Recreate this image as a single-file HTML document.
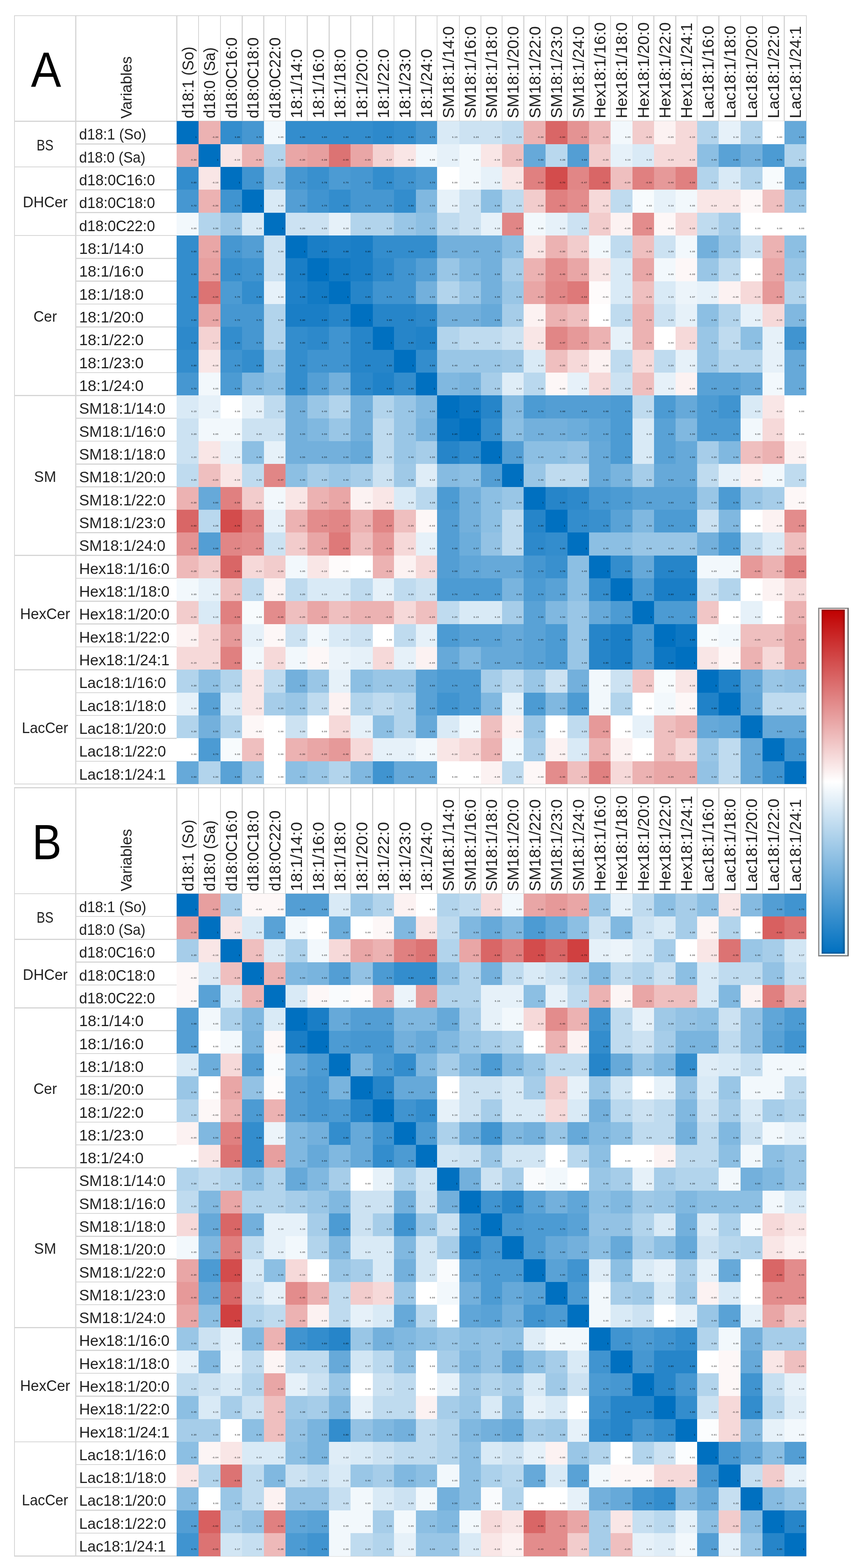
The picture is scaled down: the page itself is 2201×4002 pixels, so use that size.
<!DOCTYPE html>
<html><head><meta charset="utf-8"><title>Heatmap</title><style>
html,body{margin:0;padding:0;background:#fff;}
body{width:2201px;height:4002px;position:relative;overflow:hidden;font-family:"Liberation Sans",Arial,sans-serif;color:#222;}
.l{position:absolute;background:#d5d5d5;}
.c{position:absolute;}
.c i{position:absolute;right:5px;top:38.5px;font-style:normal;font-weight:bold;font-size:5.5px;line-height:5.5px;letter-spacing:.8px;color:rgba(0,0,0,.78);}
.big{position:absolute;font-size:127px;line-height:127px;color:#000;transform-origin:0 0;}
.vh,.ch{position:absolute;white-space:nowrap;transform-origin:0 0;transform:rotate(-90deg) translateY(-50%);line-height:1;}
.vh{font-size:39.3px;}
.ch{font-size:40.2px;}
.rl{position:absolute;white-space:nowrap;font-size:39px;line-height:1;transform-origin:0 0;}
.gl span{display:inline-block;}
.gl{position:absolute;display:flex;align-items:center;justify-content:center;font-size:39px;line-height:1;}
.cb{position:absolute;}
</style></head><body>
<div class="l" style="left:35.7px;top:38.5px;width:2024.4px;height:2.6px"></div>
<div class="l" style="left:35.7px;top:308px;width:2023.1px;height:2.6px"></div>
<div class="l" style="left:35.7px;top:1999.86px;width:2023.1px;height:2.6px"></div>
<div class="l" style="left:35.7px;top:39.8px;width:2.6px;height:1962.66px"></div>
<div class="l" style="left:192.4px;top:39.8px;width:2.6px;height:1961.36px"></div>
<div class="l" style="left:450px;top:39.8px;width:2.6px;height:269.5px"></div>
<div class="l" style="left:505.9px;top:39.8px;width:2.6px;height:269.5px"></div>
<div class="l" style="left:561.5px;top:39.8px;width:2.6px;height:269.5px"></div>
<div class="l" style="left:617.1px;top:39.8px;width:2.6px;height:269.5px"></div>
<div class="l" style="left:672.4px;top:39.8px;width:2.6px;height:269.5px"></div>
<div class="l" style="left:727.8px;top:39.8px;width:2.6px;height:269.5px"></div>
<div class="l" style="left:783.4px;top:39.8px;width:2.6px;height:269.5px"></div>
<div class="l" style="left:839px;top:39.8px;width:2.6px;height:269.5px"></div>
<div class="l" style="left:894.1px;top:39.8px;width:2.6px;height:269.5px"></div>
<div class="l" style="left:950.2px;top:39.8px;width:2.6px;height:269.5px"></div>
<div class="l" style="left:1004.8px;top:39.8px;width:2.6px;height:269.5px"></div>
<div class="l" style="left:1060.3px;top:39.8px;width:2.6px;height:269.5px"></div>
<div class="l" style="left:1114.7px;top:39.8px;width:2.6px;height:269.5px"></div>
<div class="l" style="left:1171.9px;top:39.8px;width:2.6px;height:269.5px"></div>
<div class="l" style="left:1226.5px;top:39.8px;width:2.6px;height:269.5px"></div>
<div class="l" style="left:1280.9px;top:39.8px;width:2.6px;height:269.5px"></div>
<div class="l" style="left:1336px;top:39.8px;width:2.6px;height:269.5px"></div>
<div class="l" style="left:1391.9px;top:39.8px;width:2.6px;height:269.5px"></div>
<div class="l" style="left:1447.3px;top:39.8px;width:2.6px;height:269.5px"></div>
<div class="l" style="left:1502.7px;top:39.8px;width:2.6px;height:269.5px"></div>
<div class="l" style="left:1557.8px;top:39.8px;width:2.6px;height:269.5px"></div>
<div class="l" style="left:1613.7px;top:39.8px;width:2.6px;height:269.5px"></div>
<div class="l" style="left:1668.3px;top:39.8px;width:2.6px;height:269.5px"></div>
<div class="l" style="left:1724px;top:39.8px;width:2.6px;height:269.5px"></div>
<div class="l" style="left:1778.9px;top:39.8px;width:2.6px;height:269.5px"></div>
<div class="l" style="left:1834px;top:39.8px;width:2.6px;height:269.5px"></div>
<div class="l" style="left:1889.8px;top:39.8px;width:2.6px;height:269.5px"></div>
<div class="l" style="left:1945.5px;top:39.8px;width:2.6px;height:269.5px"></div>
<div class="l" style="left:2001.4px;top:39.8px;width:2.6px;height:269.5px"></div>
<div class="l" style="left:2057.5px;top:39.8px;width:2.6px;height:269.5px"></div>
<div class="l" style="left:193.7px;top:366.34px;width:257.6px;height:2.6px"></div>
<div class="l" style="left:193.7px;top:424.68px;width:257.6px;height:2.6px"></div>
<div class="l" style="left:193.7px;top:483.02px;width:257.6px;height:2.6px"></div>
<div class="l" style="left:193.7px;top:541.36px;width:257.6px;height:2.6px"></div>
<div class="l" style="left:193.7px;top:599.7px;width:257.6px;height:2.6px"></div>
<div class="l" style="left:193.7px;top:658.04px;width:257.6px;height:2.6px"></div>
<div class="l" style="left:193.7px;top:716.38px;width:257.6px;height:2.6px"></div>
<div class="l" style="left:193.7px;top:774.72px;width:257.6px;height:2.6px"></div>
<div class="l" style="left:193.7px;top:833.06px;width:257.6px;height:2.6px"></div>
<div class="l" style="left:193.7px;top:891.4px;width:257.6px;height:2.6px"></div>
<div class="l" style="left:193.7px;top:949.74px;width:257.6px;height:2.6px"></div>
<div class="l" style="left:193.7px;top:1008.08px;width:257.6px;height:2.6px"></div>
<div class="l" style="left:193.7px;top:1066.42px;width:257.6px;height:2.6px"></div>
<div class="l" style="left:193.7px;top:1124.76px;width:257.6px;height:2.6px"></div>
<div class="l" style="left:193.7px;top:1183.1px;width:257.6px;height:2.6px"></div>
<div class="l" style="left:193.7px;top:1241.44px;width:257.6px;height:2.6px"></div>
<div class="l" style="left:193.7px;top:1299.78px;width:257.6px;height:2.6px"></div>
<div class="l" style="left:193.7px;top:1358.12px;width:257.6px;height:2.6px"></div>
<div class="l" style="left:193.7px;top:1416.46px;width:257.6px;height:2.6px"></div>
<div class="l" style="left:193.7px;top:1474.8px;width:257.6px;height:2.6px"></div>
<div class="l" style="left:193.7px;top:1533.14px;width:257.6px;height:2.6px"></div>
<div class="l" style="left:193.7px;top:1591.48px;width:257.6px;height:2.6px"></div>
<div class="l" style="left:193.7px;top:1649.82px;width:257.6px;height:2.6px"></div>
<div class="l" style="left:193.7px;top:1708.16px;width:257.6px;height:2.6px"></div>
<div class="l" style="left:193.7px;top:1766.5px;width:257.6px;height:2.6px"></div>
<div class="l" style="left:193.7px;top:1824.84px;width:257.6px;height:2.6px"></div>
<div class="l" style="left:193.7px;top:1883.18px;width:257.6px;height:2.6px"></div>
<div class="l" style="left:193.7px;top:1941.52px;width:257.6px;height:2.6px"></div>
<div class="l" style="left:37px;top:424.68px;width:156.7px;height:2.6px"></div>
<div class="l" style="left:37px;top:599.7px;width:156.7px;height:2.6px"></div>
<div class="l" style="left:37px;top:1008.08px;width:156.7px;height:2.6px"></div>
<div class="l" style="left:37px;top:1416.46px;width:156.7px;height:2.6px"></div>
<div class="l" style="left:37px;top:1708.16px;width:156.7px;height:2.6px"></div>
<div class="c" style="left:451.3px;top:309.3px;width:56.2px;height:58.64px;background:#0070c0"><i>1</i></div>
<div class="c" style="left:507.2px;top:309.3px;width:55.9px;height:58.64px;background:#ecb2b2"><i>-0.30</i></div>
<div class="c" style="left:562.8px;top:309.3px;width:55.9px;height:58.64px;background:#338dcd"><i>0.80</i></div>
<div class="c" style="left:618.4px;top:309.3px;width:55.6px;height:58.64px;background:#4697d1"><i>0.72</i></div>
<div class="c" style="left:673.7px;top:309.3px;width:55.7px;height:58.64px;background:#f2f8fc"><i>0.05</i></div>
<div class="c" style="left:729.1px;top:309.3px;width:55.9px;height:58.64px;background:#338dcd"><i>0.80</i></div>
<div class="c" style="left:784.7px;top:309.3px;width:55.9px;height:58.64px;background:#338dcd"><i>0.80</i></div>
<div class="c" style="left:840.3px;top:309.3px;width:55.4px;height:58.64px;background:#338dcd"><i>0.80</i></div>
<div class="c" style="left:895.4px;top:309.3px;width:56.4px;height:58.64px;background:#338dcd"><i>0.80</i></div>
<div class="c" style="left:951.5px;top:309.3px;width:54.9px;height:58.64px;background:#2d89cb"><i>0.82</i></div>
<div class="c" style="left:1006.1px;top:309.3px;width:55.8px;height:58.64px;background:#338dcd"><i>0.80</i></div>
<div class="c" style="left:1061.6px;top:309.3px;width:54.7px;height:58.64px;background:#4697d1"><i>0.72</i></div>
<div class="c" style="left:1116px;top:309.3px;width:57.5px;height:58.64px;background:#d9eaf6"><i>0.15</i></div>
<div class="c" style="left:1173.2px;top:309.3px;width:54.9px;height:58.64px;background:#cce2f2"><i>0.20</i></div>
<div class="c" style="left:1227.8px;top:309.3px;width:54.7px;height:58.64px;background:#cce2f2"><i>0.20</i></div>
<div class="c" style="left:1282.2px;top:309.3px;width:55.4px;height:58.64px;background:#bfdbef"><i>0.25</i></div>
<div class="c" style="left:1337.3px;top:309.3px;width:56.2px;height:58.64px;background:#ecb2b2"><i>-0.30</i></div>
<div class="c" style="left:1393.2px;top:309.3px;width:55.7px;height:58.64px;background:#d96666"><i>-0.60</i></div>
<div class="c" style="left:1448.6px;top:309.3px;width:55.7px;height:58.64px;background:#e49393"><i>-0.42</i></div>
<div class="c" style="left:1504px;top:309.3px;width:55.4px;height:58.64px;background:#eeb9b9"><i>-0.28</i></div>
<div class="c" style="left:1559.1px;top:309.3px;width:56.2px;height:58.64px;background:#f2f8fc"><i>0.05</i></div>
<div class="c" style="left:1615px;top:309.3px;width:54.9px;height:58.64px;background:#f2cccc"><i>-0.20</i></div>
<div class="c" style="left:1669.6px;top:309.3px;width:56px;height:58.64px;background:#fcf2f2"><i>-0.05</i></div>
<div class="c" style="left:1725.3px;top:309.3px;width:55.2px;height:58.64px;background:#f6d9d9"><i>-0.15</i></div>
<div class="c" style="left:1780.2px;top:309.3px;width:55.4px;height:58.64px;background:#b2d4ec"><i>0.30</i></div>
<div class="c" style="left:1835.3px;top:309.3px;width:56.1px;height:58.64px;background:#e6f1f9"><i>0.10</i></div>
<div class="c" style="left:1891.1px;top:309.3px;width:56px;height:58.64px;background:#b2d4ec"><i>0.30</i></div>
<div class="c" style="left:1946.8px;top:309.3px;width:56.2px;height:58.64px;background:#ffffff"><i>0.00</i></div>
<div class="c" style="left:2002.7px;top:309.3px;width:56.4px;height:58.64px;background:#66a9d9"><i>0.60</i></div>
<div class="c" style="left:451.3px;top:367.64px;width:56.2px;height:58.64px;background:#ecb2b2"><i>-0.30</i></div>
<div class="c" style="left:507.2px;top:367.64px;width:55.9px;height:58.64px;background:#0070c0"><i>1</i></div>
<div class="c" style="left:562.8px;top:367.64px;width:55.9px;height:58.64px;background:#f9e6e6"><i>-0.10</i></div>
<div class="c" style="left:618.4px;top:367.64px;width:55.6px;height:58.64px;background:#ecb2b2"><i>-0.30</i></div>
<div class="c" style="left:673.7px;top:367.64px;width:55.7px;height:58.64px;background:#b2d4ec"><i>0.30</i></div>
<div class="c" style="left:729.1px;top:367.64px;width:55.9px;height:58.64px;background:#e9a6a6"><i>-0.35</i></div>
<div class="c" style="left:784.7px;top:367.64px;width:55.9px;height:58.64px;background:#e79f9f"><i>-0.38</i></div>
<div class="c" style="left:840.3px;top:367.64px;width:55.4px;height:58.64px;background:#dc7373"><i>-0.55</i></div>
<div class="c" style="left:895.4px;top:367.64px;width:56.4px;height:58.64px;background:#e9a6a6"><i>-0.35</i></div>
<div class="c" style="left:951.5px;top:367.64px;width:54.9px;height:58.64px;background:#f4d2d2"><i>-0.17</i></div>
<div class="c" style="left:1006.1px;top:367.64px;width:55.8px;height:58.64px;background:#f9e6e6"><i>-0.10</i></div>
<div class="c" style="left:1061.6px;top:367.64px;width:54.7px;height:58.64px;background:#f2f8fc"><i>0.05</i></div>
<div class="c" style="left:1116px;top:367.64px;width:57.5px;height:58.64px;background:#e6f1f9"><i>0.10</i></div>
<div class="c" style="left:1173.2px;top:367.64px;width:54.9px;height:58.64px;background:#f2f8fc"><i>0.05</i></div>
<div class="c" style="left:1227.8px;top:367.64px;width:54.7px;height:58.64px;background:#f9e6e6"><i>-0.10</i></div>
<div class="c" style="left:1282.2px;top:367.64px;width:55.4px;height:58.64px;background:#efbfbf"><i>-0.25</i></div>
<div class="c" style="left:1337.3px;top:367.64px;width:56.2px;height:58.64px;background:#66a9d9"><i>0.60</i></div>
<div class="c" style="left:1393.2px;top:367.64px;width:55.7px;height:58.64px;background:#b9d8ee"><i>0.28</i></div>
<div class="c" style="left:1448.6px;top:367.64px;width:55.7px;height:58.64px;background:#539ed4"><i>0.68</i></div>
<div class="c" style="left:1504px;top:367.64px;width:55.4px;height:58.64px;background:#f2cccc"><i>-0.20</i></div>
<div class="c" style="left:1559.1px;top:367.64px;width:56.2px;height:58.64px;background:#e6f1f9"><i>0.10</i></div>
<div class="c" style="left:1615px;top:367.64px;width:54.9px;height:58.64px;background:#d9eaf6"><i>0.15</i></div>
<div class="c" style="left:1669.6px;top:367.64px;width:56px;height:58.64px;background:#f6d9d9"><i>-0.15</i></div>
<div class="c" style="left:1725.3px;top:367.64px;width:55.2px;height:58.64px;background:#f6d9d9"><i>-0.15</i></div>
<div class="c" style="left:1780.2px;top:367.64px;width:55.4px;height:58.64px;background:#8cbfe3"><i>0.45</i></div>
<div class="c" style="left:1835.3px;top:367.64px;width:56.1px;height:58.64px;background:#59a2d6"><i>0.65</i></div>
<div class="c" style="left:1891.1px;top:367.64px;width:56px;height:58.64px;background:#73b0dc"><i>0.55</i></div>
<div class="c" style="left:1946.8px;top:367.64px;width:56.2px;height:58.64px;background:#4c9bd3"><i>0.70</i></div>
<div class="c" style="left:2002.7px;top:367.64px;width:56.4px;height:58.64px;background:#b2d4ec"><i>0.30</i></div>
<div class="c" style="left:451.3px;top:425.98px;width:56.2px;height:58.64px;background:#338dcd"><i>0.80</i></div>
<div class="c" style="left:507.2px;top:425.98px;width:55.9px;height:58.64px;background:#f9e6e6"><i>-0.10</i></div>
<div class="c" style="left:562.8px;top:425.98px;width:55.9px;height:58.64px;background:#0070c0"><i>1</i></div>
<div class="c" style="left:618.4px;top:425.98px;width:55.6px;height:58.64px;background:#4094d0"><i>0.75</i></div>
<div class="c" style="left:673.7px;top:425.98px;width:55.7px;height:58.64px;background:#99c6e6"><i>0.40</i></div>
<div class="c" style="left:729.1px;top:425.98px;width:55.9px;height:58.64px;background:#4697d1"><i>0.72</i></div>
<div class="c" style="left:784.7px;top:425.98px;width:55.9px;height:58.64px;background:#3990ce"><i>0.78</i></div>
<div class="c" style="left:840.3px;top:425.98px;width:55.4px;height:58.64px;background:#4c9bd3"><i>0.70</i></div>
<div class="c" style="left:895.4px;top:425.98px;width:56.4px;height:58.64px;background:#4697d1"><i>0.72</i></div>
<div class="c" style="left:951.5px;top:425.98px;width:54.9px;height:58.64px;background:#338dcd"><i>0.80</i></div>
<div class="c" style="left:1006.1px;top:425.98px;width:55.8px;height:58.64px;background:#4094d0"><i>0.75</i></div>
<div class="c" style="left:1061.6px;top:425.98px;width:54.7px;height:58.64px;background:#4c9bd3"><i>0.70</i></div>
<div class="c" style="left:1116px;top:425.98px;width:57.5px;height:58.64px;background:#ffffff"><i>0.00</i></div>
<div class="c" style="left:1173.2px;top:425.98px;width:54.9px;height:58.64px;background:#f2f8fc"><i>0.05</i></div>
<div class="c" style="left:1227.8px;top:425.98px;width:54.7px;height:58.64px;background:#e6f1f9"><i>0.10</i></div>
<div class="c" style="left:1282.2px;top:425.98px;width:55.4px;height:58.64px;background:#f9e6e6"><i>-0.10</i></div>
<div class="c" style="left:1337.3px;top:425.98px;width:56.2px;height:58.64px;background:#e08080"><i>-0.50</i></div>
<div class="c" style="left:1393.2px;top:425.98px;width:55.7px;height:58.64px;background:#d34c4c"><i>-0.70</i></div>
<div class="c" style="left:1448.6px;top:425.98px;width:55.7px;height:58.64px;background:#e18686"><i>-0.47</i></div>
<div class="c" style="left:1504px;top:425.98px;width:55.4px;height:58.64px;background:#d96666"><i>-0.60</i></div>
<div class="c" style="left:1559.1px;top:425.98px;width:56.2px;height:58.64px;background:#efbfbf"><i>-0.25</i></div>
<div class="c" style="left:1615px;top:425.98px;width:54.9px;height:58.64px;background:#e08080"><i>-0.50</i></div>
<div class="c" style="left:1669.6px;top:425.98px;width:56px;height:58.64px;background:#e69999"><i>-0.40</i></div>
<div class="c" style="left:1725.3px;top:425.98px;width:55.2px;height:58.64px;background:#e08080"><i>-0.50</i></div>
<div class="c" style="left:1780.2px;top:425.98px;width:55.4px;height:58.64px;background:#b2d4ec"><i>0.30</i></div>
<div class="c" style="left:1835.3px;top:425.98px;width:56.1px;height:58.64px;background:#d9eaf6"><i>0.15</i></div>
<div class="c" style="left:1891.1px;top:425.98px;width:56px;height:58.64px;background:#b2d4ec"><i>0.30</i></div>
<div class="c" style="left:1946.8px;top:425.98px;width:56.2px;height:58.64px;background:#f7fbfd"><i>0.03</i></div>
<div class="c" style="left:2002.7px;top:425.98px;width:56.4px;height:58.64px;background:#59a2d6"><i>0.65</i></div>
<div class="c" style="left:451.3px;top:484.32px;width:56.2px;height:58.64px;background:#4697d1"><i>0.72</i></div>
<div class="c" style="left:507.2px;top:484.32px;width:55.9px;height:58.64px;background:#ecb2b2"><i>-0.30</i></div>
<div class="c" style="left:562.8px;top:484.32px;width:55.9px;height:58.64px;background:#4094d0"><i>0.75</i></div>
<div class="c" style="left:618.4px;top:484.32px;width:55.6px;height:58.64px;background:#0070c0"><i>1</i></div>
<div class="c" style="left:673.7px;top:484.32px;width:55.7px;height:58.64px;background:#d9eaf6"><i>0.15</i></div>
<div class="c" style="left:729.1px;top:484.32px;width:55.9px;height:58.64px;background:#539ed4"><i>0.68</i></div>
<div class="c" style="left:784.7px;top:484.32px;width:55.9px;height:58.64px;background:#4094d0"><i>0.75</i></div>
<div class="c" style="left:840.3px;top:484.32px;width:55.4px;height:58.64px;background:#338dcd"><i>0.80</i></div>
<div class="c" style="left:895.4px;top:484.32px;width:56.4px;height:58.64px;background:#4697d1"><i>0.72</i></div>
<div class="c" style="left:951.5px;top:484.32px;width:54.9px;height:58.64px;background:#4697d1"><i>0.72</i></div>
<div class="c" style="left:1006.1px;top:484.32px;width:55.8px;height:58.64px;background:#338dcd"><i>0.80</i></div>
<div class="c" style="left:1061.6px;top:484.32px;width:54.7px;height:58.64px;background:#80b8e0"><i>0.50</i></div>
<div class="c" style="left:1116px;top:484.32px;width:57.5px;height:58.64px;background:#e6f1f9"><i>0.10</i></div>
<div class="c" style="left:1173.2px;top:484.32px;width:54.9px;height:58.64px;background:#cce2f2"><i>0.20</i></div>
<div class="c" style="left:1227.8px;top:484.32px;width:54.7px;height:58.64px;background:#8cbfe3"><i>0.45</i></div>
<div class="c" style="left:1282.2px;top:484.32px;width:55.4px;height:58.64px;background:#bfdbef"><i>0.25</i></div>
<div class="c" style="left:1337.3px;top:484.32px;width:56.2px;height:58.64px;background:#f2cccc"><i>-0.20</i></div>
<div class="c" style="left:1393.2px;top:484.32px;width:55.7px;height:58.64px;background:#e08080"><i>-0.50</i></div>
<div class="c" style="left:1448.6px;top:484.32px;width:55.7px;height:58.64px;background:#e38c8c"><i>-0.45</i></div>
<div class="c" style="left:1504px;top:484.32px;width:55.4px;height:58.64px;background:#f6d9d9"><i>-0.15</i></div>
<div class="c" style="left:1559.1px;top:484.32px;width:56.2px;height:58.64px;background:#bfdbef"><i>0.25</i></div>
<div class="c" style="left:1615px;top:484.32px;width:54.9px;height:58.64px;background:#f7fbfd"><i>0.03</i></div>
<div class="c" style="left:1669.6px;top:484.32px;width:56px;height:58.64px;background:#e6f1f9"><i>0.10</i></div>
<div class="c" style="left:1725.3px;top:484.32px;width:55.2px;height:58.64px;background:#f2f8fc"><i>0.05</i></div>
<div class="c" style="left:1780.2px;top:484.32px;width:55.4px;height:58.64px;background:#f9e6e6"><i>-0.10</i></div>
<div class="c" style="left:1835.3px;top:484.32px;width:56.1px;height:58.64px;background:#f9e6e6"><i>-0.10</i></div>
<div class="c" style="left:1891.1px;top:484.32px;width:56px;height:58.64px;background:#fdf7f7"><i>-0.03</i></div>
<div class="c" style="left:1946.8px;top:484.32px;width:56.2px;height:58.64px;background:#efbfbf"><i>-0.25</i></div>
<div class="c" style="left:2002.7px;top:484.32px;width:56.4px;height:58.64px;background:#99c6e6"><i>0.40</i></div>
<div class="c" style="left:451.3px;top:542.66px;width:56.2px;height:58.64px;background:#f2f8fc"><i>0.05</i></div>
<div class="c" style="left:507.2px;top:542.66px;width:55.9px;height:58.64px;background:#b2d4ec"><i>0.30</i></div>
<div class="c" style="left:562.8px;top:542.66px;width:55.9px;height:58.64px;background:#99c6e6"><i>0.40</i></div>
<div class="c" style="left:618.4px;top:542.66px;width:55.6px;height:58.64px;background:#d9eaf6"><i>0.15</i></div>
<div class="c" style="left:673.7px;top:542.66px;width:55.7px;height:58.64px;background:#0070c0"><i>1</i></div>
<div class="c" style="left:729.1px;top:542.66px;width:55.9px;height:58.64px;background:#cce2f2"><i>0.20</i></div>
<div class="c" style="left:784.7px;top:542.66px;width:55.9px;height:58.64px;background:#cce2f2"><i>0.20</i></div>
<div class="c" style="left:840.3px;top:542.66px;width:55.4px;height:58.64px;background:#e6f1f9"><i>0.10</i></div>
<div class="c" style="left:895.4px;top:542.66px;width:56.4px;height:58.64px;background:#b2d4ec"><i>0.30</i></div>
<div class="c" style="left:951.5px;top:542.66px;width:54.9px;height:58.64px;background:#b2d4ec"><i>0.30</i></div>
<div class="c" style="left:1006.1px;top:542.66px;width:55.8px;height:58.64px;background:#99c6e6"><i>0.40</i></div>
<div class="c" style="left:1061.6px;top:542.66px;width:54.7px;height:58.64px;background:#8cbfe3"><i>0.45</i></div>
<div class="c" style="left:1116px;top:542.66px;width:57.5px;height:58.64px;background:#bfdbef"><i>0.25</i></div>
<div class="c" style="left:1173.2px;top:542.66px;width:54.9px;height:58.64px;background:#cce2f2"><i>0.20</i></div>
<div class="c" style="left:1227.8px;top:542.66px;width:54.7px;height:58.64px;background:#e6f1f9"><i>0.10</i></div>
<div class="c" style="left:1282.2px;top:542.66px;width:55.4px;height:58.64px;background:#e18686"><i>-0.47</i></div>
<div class="c" style="left:1337.3px;top:542.66px;width:56.2px;height:58.64px;background:#f2f8fc"><i>0.05</i></div>
<div class="c" style="left:1393.2px;top:542.66px;width:55.7px;height:58.64px;background:#e6f1f9"><i>0.10</i></div>
<div class="c" style="left:1448.6px;top:542.66px;width:55.7px;height:58.64px;background:#cce2f2"><i>0.20</i></div>
<div class="c" style="left:1504px;top:542.66px;width:55.4px;height:58.64px;background:#f2cccc"><i>-0.20</i></div>
<div class="c" style="left:1559.1px;top:542.66px;width:56.2px;height:58.64px;background:#fcf2f2"><i>-0.05</i></div>
<div class="c" style="left:1615px;top:542.66px;width:54.9px;height:58.64px;background:#e38c8c"><i>-0.45</i></div>
<div class="c" style="left:1669.6px;top:542.66px;width:56px;height:58.64px;background:#fdf7f7"><i>-0.03</i></div>
<div class="c" style="left:1725.3px;top:542.66px;width:55.2px;height:58.64px;background:#f6d9d9"><i>-0.15</i></div>
<div class="c" style="left:1780.2px;top:542.66px;width:55.4px;height:58.64px;background:#bfdbef"><i>0.25</i></div>
<div class="c" style="left:1835.3px;top:542.66px;width:56.1px;height:58.64px;background:#a6cde9"><i>0.35</i></div>
<div class="c" style="left:1891.1px;top:542.66px;width:56px;height:58.64px;background:#ffffff"><i>0.00</i></div>
<div class="c" style="left:1946.8px;top:542.66px;width:56.2px;height:58.64px;background:#ffffff"><i>0.00</i></div>
<div class="c" style="left:2002.7px;top:542.66px;width:56.4px;height:58.64px;background:#ffffff"><i>0.00</i></div>
<div class="c" style="left:451.3px;top:601px;width:56.2px;height:58.64px;background:#338dcd"><i>0.80</i></div>
<div class="c" style="left:507.2px;top:601px;width:55.9px;height:58.64px;background:#e9a6a6"><i>-0.35</i></div>
<div class="c" style="left:562.8px;top:601px;width:55.9px;height:58.64px;background:#4697d1"><i>0.72</i></div>
<div class="c" style="left:618.4px;top:601px;width:55.6px;height:58.64px;background:#539ed4"><i>0.68</i></div>
<div class="c" style="left:673.7px;top:601px;width:55.7px;height:58.64px;background:#cce2f2"><i>0.20</i></div>
<div class="c" style="left:729.1px;top:601px;width:55.9px;height:58.64px;background:#0070c0"><i>1</i></div>
<div class="c" style="left:784.7px;top:601px;width:55.9px;height:58.64px;background:#1a7ec6"><i>0.90</i></div>
<div class="c" style="left:840.3px;top:601px;width:55.4px;height:58.64px;background:#1f81c8"><i>0.88</i></div>
<div class="c" style="left:895.4px;top:601px;width:56.4px;height:58.64px;background:#1a7ec6"><i>0.90</i></div>
<div class="c" style="left:951.5px;top:601px;width:54.9px;height:58.64px;background:#338dcd"><i>0.80</i></div>
<div class="c" style="left:1006.1px;top:601px;width:55.8px;height:58.64px;background:#338dcd"><i>0.80</i></div>
<div class="c" style="left:1061.6px;top:601px;width:54.7px;height:58.64px;background:#338dcd"><i>0.80</i></div>
<div class="c" style="left:1116px;top:601px;width:57.5px;height:58.64px;background:#73b0dc"><i>0.55</i></div>
<div class="c" style="left:1173.2px;top:601px;width:54.9px;height:58.64px;background:#73b0dc"><i>0.55</i></div>
<div class="c" style="left:1227.8px;top:601px;width:54.7px;height:58.64px;background:#73b0dc"><i>0.55</i></div>
<div class="c" style="left:1282.2px;top:601px;width:55.4px;height:58.64px;background:#8cbfe3"><i>0.45</i></div>
<div class="c" style="left:1337.3px;top:601px;width:56.2px;height:58.64px;background:#f9e6e6"><i>-0.10</i></div>
<div class="c" style="left:1393.2px;top:601px;width:55.7px;height:58.64px;background:#ecb2b2"><i>-0.30</i></div>
<div class="c" style="left:1448.6px;top:601px;width:55.7px;height:58.64px;background:#f2cccc"><i>-0.20</i></div>
<div class="c" style="left:1504px;top:601px;width:55.4px;height:58.64px;background:#f2f8fc"><i>0.05</i></div>
<div class="c" style="left:1559.1px;top:601px;width:56.2px;height:58.64px;background:#bfdbef"><i>0.25</i></div>
<div class="c" style="left:1615px;top:601px;width:54.9px;height:58.64px;background:#efbfbf"><i>-0.25</i></div>
<div class="c" style="left:1669.6px;top:601px;width:56px;height:58.64px;background:#cce2f2"><i>0.20</i></div>
<div class="c" style="left:1725.3px;top:601px;width:55.2px;height:58.64px;background:#f2f8fc"><i>0.05</i></div>
<div class="c" style="left:1780.2px;top:601px;width:55.4px;height:58.64px;background:#73b0dc"><i>0.55</i></div>
<div class="c" style="left:1835.3px;top:601px;width:56.1px;height:58.64px;background:#99c6e6"><i>0.40</i></div>
<div class="c" style="left:1891.1px;top:601px;width:56px;height:58.64px;background:#cce2f2"><i>0.20</i></div>
<div class="c" style="left:1946.8px;top:601px;width:56.2px;height:58.64px;background:#ecb2b2"><i>-0.30</i></div>
<div class="c" style="left:2002.7px;top:601px;width:56.4px;height:58.64px;background:#8cbfe3"><i>0.45</i></div>
<div class="c" style="left:451.3px;top:659.34px;width:56.2px;height:58.64px;background:#338dcd"><i>0.80</i></div>
<div class="c" style="left:507.2px;top:659.34px;width:55.9px;height:58.64px;background:#e79f9f"><i>-0.38</i></div>
<div class="c" style="left:562.8px;top:659.34px;width:55.9px;height:58.64px;background:#3990ce"><i>0.78</i></div>
<div class="c" style="left:618.4px;top:659.34px;width:55.6px;height:58.64px;background:#4094d0"><i>0.75</i></div>
<div class="c" style="left:673.7px;top:659.34px;width:55.7px;height:58.64px;background:#cce2f2"><i>0.20</i></div>
<div class="c" style="left:729.1px;top:659.34px;width:55.9px;height:58.64px;background:#1a7ec6"><i>0.90</i></div>
<div class="c" style="left:784.7px;top:659.34px;width:55.9px;height:58.64px;background:#0070c0"><i>1</i></div>
<div class="c" style="left:840.3px;top:659.34px;width:55.4px;height:58.64px;background:#127ac4"><i>0.93</i></div>
<div class="c" style="left:895.4px;top:659.34px;width:56.4px;height:58.64px;background:#1a7ec6"><i>0.90</i></div>
<div class="c" style="left:951.5px;top:659.34px;width:54.9px;height:58.64px;background:#2d89cb"><i>0.82</i></div>
<div class="c" style="left:1006.1px;top:659.34px;width:55.8px;height:58.64px;background:#4094d0"><i>0.75</i></div>
<div class="c" style="left:1061.6px;top:659.34px;width:54.7px;height:58.64px;background:#549fd5"><i>0.67</i></div>
<div class="c" style="left:1116px;top:659.34px;width:57.5px;height:58.64px;background:#99c6e6"><i>0.40</i></div>
<div class="c" style="left:1173.2px;top:659.34px;width:54.9px;height:58.64px;background:#80b8e0"><i>0.50</i></div>
<div class="c" style="left:1227.8px;top:659.34px;width:54.7px;height:58.64px;background:#73b0dc"><i>0.55</i></div>
<div class="c" style="left:1282.2px;top:659.34px;width:55.4px;height:58.64px;background:#a6cde9"><i>0.35</i></div>
<div class="c" style="left:1337.3px;top:659.34px;width:56.2px;height:58.64px;background:#ecb2b2"><i>-0.30</i></div>
<div class="c" style="left:1393.2px;top:659.34px;width:55.7px;height:58.64px;background:#e38c8c"><i>-0.45</i></div>
<div class="c" style="left:1448.6px;top:659.34px;width:55.7px;height:58.64px;background:#e9a6a6"><i>-0.35</i></div>
<div class="c" style="left:1504px;top:659.34px;width:55.4px;height:58.64px;background:#f9e6e6"><i>-0.10</i></div>
<div class="c" style="left:1559.1px;top:659.34px;width:56.2px;height:58.64px;background:#d9eaf6"><i>0.15</i></div>
<div class="c" style="left:1615px;top:659.34px;width:54.9px;height:58.64px;background:#e9a6a6"><i>-0.35</i></div>
<div class="c" style="left:1669.6px;top:659.34px;width:56px;height:58.64px;background:#f2f8fc"><i>0.05</i></div>
<div class="c" style="left:1725.3px;top:659.34px;width:55.2px;height:58.64px;background:#fdf7f7"><i>-0.03</i></div>
<div class="c" style="left:1780.2px;top:659.34px;width:55.4px;height:58.64px;background:#99c6e6"><i>0.40</i></div>
<div class="c" style="left:1835.3px;top:659.34px;width:56.1px;height:58.64px;background:#bfdbef"><i>0.25</i></div>
<div class="c" style="left:1891.1px;top:659.34px;width:56px;height:58.64px;background:#ffffff"><i>0.00</i></div>
<div class="c" style="left:1946.8px;top:659.34px;width:56.2px;height:58.64px;background:#e9a6a6"><i>-0.35</i></div>
<div class="c" style="left:2002.7px;top:659.34px;width:56.4px;height:58.64px;background:#99c6e6"><i>0.40</i></div>
<div class="c" style="left:451.3px;top:717.68px;width:56.2px;height:58.64px;background:#338dcd"><i>0.80</i></div>
<div class="c" style="left:507.2px;top:717.68px;width:55.9px;height:58.64px;background:#dc7373"><i>-0.55</i></div>
<div class="c" style="left:562.8px;top:717.68px;width:55.9px;height:58.64px;background:#4c9bd3"><i>0.70</i></div>
<div class="c" style="left:618.4px;top:717.68px;width:55.6px;height:58.64px;background:#338dcd"><i>0.80</i></div>
<div class="c" style="left:673.7px;top:717.68px;width:55.7px;height:58.64px;background:#e6f1f9"><i>0.10</i></div>
<div class="c" style="left:729.1px;top:717.68px;width:55.9px;height:58.64px;background:#1f81c8"><i>0.88</i></div>
<div class="c" style="left:784.7px;top:717.68px;width:55.9px;height:58.64px;background:#127ac4"><i>0.93</i></div>
<div class="c" style="left:840.3px;top:717.68px;width:55.4px;height:58.64px;background:#0070c0"><i>1</i></div>
<div class="c" style="left:895.4px;top:717.68px;width:56.4px;height:58.64px;background:#2685c9"><i>0.85</i></div>
<div class="c" style="left:951.5px;top:717.68px;width:54.9px;height:58.64px;background:#4094d0"><i>0.75</i></div>
<div class="c" style="left:1006.1px;top:717.68px;width:55.8px;height:58.64px;background:#4094d0"><i>0.75</i></div>
<div class="c" style="left:1061.6px;top:717.68px;width:54.7px;height:58.64px;background:#73b0dc"><i>0.55</i></div>
<div class="c" style="left:1116px;top:717.68px;width:57.5px;height:58.64px;background:#b2d4ec"><i>0.30</i></div>
<div class="c" style="left:1173.2px;top:717.68px;width:54.9px;height:58.64px;background:#99c6e6"><i>0.40</i></div>
<div class="c" style="left:1227.8px;top:717.68px;width:54.7px;height:58.64px;background:#73b0dc"><i>0.55</i></div>
<div class="c" style="left:1282.2px;top:717.68px;width:55.4px;height:58.64px;background:#99c6e6"><i>0.40</i></div>
<div class="c" style="left:1337.3px;top:717.68px;width:56.2px;height:58.64px;background:#e9a6a6"><i>-0.35</i></div>
<div class="c" style="left:1393.2px;top:717.68px;width:55.7px;height:58.64px;background:#e18686"><i>-0.47</i></div>
<div class="c" style="left:1448.6px;top:717.68px;width:55.7px;height:58.64px;background:#de7979"><i>-0.53</i></div>
<div class="c" style="left:1504px;top:717.68px;width:55.4px;height:58.64px;background:#fefbfb"><i>-0.01</i></div>
<div class="c" style="left:1559.1px;top:717.68px;width:56.2px;height:58.64px;background:#d9eaf6"><i>0.15</i></div>
<div class="c" style="left:1615px;top:717.68px;width:54.9px;height:58.64px;background:#efbfbf"><i>-0.25</i></div>
<div class="c" style="left:1669.6px;top:717.68px;width:56px;height:58.64px;background:#d9eaf6"><i>0.15</i></div>
<div class="c" style="left:1725.3px;top:717.68px;width:55.2px;height:58.64px;background:#ecf4fa"><i>0.07</i></div>
<div class="c" style="left:1780.2px;top:717.68px;width:55.4px;height:58.64px;background:#e6f1f9"><i>0.10</i></div>
<div class="c" style="left:1835.3px;top:717.68px;width:56.1px;height:58.64px;background:#fcf2f2"><i>-0.05</i></div>
<div class="c" style="left:1891.1px;top:717.68px;width:56px;height:58.64px;background:#f6d9d9"><i>-0.15</i></div>
<div class="c" style="left:1946.8px;top:717.68px;width:56.2px;height:58.64px;background:#e69999"><i>-0.40</i></div>
<div class="c" style="left:2002.7px;top:717.68px;width:56.4px;height:58.64px;background:#b2d4ec"><i>0.30</i></div>
<div class="c" style="left:451.3px;top:776.02px;width:56.2px;height:58.64px;background:#338dcd"><i>0.80</i></div>
<div class="c" style="left:507.2px;top:776.02px;width:55.9px;height:58.64px;background:#e9a6a6"><i>-0.35</i></div>
<div class="c" style="left:562.8px;top:776.02px;width:55.9px;height:58.64px;background:#4697d1"><i>0.72</i></div>
<div class="c" style="left:618.4px;top:776.02px;width:55.6px;height:58.64px;background:#4697d1"><i>0.72</i></div>
<div class="c" style="left:673.7px;top:776.02px;width:55.7px;height:58.64px;background:#b2d4ec"><i>0.30</i></div>
<div class="c" style="left:729.1px;top:776.02px;width:55.9px;height:58.64px;background:#1a7ec6"><i>0.90</i></div>
<div class="c" style="left:784.7px;top:776.02px;width:55.9px;height:58.64px;background:#1a7ec6"><i>0.90</i></div>
<div class="c" style="left:840.3px;top:776.02px;width:55.4px;height:58.64px;background:#2685c9"><i>0.85</i></div>
<div class="c" style="left:895.4px;top:776.02px;width:56.4px;height:58.64px;background:#0070c0"><i>1</i></div>
<div class="c" style="left:951.5px;top:776.02px;width:54.9px;height:58.64px;background:#2685c9"><i>0.85</i></div>
<div class="c" style="left:1006.1px;top:776.02px;width:55.8px;height:58.64px;background:#2685c9"><i>0.85</i></div>
<div class="c" style="left:1061.6px;top:776.02px;width:54.7px;height:58.64px;background:#2d89cb"><i>0.82</i></div>
<div class="c" style="left:1116px;top:776.02px;width:57.5px;height:58.64px;background:#73b0dc"><i>0.55</i></div>
<div class="c" style="left:1173.2px;top:776.02px;width:54.9px;height:58.64px;background:#73b0dc"><i>0.55</i></div>
<div class="c" style="left:1227.8px;top:776.02px;width:54.7px;height:58.64px;background:#66a9d9"><i>0.60</i></div>
<div class="c" style="left:1282.2px;top:776.02px;width:55.4px;height:58.64px;background:#a6cde9"><i>0.35</i></div>
<div class="c" style="left:1337.3px;top:776.02px;width:56.2px;height:58.64px;background:#fcf2f2"><i>-0.05</i></div>
<div class="c" style="left:1393.2px;top:776.02px;width:55.7px;height:58.64px;background:#ecb2b2"><i>-0.30</i></div>
<div class="c" style="left:1448.6px;top:776.02px;width:55.7px;height:58.64px;background:#efbfbf"><i>-0.25</i></div>
<div class="c" style="left:1504px;top:776.02px;width:55.4px;height:58.64px;background:#ffffff"><i>0.00</i></div>
<div class="c" style="left:1559.1px;top:776.02px;width:56.2px;height:58.64px;background:#bfdbef"><i>0.25</i></div>
<div class="c" style="left:1615px;top:776.02px;width:54.9px;height:58.64px;background:#ecb2b2"><i>-0.30</i></div>
<div class="c" style="left:1669.6px;top:776.02px;width:56px;height:58.64px;background:#cce2f2"><i>0.20</i></div>
<div class="c" style="left:1725.3px;top:776.02px;width:55.2px;height:58.64px;background:#e6f1f9"><i>0.10</i></div>
<div class="c" style="left:1780.2px;top:776.02px;width:55.4px;height:58.64px;background:#8cbfe3"><i>0.45</i></div>
<div class="c" style="left:1835.3px;top:776.02px;width:56.1px;height:58.64px;background:#b2d4ec"><i>0.30</i></div>
<div class="c" style="left:1891.1px;top:776.02px;width:56px;height:58.64px;background:#e6f1f9"><i>0.10</i></div>
<div class="c" style="left:1946.8px;top:776.02px;width:56.2px;height:58.64px;background:#f6d9d9"><i>-0.15</i></div>
<div class="c" style="left:2002.7px;top:776.02px;width:56.4px;height:58.64px;background:#80b8e0"><i>0.50</i></div>
<div class="c" style="left:451.3px;top:834.36px;width:56.2px;height:58.64px;background:#2d89cb"><i>0.82</i></div>
<div class="c" style="left:507.2px;top:834.36px;width:55.9px;height:58.64px;background:#f4d2d2"><i>-0.17</i></div>
<div class="c" style="left:562.8px;top:834.36px;width:55.9px;height:58.64px;background:#338dcd"><i>0.80</i></div>
<div class="c" style="left:618.4px;top:834.36px;width:55.6px;height:58.64px;background:#4697d1"><i>0.72</i></div>
<div class="c" style="left:673.7px;top:834.36px;width:55.7px;height:58.64px;background:#b2d4ec"><i>0.30</i></div>
<div class="c" style="left:729.1px;top:834.36px;width:55.9px;height:58.64px;background:#338dcd"><i>0.80</i></div>
<div class="c" style="left:784.7px;top:834.36px;width:55.9px;height:58.64px;background:#2d89cb"><i>0.82</i></div>
<div class="c" style="left:840.3px;top:834.36px;width:55.4px;height:58.64px;background:#4094d0"><i>0.75</i></div>
<div class="c" style="left:895.4px;top:834.36px;width:56.4px;height:58.64px;background:#2685c9"><i>0.85</i></div>
<div class="c" style="left:951.5px;top:834.36px;width:54.9px;height:58.64px;background:#0070c0"><i>1</i></div>
<div class="c" style="left:1006.1px;top:834.36px;width:55.8px;height:58.64px;background:#2685c9"><i>0.85</i></div>
<div class="c" style="left:1061.6px;top:834.36px;width:54.7px;height:58.64px;background:#2082c8"><i>0.88</i></div>
<div class="c" style="left:1116px;top:834.36px;width:57.5px;height:58.64px;background:#b2d4ec"><i>0.30</i></div>
<div class="c" style="left:1173.2px;top:834.36px;width:54.9px;height:58.64px;background:#bfdbef"><i>0.25</i></div>
<div class="c" style="left:1227.8px;top:834.36px;width:54.7px;height:58.64px;background:#bfdbef"><i>0.25</i></div>
<div class="c" style="left:1282.2px;top:834.36px;width:55.4px;height:58.64px;background:#cce2f2"><i>0.20</i></div>
<div class="c" style="left:1337.3px;top:834.36px;width:56.2px;height:58.64px;background:#f9e6e6"><i>-0.10</i></div>
<div class="c" style="left:1393.2px;top:834.36px;width:55.7px;height:58.64px;background:#e18686"><i>-0.47</i></div>
<div class="c" style="left:1448.6px;top:834.36px;width:55.7px;height:58.64px;background:#e69999"><i>-0.40</i></div>
<div class="c" style="left:1504px;top:834.36px;width:55.4px;height:58.64px;background:#ecb2b2"><i>-0.30</i></div>
<div class="c" style="left:1559.1px;top:834.36px;width:56.2px;height:58.64px;background:#e6f1f9"><i>0.10</i></div>
<div class="c" style="left:1615px;top:834.36px;width:54.9px;height:58.64px;background:#ecb2b2"><i>-0.30</i></div>
<div class="c" style="left:1669.6px;top:834.36px;width:56px;height:58.64px;background:#ffffff"><i>0.00</i></div>
<div class="c" style="left:1725.3px;top:834.36px;width:55.2px;height:58.64px;background:#f6d9d9"><i>-0.15</i></div>
<div class="c" style="left:1780.2px;top:834.36px;width:55.4px;height:58.64px;background:#99c6e6"><i>0.40</i></div>
<div class="c" style="left:1835.3px;top:834.36px;width:56.1px;height:58.64px;background:#bfdbef"><i>0.25</i></div>
<div class="c" style="left:1891.1px;top:834.36px;width:56px;height:58.64px;background:#8cbfe3"><i>0.45</i></div>
<div class="c" style="left:1946.8px;top:834.36px;width:56.2px;height:58.64px;background:#e6f1f9"><i>0.10</i></div>
<div class="c" style="left:2002.7px;top:834.36px;width:56.4px;height:58.64px;background:#4094d0"><i>0.75</i></div>
<div class="c" style="left:451.3px;top:892.7px;width:56.2px;height:58.64px;background:#338dcd"><i>0.80</i></div>
<div class="c" style="left:507.2px;top:892.7px;width:55.9px;height:58.64px;background:#f9e6e6"><i>-0.10</i></div>
<div class="c" style="left:562.8px;top:892.7px;width:55.9px;height:58.64px;background:#4094d0"><i>0.75</i></div>
<div class="c" style="left:618.4px;top:892.7px;width:55.6px;height:58.64px;background:#338dcd"><i>0.80</i></div>
<div class="c" style="left:673.7px;top:892.7px;width:55.7px;height:58.64px;background:#99c6e6"><i>0.40</i></div>
<div class="c" style="left:729.1px;top:892.7px;width:55.9px;height:58.64px;background:#338dcd"><i>0.80</i></div>
<div class="c" style="left:784.7px;top:892.7px;width:55.9px;height:58.64px;background:#4094d0"><i>0.75</i></div>
<div class="c" style="left:840.3px;top:892.7px;width:55.4px;height:58.64px;background:#4094d0"><i>0.75</i></div>
<div class="c" style="left:895.4px;top:892.7px;width:56.4px;height:58.64px;background:#2685c9"><i>0.85</i></div>
<div class="c" style="left:951.5px;top:892.7px;width:54.9px;height:58.64px;background:#2685c9"><i>0.85</i></div>
<div class="c" style="left:1006.1px;top:892.7px;width:55.8px;height:58.64px;background:#0070c0"><i>1</i></div>
<div class="c" style="left:1061.6px;top:892.7px;width:54.7px;height:58.64px;background:#338dcd"><i>0.80</i></div>
<div class="c" style="left:1116px;top:892.7px;width:57.5px;height:58.64px;background:#99c6e6"><i>0.40</i></div>
<div class="c" style="left:1173.2px;top:892.7px;width:54.9px;height:58.64px;background:#99c6e6"><i>0.40</i></div>
<div class="c" style="left:1227.8px;top:892.7px;width:54.7px;height:58.64px;background:#99c6e6"><i>0.40</i></div>
<div class="c" style="left:1282.2px;top:892.7px;width:55.4px;height:58.64px;background:#9fc9e7"><i>0.38</i></div>
<div class="c" style="left:1337.3px;top:892.7px;width:56.2px;height:58.64px;background:#d9eaf6"><i>0.15</i></div>
<div class="c" style="left:1393.2px;top:892.7px;width:55.7px;height:58.64px;background:#efbfbf"><i>-0.25</i></div>
<div class="c" style="left:1448.6px;top:892.7px;width:55.7px;height:58.64px;background:#f6d9d9"><i>-0.15</i></div>
<div class="c" style="left:1504px;top:892.7px;width:55.4px;height:58.64px;background:#fcf2f2"><i>-0.05</i></div>
<div class="c" style="left:1559.1px;top:892.7px;width:56.2px;height:58.64px;background:#bfdbef"><i>0.25</i></div>
<div class="c" style="left:1615px;top:892.7px;width:54.9px;height:58.64px;background:#f6d9d9"><i>-0.15</i></div>
<div class="c" style="left:1669.6px;top:892.7px;width:56px;height:58.64px;background:#bfdbef"><i>0.25</i></div>
<div class="c" style="left:1725.3px;top:892.7px;width:55.2px;height:58.64px;background:#e6f1f9"><i>0.10</i></div>
<div class="c" style="left:1780.2px;top:892.7px;width:55.4px;height:58.64px;background:#99c6e6"><i>0.40</i></div>
<div class="c" style="left:1835.3px;top:892.7px;width:56.1px;height:58.64px;background:#b2d4ec"><i>0.30</i></div>
<div class="c" style="left:1891.1px;top:892.7px;width:56px;height:58.64px;background:#b2d4ec"><i>0.30</i></div>
<div class="c" style="left:1946.8px;top:892.7px;width:56.2px;height:58.64px;background:#e6f1f9"><i>0.10</i></div>
<div class="c" style="left:2002.7px;top:892.7px;width:56.4px;height:58.64px;background:#66a9d9"><i>0.60</i></div>
<div class="c" style="left:451.3px;top:951.04px;width:56.2px;height:58.64px;background:#4697d1"><i>0.72</i></div>
<div class="c" style="left:507.2px;top:951.04px;width:55.9px;height:58.64px;background:#f2f8fc"><i>0.05</i></div>
<div class="c" style="left:562.8px;top:951.04px;width:55.9px;height:58.64px;background:#4c9bd3"><i>0.70</i></div>
<div class="c" style="left:618.4px;top:951.04px;width:55.6px;height:58.64px;background:#80b8e0"><i>0.50</i></div>
<div class="c" style="left:673.7px;top:951.04px;width:55.7px;height:58.64px;background:#8cbfe3"><i>0.45</i></div>
<div class="c" style="left:729.1px;top:951.04px;width:55.9px;height:58.64px;background:#338dcd"><i>0.80</i></div>
<div class="c" style="left:784.7px;top:951.04px;width:55.9px;height:58.64px;background:#549fd5"><i>0.67</i></div>
<div class="c" style="left:840.3px;top:951.04px;width:55.4px;height:58.64px;background:#73b0dc"><i>0.55</i></div>
<div class="c" style="left:895.4px;top:951.04px;width:56.4px;height:58.64px;background:#2d89cb"><i>0.82</i></div>
<div class="c" style="left:951.5px;top:951.04px;width:54.9px;height:58.64px;background:#2082c8"><i>0.88</i></div>
<div class="c" style="left:1006.1px;top:951.04px;width:55.8px;height:58.64px;background:#338dcd"><i>0.80</i></div>
<div class="c" style="left:1061.6px;top:951.04px;width:54.7px;height:58.64px;background:#0070c0"><i>1</i></div>
<div class="c" style="left:1116px;top:951.04px;width:57.5px;height:58.64px;background:#80b8e0"><i>0.50</i></div>
<div class="c" style="left:1173.2px;top:951.04px;width:54.9px;height:58.64px;background:#79b4de"><i>0.53</i></div>
<div class="c" style="left:1227.8px;top:951.04px;width:54.7px;height:58.64px;background:#a6cde9"><i>0.35</i></div>
<div class="c" style="left:1282.2px;top:951.04px;width:55.4px;height:58.64px;background:#dfedf7"><i>0.12</i></div>
<div class="c" style="left:1337.3px;top:951.04px;width:56.2px;height:58.64px;background:#b9d8ee"><i>0.28</i></div>
<div class="c" style="left:1393.2px;top:951.04px;width:55.7px;height:58.64px;background:#fdf7f7"><i>-0.03</i></div>
<div class="c" style="left:1448.6px;top:951.04px;width:55.7px;height:58.64px;background:#e6f1f9"><i>0.10</i></div>
<div class="c" style="left:1504px;top:951.04px;width:55.4px;height:58.64px;background:#f6d9d9"><i>-0.15</i></div>
<div class="c" style="left:1559.1px;top:951.04px;width:56.2px;height:58.64px;background:#cce2f2"><i>0.20</i></div>
<div class="c" style="left:1615px;top:951.04px;width:54.9px;height:58.64px;background:#efbfbf"><i>-0.25</i></div>
<div class="c" style="left:1669.6px;top:951.04px;width:56px;height:58.64px;background:#e6f1f9"><i>0.10</i></div>
<div class="c" style="left:1725.3px;top:951.04px;width:55.2px;height:58.64px;background:#fcf2f2"><i>-0.05</i></div>
<div class="c" style="left:1780.2px;top:951.04px;width:55.4px;height:58.64px;background:#59a2d6"><i>0.65</i></div>
<div class="c" style="left:1835.3px;top:951.04px;width:56.1px;height:58.64px;background:#59a2d6"><i>0.65</i></div>
<div class="c" style="left:1891.1px;top:951.04px;width:56px;height:58.64px;background:#66a9d9"><i>0.60</i></div>
<div class="c" style="left:1946.8px;top:951.04px;width:56.2px;height:58.64px;background:#f2f8fc"><i>0.05</i></div>
<div class="c" style="left:2002.7px;top:951.04px;width:56.4px;height:58.64px;background:#66a9d9"><i>0.60</i></div>
<div class="c" style="left:451.3px;top:1009.38px;width:56.2px;height:58.64px;background:#d9eaf6"><i>0.15</i></div>
<div class="c" style="left:507.2px;top:1009.38px;width:55.9px;height:58.64px;background:#e6f1f9"><i>0.10</i></div>
<div class="c" style="left:562.8px;top:1009.38px;width:55.9px;height:58.64px;background:#ffffff"><i>0.00</i></div>
<div class="c" style="left:618.4px;top:1009.38px;width:55.6px;height:58.64px;background:#e6f1f9"><i>0.10</i></div>
<div class="c" style="left:673.7px;top:1009.38px;width:55.7px;height:58.64px;background:#bfdbef"><i>0.25</i></div>
<div class="c" style="left:729.1px;top:1009.38px;width:55.9px;height:58.64px;background:#73b0dc"><i>0.55</i></div>
<div class="c" style="left:784.7px;top:1009.38px;width:55.9px;height:58.64px;background:#99c6e6"><i>0.40</i></div>
<div class="c" style="left:840.3px;top:1009.38px;width:55.4px;height:58.64px;background:#b2d4ec"><i>0.30</i></div>
<div class="c" style="left:895.4px;top:1009.38px;width:56.4px;height:58.64px;background:#73b0dc"><i>0.55</i></div>
<div class="c" style="left:951.5px;top:1009.38px;width:54.9px;height:58.64px;background:#b2d4ec"><i>0.30</i></div>
<div class="c" style="left:1006.1px;top:1009.38px;width:55.8px;height:58.64px;background:#99c6e6"><i>0.40</i></div>
<div class="c" style="left:1061.6px;top:1009.38px;width:54.7px;height:58.64px;background:#80b8e0"><i>0.50</i></div>
<div class="c" style="left:1116px;top:1009.38px;width:57.5px;height:58.64px;background:#0070c0"><i>1</i></div>
<div class="c" style="left:1173.2px;top:1009.38px;width:54.9px;height:58.64px;background:#0d77c3"><i>0.95</i></div>
<div class="c" style="left:1227.8px;top:1009.38px;width:54.7px;height:58.64px;background:#2685c9"><i>0.85</i></div>
<div class="c" style="left:1282.2px;top:1009.38px;width:55.4px;height:58.64px;background:#86bbe1"><i>0.47</i></div>
<div class="c" style="left:1337.3px;top:1009.38px;width:56.2px;height:58.64px;background:#4c9bd3"><i>0.70</i></div>
<div class="c" style="left:1393.2px;top:1009.38px;width:55.7px;height:58.64px;background:#539ed4"><i>0.68</i></div>
<div class="c" style="left:1448.6px;top:1009.38px;width:55.7px;height:58.64px;background:#539ed4"><i>0.68</i></div>
<div class="c" style="left:1504px;top:1009.38px;width:55.4px;height:58.64px;background:#539ed4"><i>0.68</i></div>
<div class="c" style="left:1559.1px;top:1009.38px;width:56.2px;height:58.64px;background:#4c9bd3"><i>0.70</i></div>
<div class="c" style="left:1615px;top:1009.38px;width:54.9px;height:58.64px;background:#bfdbef"><i>0.25</i></div>
<div class="c" style="left:1669.6px;top:1009.38px;width:56px;height:58.64px;background:#4c9bd3"><i>0.70</i></div>
<div class="c" style="left:1725.3px;top:1009.38px;width:55.2px;height:58.64px;background:#66a9d9"><i>0.60</i></div>
<div class="c" style="left:1780.2px;top:1009.38px;width:55.4px;height:58.64px;background:#4c9bd3"><i>0.70</i></div>
<div class="c" style="left:1835.3px;top:1009.38px;width:56.1px;height:58.64px;background:#4094d0"><i>0.75</i></div>
<div class="c" style="left:1891.1px;top:1009.38px;width:56px;height:58.64px;background:#d9eaf6"><i>0.15</i></div>
<div class="c" style="left:1946.8px;top:1009.38px;width:56.2px;height:58.64px;background:#f9e6e6"><i>-0.10</i></div>
<div class="c" style="left:2002.7px;top:1009.38px;width:56.4px;height:58.64px;background:#ffffff"><i>0.00</i></div>
<div class="c" style="left:451.3px;top:1067.72px;width:56.2px;height:58.64px;background:#cce2f2"><i>0.20</i></div>
<div class="c" style="left:507.2px;top:1067.72px;width:55.9px;height:58.64px;background:#f2f8fc"><i>0.05</i></div>
<div class="c" style="left:562.8px;top:1067.72px;width:55.9px;height:58.64px;background:#f2f8fc"><i>0.05</i></div>
<div class="c" style="left:618.4px;top:1067.72px;width:55.6px;height:58.64px;background:#cce2f2"><i>0.20</i></div>
<div class="c" style="left:673.7px;top:1067.72px;width:55.7px;height:58.64px;background:#cce2f2"><i>0.20</i></div>
<div class="c" style="left:729.1px;top:1067.72px;width:55.9px;height:58.64px;background:#73b0dc"><i>0.55</i></div>
<div class="c" style="left:784.7px;top:1067.72px;width:55.9px;height:58.64px;background:#80b8e0"><i>0.50</i></div>
<div class="c" style="left:840.3px;top:1067.72px;width:55.4px;height:58.64px;background:#99c6e6"><i>0.40</i></div>
<div class="c" style="left:895.4px;top:1067.72px;width:56.4px;height:58.64px;background:#73b0dc"><i>0.55</i></div>
<div class="c" style="left:951.5px;top:1067.72px;width:54.9px;height:58.64px;background:#bfdbef"><i>0.25</i></div>
<div class="c" style="left:1006.1px;top:1067.72px;width:55.8px;height:58.64px;background:#99c6e6"><i>0.40</i></div>
<div class="c" style="left:1061.6px;top:1067.72px;width:54.7px;height:58.64px;background:#79b4de"><i>0.53</i></div>
<div class="c" style="left:1116px;top:1067.72px;width:57.5px;height:58.64px;background:#0d77c3"><i>0.95</i></div>
<div class="c" style="left:1173.2px;top:1067.72px;width:54.9px;height:58.64px;background:#0070c0"><i>1</i></div>
<div class="c" style="left:1227.8px;top:1067.72px;width:54.7px;height:58.64px;background:#338dcd"><i>0.80</i></div>
<div class="c" style="left:1282.2px;top:1067.72px;width:55.4px;height:58.64px;background:#8cbfe3"><i>0.45</i></div>
<div class="c" style="left:1337.3px;top:1067.72px;width:56.2px;height:58.64px;background:#73b0dc"><i>0.55</i></div>
<div class="c" style="left:1393.2px;top:1067.72px;width:55.7px;height:58.64px;background:#73b0dc"><i>0.55</i></div>
<div class="c" style="left:1448.6px;top:1067.72px;width:55.7px;height:58.64px;background:#6caddb"><i>0.57</i></div>
<div class="c" style="left:1504px;top:1067.72px;width:55.4px;height:58.64px;background:#60a6d8"><i>0.62</i></div>
<div class="c" style="left:1559.1px;top:1067.72px;width:56.2px;height:58.64px;background:#4c9bd3"><i>0.70</i></div>
<div class="c" style="left:1615px;top:1067.72px;width:54.9px;height:58.64px;background:#d9eaf6"><i>0.15</i></div>
<div class="c" style="left:1669.6px;top:1067.72px;width:56px;height:58.64px;background:#59a2d6"><i>0.65</i></div>
<div class="c" style="left:1725.3px;top:1067.72px;width:55.2px;height:58.64px;background:#80b8e0"><i>0.50</i></div>
<div class="c" style="left:1780.2px;top:1067.72px;width:55.4px;height:58.64px;background:#4c9bd3"><i>0.70</i></div>
<div class="c" style="left:1835.3px;top:1067.72px;width:56.1px;height:58.64px;background:#4c9bd3"><i>0.70</i></div>
<div class="c" style="left:1891.1px;top:1067.72px;width:56px;height:58.64px;background:#f2f8fc"><i>0.05</i></div>
<div class="c" style="left:1946.8px;top:1067.72px;width:56.2px;height:58.64px;background:#f6d9d9"><i>-0.15</i></div>
<div class="c" style="left:2002.7px;top:1067.72px;width:56.4px;height:58.64px;background:#ffffff"><i>0.00</i></div>
<div class="c" style="left:451.3px;top:1126.06px;width:56.2px;height:58.64px;background:#cce2f2"><i>0.20</i></div>
<div class="c" style="left:507.2px;top:1126.06px;width:55.9px;height:58.64px;background:#f9e6e6"><i>-0.10</i></div>
<div class="c" style="left:562.8px;top:1126.06px;width:55.9px;height:58.64px;background:#e6f1f9"><i>0.10</i></div>
<div class="c" style="left:618.4px;top:1126.06px;width:55.6px;height:58.64px;background:#8cbfe3"><i>0.45</i></div>
<div class="c" style="left:673.7px;top:1126.06px;width:55.7px;height:58.64px;background:#e6f1f9"><i>0.10</i></div>
<div class="c" style="left:729.1px;top:1126.06px;width:55.9px;height:58.64px;background:#73b0dc"><i>0.55</i></div>
<div class="c" style="left:784.7px;top:1126.06px;width:55.9px;height:58.64px;background:#73b0dc"><i>0.55</i></div>
<div class="c" style="left:840.3px;top:1126.06px;width:55.4px;height:58.64px;background:#73b0dc"><i>0.55</i></div>
<div class="c" style="left:895.4px;top:1126.06px;width:56.4px;height:58.64px;background:#66a9d9"><i>0.60</i></div>
<div class="c" style="left:951.5px;top:1126.06px;width:54.9px;height:58.64px;background:#bfdbef"><i>0.25</i></div>
<div class="c" style="left:1006.1px;top:1126.06px;width:55.8px;height:58.64px;background:#99c6e6"><i>0.40</i></div>
<div class="c" style="left:1061.6px;top:1126.06px;width:54.7px;height:58.64px;background:#a6cde9"><i>0.35</i></div>
<div class="c" style="left:1116px;top:1126.06px;width:57.5px;height:58.64px;background:#2685c9"><i>0.85</i></div>
<div class="c" style="left:1173.2px;top:1126.06px;width:54.9px;height:58.64px;background:#338dcd"><i>0.80</i></div>
<div class="c" style="left:1227.8px;top:1126.06px;width:54.7px;height:58.64px;background:#0070c0"><i>1</i></div>
<div class="c" style="left:1282.2px;top:1126.06px;width:55.4px;height:58.64px;background:#539ed4"><i>0.68</i></div>
<div class="c" style="left:1337.3px;top:1126.06px;width:56.2px;height:58.64px;background:#8cbfe3"><i>0.45</i></div>
<div class="c" style="left:1393.2px;top:1126.06px;width:55.7px;height:58.64px;background:#8cbfe3"><i>0.45</i></div>
<div class="c" style="left:1448.6px;top:1126.06px;width:55.7px;height:58.64px;background:#93c2e4"><i>0.42</i></div>
<div class="c" style="left:1504px;top:1126.06px;width:55.4px;height:58.64px;background:#66a9d9"><i>0.60</i></div>
<div class="c" style="left:1559.1px;top:1126.06px;width:56.2px;height:58.64px;background:#4c9bd3"><i>0.70</i></div>
<div class="c" style="left:1615px;top:1126.06px;width:54.9px;height:58.64px;background:#d9eaf6"><i>0.15</i></div>
<div class="c" style="left:1669.6px;top:1126.06px;width:56px;height:58.64px;background:#59a2d6"><i>0.65</i></div>
<div class="c" style="left:1725.3px;top:1126.06px;width:55.2px;height:58.64px;background:#66a9d9"><i>0.60</i></div>
<div class="c" style="left:1780.2px;top:1126.06px;width:55.4px;height:58.64px;background:#a6cde9"><i>0.35</i></div>
<div class="c" style="left:1835.3px;top:1126.06px;width:56.1px;height:58.64px;background:#80b8e0"><i>0.50</i></div>
<div class="c" style="left:1891.1px;top:1126.06px;width:56px;height:58.64px;background:#efbfbf"><i>-0.25</i></div>
<div class="c" style="left:1946.8px;top:1126.06px;width:56.2px;height:58.64px;background:#ecb2b2"><i>-0.30</i></div>
<div class="c" style="left:2002.7px;top:1126.06px;width:56.4px;height:58.64px;background:#fcf2f2"><i>-0.05</i></div>
<div class="c" style="left:451.3px;top:1184.4px;width:56.2px;height:58.64px;background:#bfdbef"><i>0.25</i></div>
<div class="c" style="left:507.2px;top:1184.4px;width:55.9px;height:58.64px;background:#efbfbf"><i>-0.25</i></div>
<div class="c" style="left:562.8px;top:1184.4px;width:55.9px;height:58.64px;background:#f9e6e6"><i>-0.10</i></div>
<div class="c" style="left:618.4px;top:1184.4px;width:55.6px;height:58.64px;background:#bfdbef"><i>0.25</i></div>
<div class="c" style="left:673.7px;top:1184.4px;width:55.7px;height:58.64px;background:#e18686"><i>-0.47</i></div>
<div class="c" style="left:729.1px;top:1184.4px;width:55.9px;height:58.64px;background:#8cbfe3"><i>0.45</i></div>
<div class="c" style="left:784.7px;top:1184.4px;width:55.9px;height:58.64px;background:#a6cde9"><i>0.35</i></div>
<div class="c" style="left:840.3px;top:1184.4px;width:55.4px;height:58.64px;background:#99c6e6"><i>0.40</i></div>
<div class="c" style="left:895.4px;top:1184.4px;width:56.4px;height:58.64px;background:#a6cde9"><i>0.35</i></div>
<div class="c" style="left:951.5px;top:1184.4px;width:54.9px;height:58.64px;background:#cce2f2"><i>0.20</i></div>
<div class="c" style="left:1006.1px;top:1184.4px;width:55.8px;height:58.64px;background:#9fc9e7"><i>0.38</i></div>
<div class="c" style="left:1061.6px;top:1184.4px;width:54.7px;height:58.64px;background:#dfedf7"><i>0.12</i></div>
<div class="c" style="left:1116px;top:1184.4px;width:57.5px;height:58.64px;background:#86bbe1"><i>0.47</i></div>
<div class="c" style="left:1173.2px;top:1184.4px;width:54.9px;height:58.64px;background:#8cbfe3"><i>0.45</i></div>
<div class="c" style="left:1227.8px;top:1184.4px;width:54.7px;height:58.64px;background:#539ed4"><i>0.68</i></div>
<div class="c" style="left:1282.2px;top:1184.4px;width:55.4px;height:58.64px;background:#0070c0"><i>1</i></div>
<div class="c" style="left:1337.3px;top:1184.4px;width:56.2px;height:58.64px;background:#99c6e6"><i>0.40</i></div>
<div class="c" style="left:1393.2px;top:1184.4px;width:55.7px;height:58.64px;background:#bfdbef"><i>0.25</i></div>
<div class="c" style="left:1448.6px;top:1184.4px;width:55.7px;height:58.64px;background:#bfdbef"><i>0.25</i></div>
<div class="c" style="left:1504px;top:1184.4px;width:55.4px;height:58.64px;background:#66a9d9"><i>0.60</i></div>
<div class="c" style="left:1559.1px;top:1184.4px;width:56.2px;height:58.64px;background:#79b4de"><i>0.53</i></div>
<div class="c" style="left:1615px;top:1184.4px;width:54.9px;height:58.64px;background:#a6cde9"><i>0.35</i></div>
<div class="c" style="left:1669.6px;top:1184.4px;width:56px;height:58.64px;background:#66a9d9"><i>0.60</i></div>
<div class="c" style="left:1725.3px;top:1184.4px;width:55.2px;height:58.64px;background:#66a9d9"><i>0.60</i></div>
<div class="c" style="left:1780.2px;top:1184.4px;width:55.4px;height:58.64px;background:#bfdbef"><i>0.25</i></div>
<div class="c" style="left:1835.3px;top:1184.4px;width:56.1px;height:58.64px;background:#e6f1f9"><i>0.10</i></div>
<div class="c" style="left:1891.1px;top:1184.4px;width:56px;height:58.64px;background:#fcf2f2"><i>-0.05</i></div>
<div class="c" style="left:1946.8px;top:1184.4px;width:56.2px;height:58.64px;background:#f2f8fc"><i>0.05</i></div>
<div class="c" style="left:2002.7px;top:1184.4px;width:56.4px;height:58.64px;background:#bfdbef"><i>0.25</i></div>
<div class="c" style="left:451.3px;top:1242.74px;width:56.2px;height:58.64px;background:#ecb2b2"><i>-0.30</i></div>
<div class="c" style="left:507.2px;top:1242.74px;width:55.9px;height:58.64px;background:#66a9d9"><i>0.60</i></div>
<div class="c" style="left:562.8px;top:1242.74px;width:55.9px;height:58.64px;background:#e08080"><i>-0.50</i></div>
<div class="c" style="left:618.4px;top:1242.74px;width:55.6px;height:58.64px;background:#f2cccc"><i>-0.20</i></div>
<div class="c" style="left:673.7px;top:1242.74px;width:55.7px;height:58.64px;background:#f2f8fc"><i>0.05</i></div>
<div class="c" style="left:729.1px;top:1242.74px;width:55.9px;height:58.64px;background:#f9e6e6"><i>-0.10</i></div>
<div class="c" style="left:784.7px;top:1242.74px;width:55.9px;height:58.64px;background:#ecb2b2"><i>-0.30</i></div>
<div class="c" style="left:840.3px;top:1242.74px;width:55.4px;height:58.64px;background:#e9a6a6"><i>-0.35</i></div>
<div class="c" style="left:895.4px;top:1242.74px;width:56.4px;height:58.64px;background:#fcf2f2"><i>-0.05</i></div>
<div class="c" style="left:951.5px;top:1242.74px;width:54.9px;height:58.64px;background:#f9e6e6"><i>-0.10</i></div>
<div class="c" style="left:1006.1px;top:1242.74px;width:55.8px;height:58.64px;background:#d9eaf6"><i>0.15</i></div>
<div class="c" style="left:1061.6px;top:1242.74px;width:54.7px;height:58.64px;background:#b9d8ee"><i>0.28</i></div>
<div class="c" style="left:1116px;top:1242.74px;width:57.5px;height:58.64px;background:#4c9bd3"><i>0.70</i></div>
<div class="c" style="left:1173.2px;top:1242.74px;width:54.9px;height:58.64px;background:#73b0dc"><i>0.55</i></div>
<div class="c" style="left:1227.8px;top:1242.74px;width:54.7px;height:58.64px;background:#8cbfe3"><i>0.45</i></div>
<div class="c" style="left:1282.2px;top:1242.74px;width:55.4px;height:58.64px;background:#99c6e6"><i>0.40</i></div>
<div class="c" style="left:1337.3px;top:1242.74px;width:56.2px;height:58.64px;background:#0070c0"><i>1</i></div>
<div class="c" style="left:1393.2px;top:1242.74px;width:55.7px;height:58.64px;background:#2685c9"><i>0.85</i></div>
<div class="c" style="left:1448.6px;top:1242.74px;width:55.7px;height:58.64px;background:#2d89cb"><i>0.82</i></div>
<div class="c" style="left:1504px;top:1242.74px;width:55.4px;height:58.64px;background:#4697d1"><i>0.72</i></div>
<div class="c" style="left:1559.1px;top:1242.74px;width:56.2px;height:58.64px;background:#4c9bd3"><i>0.70</i></div>
<div class="c" style="left:1615px;top:1242.74px;width:54.9px;height:58.64px;background:#59a2d6"><i>0.65</i></div>
<div class="c" style="left:1669.6px;top:1242.74px;width:56px;height:58.64px;background:#59a2d6"><i>0.65</i></div>
<div class="c" style="left:1725.3px;top:1242.74px;width:55.2px;height:58.64px;background:#59a2d6"><i>0.65</i></div>
<div class="c" style="left:1780.2px;top:1242.74px;width:55.4px;height:58.64px;background:#99c6e6"><i>0.40</i></div>
<div class="c" style="left:1835.3px;top:1242.74px;width:56.1px;height:58.64px;background:#4c9bd3"><i>0.70</i></div>
<div class="c" style="left:1891.1px;top:1242.74px;width:56px;height:58.64px;background:#99c6e6"><i>0.40</i></div>
<div class="c" style="left:1946.8px;top:1242.74px;width:56.2px;height:58.64px;background:#a6cde9"><i>0.35</i></div>
<div class="c" style="left:2002.7px;top:1242.74px;width:56.4px;height:58.64px;background:#fdf7f7"><i>-0.03</i></div>
<div class="c" style="left:451.3px;top:1301.08px;width:56.2px;height:58.64px;background:#d96666"><i>-0.60</i></div>
<div class="c" style="left:507.2px;top:1301.08px;width:55.9px;height:58.64px;background:#b9d8ee"><i>0.28</i></div>
<div class="c" style="left:562.8px;top:1301.08px;width:55.9px;height:58.64px;background:#d34c4c"><i>-0.70</i></div>
<div class="c" style="left:618.4px;top:1301.08px;width:55.6px;height:58.64px;background:#e08080"><i>-0.50</i></div>
<div class="c" style="left:673.7px;top:1301.08px;width:55.7px;height:58.64px;background:#e6f1f9"><i>0.10</i></div>
<div class="c" style="left:729.1px;top:1301.08px;width:55.9px;height:58.64px;background:#ecb2b2"><i>-0.30</i></div>
<div class="c" style="left:784.7px;top:1301.08px;width:55.9px;height:58.64px;background:#e38c8c"><i>-0.45</i></div>
<div class="c" style="left:840.3px;top:1301.08px;width:55.4px;height:58.64px;background:#e18686"><i>-0.47</i></div>
<div class="c" style="left:895.4px;top:1301.08px;width:56.4px;height:58.64px;background:#ecb2b2"><i>-0.30</i></div>
<div class="c" style="left:951.5px;top:1301.08px;width:54.9px;height:58.64px;background:#e18686"><i>-0.47</i></div>
<div class="c" style="left:1006.1px;top:1301.08px;width:55.8px;height:58.64px;background:#efbfbf"><i>-0.25</i></div>
<div class="c" style="left:1061.6px;top:1301.08px;width:54.7px;height:58.64px;background:#fdf7f7"><i>-0.03</i></div>
<div class="c" style="left:1116px;top:1301.08px;width:57.5px;height:58.64px;background:#539ed4"><i>0.68</i></div>
<div class="c" style="left:1173.2px;top:1301.08px;width:54.9px;height:58.64px;background:#73b0dc"><i>0.55</i></div>
<div class="c" style="left:1227.8px;top:1301.08px;width:54.7px;height:58.64px;background:#8cbfe3"><i>0.45</i></div>
<div class="c" style="left:1282.2px;top:1301.08px;width:55.4px;height:58.64px;background:#bfdbef"><i>0.25</i></div>
<div class="c" style="left:1337.3px;top:1301.08px;width:56.2px;height:58.64px;background:#2685c9"><i>0.85</i></div>
<div class="c" style="left:1393.2px;top:1301.08px;width:55.7px;height:58.64px;background:#0070c0"><i>1</i></div>
<div class="c" style="left:1448.6px;top:1301.08px;width:55.7px;height:58.64px;background:#338dcd"><i>0.80</i></div>
<div class="c" style="left:1504px;top:1301.08px;width:55.4px;height:58.64px;background:#3990ce"><i>0.78</i></div>
<div class="c" style="left:1559.1px;top:1301.08px;width:56.2px;height:58.64px;background:#59a2d6"><i>0.65</i></div>
<div class="c" style="left:1615px;top:1301.08px;width:54.9px;height:58.64px;background:#80b8e0"><i>0.50</i></div>
<div class="c" style="left:1669.6px;top:1301.08px;width:56px;height:58.64px;background:#4c9bd3"><i>0.70</i></div>
<div class="c" style="left:1725.3px;top:1301.08px;width:55.2px;height:58.64px;background:#4c9bd3"><i>0.70</i></div>
<div class="c" style="left:1780.2px;top:1301.08px;width:55.4px;height:58.64px;background:#cce2f2"><i>0.20</i></div>
<div class="c" style="left:1835.3px;top:1301.08px;width:56.1px;height:58.64px;background:#80b8e0"><i>0.50</i></div>
<div class="c" style="left:1891.1px;top:1301.08px;width:56px;height:58.64px;background:#ffffff"><i>0.00</i></div>
<div class="c" style="left:1946.8px;top:1301.08px;width:56.2px;height:58.64px;background:#fcf2f2"><i>-0.05</i></div>
<div class="c" style="left:2002.7px;top:1301.08px;width:56.4px;height:58.64px;background:#e38c8c"><i>-0.45</i></div>
<div class="c" style="left:451.3px;top:1359.42px;width:56.2px;height:58.64px;background:#e49393"><i>-0.42</i></div>
<div class="c" style="left:507.2px;top:1359.42px;width:55.9px;height:58.64px;background:#539ed4"><i>0.68</i></div>
<div class="c" style="left:562.8px;top:1359.42px;width:55.9px;height:58.64px;background:#e18686"><i>-0.47</i></div>
<div class="c" style="left:618.4px;top:1359.42px;width:55.6px;height:58.64px;background:#e38c8c"><i>-0.45</i></div>
<div class="c" style="left:673.7px;top:1359.42px;width:55.7px;height:58.64px;background:#cce2f2"><i>0.20</i></div>
<div class="c" style="left:729.1px;top:1359.42px;width:55.9px;height:58.64px;background:#f2cccc"><i>-0.20</i></div>
<div class="c" style="left:784.7px;top:1359.42px;width:55.9px;height:58.64px;background:#e9a6a6"><i>-0.35</i></div>
<div class="c" style="left:840.3px;top:1359.42px;width:55.4px;height:58.64px;background:#de7979"><i>-0.53</i></div>
<div class="c" style="left:895.4px;top:1359.42px;width:56.4px;height:58.64px;background:#efbfbf"><i>-0.25</i></div>
<div class="c" style="left:951.5px;top:1359.42px;width:54.9px;height:58.64px;background:#e69999"><i>-0.40</i></div>
<div class="c" style="left:1006.1px;top:1359.42px;width:55.8px;height:58.64px;background:#f6d9d9"><i>-0.15</i></div>
<div class="c" style="left:1061.6px;top:1359.42px;width:54.7px;height:58.64px;background:#e6f1f9"><i>0.10</i></div>
<div class="c" style="left:1116px;top:1359.42px;width:57.5px;height:58.64px;background:#539ed4"><i>0.68</i></div>
<div class="c" style="left:1173.2px;top:1359.42px;width:54.9px;height:58.64px;background:#6caddb"><i>0.57</i></div>
<div class="c" style="left:1227.8px;top:1359.42px;width:54.7px;height:58.64px;background:#93c2e4"><i>0.42</i></div>
<div class="c" style="left:1282.2px;top:1359.42px;width:55.4px;height:58.64px;background:#bfdbef"><i>0.25</i></div>
<div class="c" style="left:1337.3px;top:1359.42px;width:56.2px;height:58.64px;background:#2d89cb"><i>0.82</i></div>
<div class="c" style="left:1393.2px;top:1359.42px;width:55.7px;height:58.64px;background:#338dcd"><i>0.80</i></div>
<div class="c" style="left:1448.6px;top:1359.42px;width:55.7px;height:58.64px;background:#0070c0"><i>1</i></div>
<div class="c" style="left:1504px;top:1359.42px;width:55.4px;height:58.64px;background:#8cbfe3"><i>0.45</i></div>
<div class="c" style="left:1559.1px;top:1359.42px;width:56.2px;height:58.64px;background:#8cbfe3"><i>0.45</i></div>
<div class="c" style="left:1615px;top:1359.42px;width:54.9px;height:58.64px;background:#99c6e6"><i>0.40</i></div>
<div class="c" style="left:1669.6px;top:1359.42px;width:56px;height:58.64px;background:#99c6e6"><i>0.40</i></div>
<div class="c" style="left:1725.3px;top:1359.42px;width:55.2px;height:58.64px;background:#99c6e6"><i>0.40</i></div>
<div class="c" style="left:1780.2px;top:1359.42px;width:55.4px;height:58.64px;background:#73b0dc"><i>0.55</i></div>
<div class="c" style="left:1835.3px;top:1359.42px;width:56.1px;height:58.64px;background:#4c9bd3"><i>0.70</i></div>
<div class="c" style="left:1891.1px;top:1359.42px;width:56px;height:58.64px;background:#bfdbef"><i>0.25</i></div>
<div class="c" style="left:1946.8px;top:1359.42px;width:56.2px;height:58.64px;background:#d9eaf6"><i>0.15</i></div>
<div class="c" style="left:2002.7px;top:1359.42px;width:56.4px;height:58.64px;background:#efbfbf"><i>-0.25</i></div>
<div class="c" style="left:451.3px;top:1417.76px;width:56.2px;height:58.64px;background:#eeb9b9"><i>-0.28</i></div>
<div class="c" style="left:507.2px;top:1417.76px;width:55.9px;height:58.64px;background:#f2cccc"><i>-0.20</i></div>
<div class="c" style="left:562.8px;top:1417.76px;width:55.9px;height:58.64px;background:#d96666"><i>-0.60</i></div>
<div class="c" style="left:618.4px;top:1417.76px;width:55.6px;height:58.64px;background:#f6d9d9"><i>-0.15</i></div>
<div class="c" style="left:673.7px;top:1417.76px;width:55.7px;height:58.64px;background:#f2cccc"><i>-0.20</i></div>
<div class="c" style="left:729.1px;top:1417.76px;width:55.9px;height:58.64px;background:#f2f8fc"><i>0.05</i></div>
<div class="c" style="left:784.7px;top:1417.76px;width:55.9px;height:58.64px;background:#f9e6e6"><i>-0.10</i></div>
<div class="c" style="left:840.3px;top:1417.76px;width:55.4px;height:58.64px;background:#fefbfb"><i>-0.01</i></div>
<div class="c" style="left:895.4px;top:1417.76px;width:56.4px;height:58.64px;background:#ffffff"><i>0.00</i></div>
<div class="c" style="left:951.5px;top:1417.76px;width:54.9px;height:58.64px;background:#ecb2b2"><i>-0.30</i></div>
<div class="c" style="left:1006.1px;top:1417.76px;width:55.8px;height:58.64px;background:#fcf2f2"><i>-0.05</i></div>
<div class="c" style="left:1061.6px;top:1417.76px;width:54.7px;height:58.64px;background:#f6d9d9"><i>-0.15</i></div>
<div class="c" style="left:1116px;top:1417.76px;width:57.5px;height:58.64px;background:#539ed4"><i>0.68</i></div>
<div class="c" style="left:1173.2px;top:1417.76px;width:54.9px;height:58.64px;background:#60a6d8"><i>0.62</i></div>
<div class="c" style="left:1227.8px;top:1417.76px;width:54.7px;height:58.64px;background:#66a9d9"><i>0.60</i></div>
<div class="c" style="left:1282.2px;top:1417.76px;width:55.4px;height:58.64px;background:#66a9d9"><i>0.60</i></div>
<div class="c" style="left:1337.3px;top:1417.76px;width:56.2px;height:58.64px;background:#4697d1"><i>0.72</i></div>
<div class="c" style="left:1393.2px;top:1417.76px;width:55.7px;height:58.64px;background:#3990ce"><i>0.78</i></div>
<div class="c" style="left:1448.6px;top:1417.76px;width:55.7px;height:58.64px;background:#8cbfe3"><i>0.45</i></div>
<div class="c" style="left:1504px;top:1417.76px;width:55.4px;height:58.64px;background:#0070c0"><i>1</i></div>
<div class="c" style="left:1559.1px;top:1417.76px;width:56.2px;height:58.64px;background:#338dcd"><i>0.80</i></div>
<div class="c" style="left:1615px;top:1417.76px;width:54.9px;height:58.64px;background:#66a9d9"><i>0.60</i></div>
<div class="c" style="left:1669.6px;top:1417.76px;width:56px;height:58.64px;background:#2685c9"><i>0.85</i></div>
<div class="c" style="left:1725.3px;top:1417.76px;width:55.2px;height:58.64px;background:#2685c9"><i>0.85</i></div>
<div class="c" style="left:1780.2px;top:1417.76px;width:55.4px;height:58.64px;background:#f2f8fc"><i>0.05</i></div>
<div class="c" style="left:1835.3px;top:1417.76px;width:56.1px;height:58.64px;background:#f2f8fc"><i>0.05</i></div>
<div class="c" style="left:1891.1px;top:1417.76px;width:56px;height:58.64px;background:#e69999"><i>-0.40</i></div>
<div class="c" style="left:1946.8px;top:1417.76px;width:56.2px;height:58.64px;background:#ecb2b2"><i>-0.30</i></div>
<div class="c" style="left:2002.7px;top:1417.76px;width:56.4px;height:58.64px;background:#e08080"><i>-0.50</i></div>
<div class="c" style="left:451.3px;top:1476.1px;width:56.2px;height:58.64px;background:#f2f8fc"><i>0.05</i></div>
<div class="c" style="left:507.2px;top:1476.1px;width:55.9px;height:58.64px;background:#e6f1f9"><i>0.10</i></div>
<div class="c" style="left:562.8px;top:1476.1px;width:55.9px;height:58.64px;background:#efbfbf"><i>-0.25</i></div>
<div class="c" style="left:618.4px;top:1476.1px;width:55.6px;height:58.64px;background:#bfdbef"><i>0.25</i></div>
<div class="c" style="left:673.7px;top:1476.1px;width:55.7px;height:58.64px;background:#fcf2f2"><i>-0.05</i></div>
<div class="c" style="left:729.1px;top:1476.1px;width:55.9px;height:58.64px;background:#bfdbef"><i>0.25</i></div>
<div class="c" style="left:784.7px;top:1476.1px;width:55.9px;height:58.64px;background:#d9eaf6"><i>0.15</i></div>
<div class="c" style="left:840.3px;top:1476.1px;width:55.4px;height:58.64px;background:#d9eaf6"><i>0.15</i></div>
<div class="c" style="left:895.4px;top:1476.1px;width:56.4px;height:58.64px;background:#bfdbef"><i>0.25</i></div>
<div class="c" style="left:951.5px;top:1476.1px;width:54.9px;height:58.64px;background:#e6f1f9"><i>0.10</i></div>
<div class="c" style="left:1006.1px;top:1476.1px;width:55.8px;height:58.64px;background:#bfdbef"><i>0.25</i></div>
<div class="c" style="left:1061.6px;top:1476.1px;width:54.7px;height:58.64px;background:#cce2f2"><i>0.20</i></div>
<div class="c" style="left:1116px;top:1476.1px;width:57.5px;height:58.64px;background:#4c9bd3"><i>0.70</i></div>
<div class="c" style="left:1173.2px;top:1476.1px;width:54.9px;height:58.64px;background:#4c9bd3"><i>0.70</i></div>
<div class="c" style="left:1227.8px;top:1476.1px;width:54.7px;height:58.64px;background:#4c9bd3"><i>0.70</i></div>
<div class="c" style="left:1282.2px;top:1476.1px;width:55.4px;height:58.64px;background:#79b4de"><i>0.53</i></div>
<div class="c" style="left:1337.3px;top:1476.1px;width:56.2px;height:58.64px;background:#4c9bd3"><i>0.70</i></div>
<div class="c" style="left:1393.2px;top:1476.1px;width:55.7px;height:58.64px;background:#59a2d6"><i>0.65</i></div>
<div class="c" style="left:1448.6px;top:1476.1px;width:55.7px;height:58.64px;background:#8cbfe3"><i>0.45</i></div>
<div class="c" style="left:1504px;top:1476.1px;width:55.4px;height:58.64px;background:#338dcd"><i>0.80</i></div>
<div class="c" style="left:1559.1px;top:1476.1px;width:56.2px;height:58.64px;background:#0070c0"><i>1</i></div>
<div class="c" style="left:1615px;top:1476.1px;width:54.9px;height:58.64px;background:#4c9bd3"><i>0.70</i></div>
<div class="c" style="left:1669.6px;top:1476.1px;width:56px;height:58.64px;background:#1a7ec6"><i>0.90</i></div>
<div class="c" style="left:1725.3px;top:1476.1px;width:55.2px;height:58.64px;background:#1a7ec6"><i>0.90</i></div>
<div class="c" style="left:1780.2px;top:1476.1px;width:55.4px;height:58.64px;background:#cce2f2"><i>0.20</i></div>
<div class="c" style="left:1835.3px;top:1476.1px;width:56.1px;height:58.64px;background:#b2d4ec"><i>0.30</i></div>
<div class="c" style="left:1891.1px;top:1476.1px;width:56px;height:58.64px;background:#ffffff"><i>0.00</i></div>
<div class="c" style="left:1946.8px;top:1476.1px;width:56.2px;height:58.64px;background:#fcf2f2"><i>-0.05</i></div>
<div class="c" style="left:2002.7px;top:1476.1px;width:56.4px;height:58.64px;background:#f6d9d9"><i>-0.15</i></div>
<div class="c" style="left:451.3px;top:1534.44px;width:56.2px;height:58.64px;background:#f2cccc"><i>-0.20</i></div>
<div class="c" style="left:507.2px;top:1534.44px;width:55.9px;height:58.64px;background:#d9eaf6"><i>0.15</i></div>
<div class="c" style="left:562.8px;top:1534.44px;width:55.9px;height:58.64px;background:#e08080"><i>-0.50</i></div>
<div class="c" style="left:618.4px;top:1534.44px;width:55.6px;height:58.64px;background:#f7fbfd"><i>0.03</i></div>
<div class="c" style="left:673.7px;top:1534.44px;width:55.7px;height:58.64px;background:#e38c8c"><i>-0.45</i></div>
<div class="c" style="left:729.1px;top:1534.44px;width:55.9px;height:58.64px;background:#efbfbf"><i>-0.25</i></div>
<div class="c" style="left:784.7px;top:1534.44px;width:55.9px;height:58.64px;background:#e9a6a6"><i>-0.35</i></div>
<div class="c" style="left:840.3px;top:1534.44px;width:55.4px;height:58.64px;background:#efbfbf"><i>-0.25</i></div>
<div class="c" style="left:895.4px;top:1534.44px;width:56.4px;height:58.64px;background:#ecb2b2"><i>-0.30</i></div>
<div class="c" style="left:951.5px;top:1534.44px;width:54.9px;height:58.64px;background:#ecb2b2"><i>-0.30</i></div>
<div class="c" style="left:1006.1px;top:1534.44px;width:55.8px;height:58.64px;background:#f6d9d9"><i>-0.15</i></div>
<div class="c" style="left:1061.6px;top:1534.44px;width:54.7px;height:58.64px;background:#efbfbf"><i>-0.25</i></div>
<div class="c" style="left:1116px;top:1534.44px;width:57.5px;height:58.64px;background:#bfdbef"><i>0.25</i></div>
<div class="c" style="left:1173.2px;top:1534.44px;width:54.9px;height:58.64px;background:#d9eaf6"><i>0.15</i></div>
<div class="c" style="left:1227.8px;top:1534.44px;width:54.7px;height:58.64px;background:#d9eaf6"><i>0.15</i></div>
<div class="c" style="left:1282.2px;top:1534.44px;width:55.4px;height:58.64px;background:#a6cde9"><i>0.35</i></div>
<div class="c" style="left:1337.3px;top:1534.44px;width:56.2px;height:58.64px;background:#59a2d6"><i>0.65</i></div>
<div class="c" style="left:1393.2px;top:1534.44px;width:55.7px;height:58.64px;background:#80b8e0"><i>0.50</i></div>
<div class="c" style="left:1448.6px;top:1534.44px;width:55.7px;height:58.64px;background:#99c6e6"><i>0.40</i></div>
<div class="c" style="left:1504px;top:1534.44px;width:55.4px;height:58.64px;background:#66a9d9"><i>0.60</i></div>
<div class="c" style="left:1559.1px;top:1534.44px;width:56.2px;height:58.64px;background:#4c9bd3"><i>0.70</i></div>
<div class="c" style="left:1615px;top:1534.44px;width:54.9px;height:58.64px;background:#0070c0"><i>1</i></div>
<div class="c" style="left:1669.6px;top:1534.44px;width:56px;height:58.64px;background:#4c9bd3"><i>0.70</i></div>
<div class="c" style="left:1725.3px;top:1534.44px;width:55.2px;height:58.64px;background:#4c9bd3"><i>0.70</i></div>
<div class="c" style="left:1780.2px;top:1534.44px;width:55.4px;height:58.64px;background:#f1c6c6"><i>-0.23</i></div>
<div class="c" style="left:1835.3px;top:1534.44px;width:56.1px;height:58.64px;background:#ffffff"><i>0.00</i></div>
<div class="c" style="left:1891.1px;top:1534.44px;width:56px;height:58.64px;background:#e6f1f9"><i>0.10</i></div>
<div class="c" style="left:1946.8px;top:1534.44px;width:56.2px;height:58.64px;background:#ffffff"><i>0.00</i></div>
<div class="c" style="left:2002.7px;top:1534.44px;width:56.4px;height:58.64px;background:#ecb2b2"><i>-0.30</i></div>
<div class="c" style="left:451.3px;top:1592.78px;width:56.2px;height:58.64px;background:#fcf2f2"><i>-0.05</i></div>
<div class="c" style="left:507.2px;top:1592.78px;width:55.9px;height:58.64px;background:#f6d9d9"><i>-0.15</i></div>
<div class="c" style="left:562.8px;top:1592.78px;width:55.9px;height:58.64px;background:#e69999"><i>-0.40</i></div>
<div class="c" style="left:618.4px;top:1592.78px;width:55.6px;height:58.64px;background:#e6f1f9"><i>0.10</i></div>
<div class="c" style="left:673.7px;top:1592.78px;width:55.7px;height:58.64px;background:#fdf7f7"><i>-0.03</i></div>
<div class="c" style="left:729.1px;top:1592.78px;width:55.9px;height:58.64px;background:#cce2f2"><i>0.20</i></div>
<div class="c" style="left:784.7px;top:1592.78px;width:55.9px;height:58.64px;background:#f2f8fc"><i>0.05</i></div>
<div class="c" style="left:840.3px;top:1592.78px;width:55.4px;height:58.64px;background:#d9eaf6"><i>0.15</i></div>
<div class="c" style="left:895.4px;top:1592.78px;width:56.4px;height:58.64px;background:#cce2f2"><i>0.20</i></div>
<div class="c" style="left:951.5px;top:1592.78px;width:54.9px;height:58.64px;background:#ffffff"><i>0.00</i></div>
<div class="c" style="left:1006.1px;top:1592.78px;width:55.8px;height:58.64px;background:#bfdbef"><i>0.25</i></div>
<div class="c" style="left:1061.6px;top:1592.78px;width:54.7px;height:58.64px;background:#e6f1f9"><i>0.10</i></div>
<div class="c" style="left:1116px;top:1592.78px;width:57.5px;height:58.64px;background:#4c9bd3"><i>0.70</i></div>
<div class="c" style="left:1173.2px;top:1592.78px;width:54.9px;height:58.64px;background:#59a2d6"><i>0.65</i></div>
<div class="c" style="left:1227.8px;top:1592.78px;width:54.7px;height:58.64px;background:#59a2d6"><i>0.65</i></div>
<div class="c" style="left:1282.2px;top:1592.78px;width:55.4px;height:58.64px;background:#66a9d9"><i>0.60</i></div>
<div class="c" style="left:1337.3px;top:1592.78px;width:56.2px;height:58.64px;background:#59a2d6"><i>0.65</i></div>
<div class="c" style="left:1393.2px;top:1592.78px;width:55.7px;height:58.64px;background:#4c9bd3"><i>0.70</i></div>
<div class="c" style="left:1448.6px;top:1592.78px;width:55.7px;height:58.64px;background:#99c6e6"><i>0.40</i></div>
<div class="c" style="left:1504px;top:1592.78px;width:55.4px;height:58.64px;background:#2685c9"><i>0.85</i></div>
<div class="c" style="left:1559.1px;top:1592.78px;width:56.2px;height:58.64px;background:#1a7ec6"><i>0.90</i></div>
<div class="c" style="left:1615px;top:1592.78px;width:54.9px;height:58.64px;background:#4c9bd3"><i>0.70</i></div>
<div class="c" style="left:1669.6px;top:1592.78px;width:56px;height:58.64px;background:#0070c0"><i>1</i></div>
<div class="c" style="left:1725.3px;top:1592.78px;width:55.2px;height:58.64px;background:#0d77c3"><i>0.95</i></div>
<div class="c" style="left:1780.2px;top:1592.78px;width:55.4px;height:58.64px;background:#f7fbfd"><i>0.03</i></div>
<div class="c" style="left:1835.3px;top:1592.78px;width:56.1px;height:58.64px;background:#f2f8fc"><i>0.05</i></div>
<div class="c" style="left:1891.1px;top:1592.78px;width:56px;height:58.64px;background:#efbfbf"><i>-0.25</i></div>
<div class="c" style="left:1946.8px;top:1592.78px;width:56.2px;height:58.64px;background:#efbfbf"><i>-0.25</i></div>
<div class="c" style="left:2002.7px;top:1592.78px;width:56.4px;height:58.64px;background:#e9a6a6"><i>-0.35</i></div>
<div class="c" style="left:451.3px;top:1651.12px;width:56.2px;height:58.64px;background:#f6d9d9"><i>-0.15</i></div>
<div class="c" style="left:507.2px;top:1651.12px;width:55.9px;height:58.64px;background:#f6d9d9"><i>-0.15</i></div>
<div class="c" style="left:562.8px;top:1651.12px;width:55.9px;height:58.64px;background:#e08080"><i>-0.50</i></div>
<div class="c" style="left:618.4px;top:1651.12px;width:55.6px;height:58.64px;background:#f2f8fc"><i>0.05</i></div>
<div class="c" style="left:673.7px;top:1651.12px;width:55.7px;height:58.64px;background:#f6d9d9"><i>-0.15</i></div>
<div class="c" style="left:729.1px;top:1651.12px;width:55.9px;height:58.64px;background:#f2f8fc"><i>0.05</i></div>
<div class="c" style="left:784.7px;top:1651.12px;width:55.9px;height:58.64px;background:#fdf7f7"><i>-0.03</i></div>
<div class="c" style="left:840.3px;top:1651.12px;width:55.4px;height:58.64px;background:#ecf4fa"><i>0.07</i></div>
<div class="c" style="left:895.4px;top:1651.12px;width:56.4px;height:58.64px;background:#e6f1f9"><i>0.10</i></div>
<div class="c" style="left:951.5px;top:1651.12px;width:54.9px;height:58.64px;background:#f6d9d9"><i>-0.15</i></div>
<div class="c" style="left:1006.1px;top:1651.12px;width:55.8px;height:58.64px;background:#e6f1f9"><i>0.10</i></div>
<div class="c" style="left:1061.6px;top:1651.12px;width:54.7px;height:58.64px;background:#fcf2f2"><i>-0.05</i></div>
<div class="c" style="left:1116px;top:1651.12px;width:57.5px;height:58.64px;background:#66a9d9"><i>0.60</i></div>
<div class="c" style="left:1173.2px;top:1651.12px;width:54.9px;height:58.64px;background:#80b8e0"><i>0.50</i></div>
<div class="c" style="left:1227.8px;top:1651.12px;width:54.7px;height:58.64px;background:#66a9d9"><i>0.60</i></div>
<div class="c" style="left:1282.2px;top:1651.12px;width:55.4px;height:58.64px;background:#66a9d9"><i>0.60</i></div>
<div class="c" style="left:1337.3px;top:1651.12px;width:56.2px;height:58.64px;background:#59a2d6"><i>0.65</i></div>
<div class="c" style="left:1393.2px;top:1651.12px;width:55.7px;height:58.64px;background:#4c9bd3"><i>0.70</i></div>
<div class="c" style="left:1448.6px;top:1651.12px;width:55.7px;height:58.64px;background:#99c6e6"><i>0.40</i></div>
<div class="c" style="left:1504px;top:1651.12px;width:55.4px;height:58.64px;background:#2685c9"><i>0.85</i></div>
<div class="c" style="left:1559.1px;top:1651.12px;width:56.2px;height:58.64px;background:#1a7ec6"><i>0.90</i></div>
<div class="c" style="left:1615px;top:1651.12px;width:54.9px;height:58.64px;background:#4c9bd3"><i>0.70</i></div>
<div class="c" style="left:1669.6px;top:1651.12px;width:56px;height:58.64px;background:#0d77c3"><i>0.95</i></div>
<div class="c" style="left:1725.3px;top:1651.12px;width:55.2px;height:58.64px;background:#0070c0"><i>1</i></div>
<div class="c" style="left:1780.2px;top:1651.12px;width:55.4px;height:58.64px;background:#f9e6e6"><i>-0.10</i></div>
<div class="c" style="left:1835.3px;top:1651.12px;width:56.1px;height:58.64px;background:#fdf7f7"><i>-0.03</i></div>
<div class="c" style="left:1891.1px;top:1651.12px;width:56px;height:58.64px;background:#ecb2b2"><i>-0.30</i></div>
<div class="c" style="left:1946.8px;top:1651.12px;width:56.2px;height:58.64px;background:#f6d9d9"><i>-0.15</i></div>
<div class="c" style="left:2002.7px;top:1651.12px;width:56.4px;height:58.64px;background:#e9a6a6"><i>-0.35</i></div>
<div class="c" style="left:451.3px;top:1709.46px;width:56.2px;height:58.64px;background:#b2d4ec"><i>0.30</i></div>
<div class="c" style="left:507.2px;top:1709.46px;width:55.9px;height:58.64px;background:#8cbfe3"><i>0.45</i></div>
<div class="c" style="left:562.8px;top:1709.46px;width:55.9px;height:58.64px;background:#b2d4ec"><i>0.30</i></div>
<div class="c" style="left:618.4px;top:1709.46px;width:55.6px;height:58.64px;background:#f9e6e6"><i>-0.10</i></div>
<div class="c" style="left:673.7px;top:1709.46px;width:55.7px;height:58.64px;background:#bfdbef"><i>0.25</i></div>
<div class="c" style="left:729.1px;top:1709.46px;width:55.9px;height:58.64px;background:#73b0dc"><i>0.55</i></div>
<div class="c" style="left:784.7px;top:1709.46px;width:55.9px;height:58.64px;background:#99c6e6"><i>0.40</i></div>
<div class="c" style="left:840.3px;top:1709.46px;width:55.4px;height:58.64px;background:#e6f1f9"><i>0.10</i></div>
<div class="c" style="left:895.4px;top:1709.46px;width:56.4px;height:58.64px;background:#8cbfe3"><i>0.45</i></div>
<div class="c" style="left:951.5px;top:1709.46px;width:54.9px;height:58.64px;background:#99c6e6"><i>0.40</i></div>
<div class="c" style="left:1006.1px;top:1709.46px;width:55.8px;height:58.64px;background:#99c6e6"><i>0.40</i></div>
<div class="c" style="left:1061.6px;top:1709.46px;width:54.7px;height:58.64px;background:#59a2d6"><i>0.65</i></div>
<div class="c" style="left:1116px;top:1709.46px;width:57.5px;height:58.64px;background:#4c9bd3"><i>0.70</i></div>
<div class="c" style="left:1173.2px;top:1709.46px;width:54.9px;height:58.64px;background:#4c9bd3"><i>0.70</i></div>
<div class="c" style="left:1227.8px;top:1709.46px;width:54.7px;height:58.64px;background:#a6cde9"><i>0.35</i></div>
<div class="c" style="left:1282.2px;top:1709.46px;width:55.4px;height:58.64px;background:#bfdbef"><i>0.25</i></div>
<div class="c" style="left:1337.3px;top:1709.46px;width:56.2px;height:58.64px;background:#99c6e6"><i>0.40</i></div>
<div class="c" style="left:1393.2px;top:1709.46px;width:55.7px;height:58.64px;background:#cce2f2"><i>0.20</i></div>
<div class="c" style="left:1448.6px;top:1709.46px;width:55.7px;height:58.64px;background:#73b0dc"><i>0.55</i></div>
<div class="c" style="left:1504px;top:1709.46px;width:55.4px;height:58.64px;background:#f2f8fc"><i>0.05</i></div>
<div class="c" style="left:1559.1px;top:1709.46px;width:56.2px;height:58.64px;background:#cce2f2"><i>0.20</i></div>
<div class="c" style="left:1615px;top:1709.46px;width:54.9px;height:58.64px;background:#f1c6c6"><i>-0.23</i></div>
<div class="c" style="left:1669.6px;top:1709.46px;width:56px;height:58.64px;background:#f7fbfd"><i>0.03</i></div>
<div class="c" style="left:1725.3px;top:1709.46px;width:55.2px;height:58.64px;background:#f9e6e6"><i>-0.10</i></div>
<div class="c" style="left:1780.2px;top:1709.46px;width:55.4px;height:58.64px;background:#0070c0"><i>1</i></div>
<div class="c" style="left:1835.3px;top:1709.46px;width:56.1px;height:58.64px;background:#2082c8"><i>0.88</i></div>
<div class="c" style="left:1891.1px;top:1709.46px;width:56px;height:58.64px;background:#66a9d9"><i>0.60</i></div>
<div class="c" style="left:1946.8px;top:1709.46px;width:56.2px;height:58.64px;background:#99c6e6"><i>0.40</i></div>
<div class="c" style="left:2002.7px;top:1709.46px;width:56.4px;height:58.64px;background:#93c2e4"><i>0.42</i></div>
<div class="c" style="left:451.3px;top:1767.8px;width:56.2px;height:58.64px;background:#e6f1f9"><i>0.10</i></div>
<div class="c" style="left:507.2px;top:1767.8px;width:55.9px;height:58.64px;background:#59a2d6"><i>0.65</i></div>
<div class="c" style="left:562.8px;top:1767.8px;width:55.9px;height:58.64px;background:#d9eaf6"><i>0.15</i></div>
<div class="c" style="left:618.4px;top:1767.8px;width:55.6px;height:58.64px;background:#f9e6e6"><i>-0.10</i></div>
<div class="c" style="left:673.7px;top:1767.8px;width:55.7px;height:58.64px;background:#a6cde9"><i>0.35</i></div>
<div class="c" style="left:729.1px;top:1767.8px;width:55.9px;height:58.64px;background:#99c6e6"><i>0.40</i></div>
<div class="c" style="left:784.7px;top:1767.8px;width:55.9px;height:58.64px;background:#bfdbef"><i>0.25</i></div>
<div class="c" style="left:840.3px;top:1767.8px;width:55.4px;height:58.64px;background:#fcf2f2"><i>-0.05</i></div>
<div class="c" style="left:895.4px;top:1767.8px;width:56.4px;height:58.64px;background:#b2d4ec"><i>0.30</i></div>
<div class="c" style="left:951.5px;top:1767.8px;width:54.9px;height:58.64px;background:#bfdbef"><i>0.25</i></div>
<div class="c" style="left:1006.1px;top:1767.8px;width:55.8px;height:58.64px;background:#b2d4ec"><i>0.30</i></div>
<div class="c" style="left:1061.6px;top:1767.8px;width:54.7px;height:58.64px;background:#59a2d6"><i>0.65</i></div>
<div class="c" style="left:1116px;top:1767.8px;width:57.5px;height:58.64px;background:#4094d0"><i>0.75</i></div>
<div class="c" style="left:1173.2px;top:1767.8px;width:54.9px;height:58.64px;background:#4c9bd3"><i>0.70</i></div>
<div class="c" style="left:1227.8px;top:1767.8px;width:54.7px;height:58.64px;background:#80b8e0"><i>0.50</i></div>
<div class="c" style="left:1282.2px;top:1767.8px;width:55.4px;height:58.64px;background:#e6f1f9"><i>0.10</i></div>
<div class="c" style="left:1337.3px;top:1767.8px;width:56.2px;height:58.64px;background:#4c9bd3"><i>0.70</i></div>
<div class="c" style="left:1393.2px;top:1767.8px;width:55.7px;height:58.64px;background:#80b8e0"><i>0.50</i></div>
<div class="c" style="left:1448.6px;top:1767.8px;width:55.7px;height:58.64px;background:#4c9bd3"><i>0.70</i></div>
<div class="c" style="left:1504px;top:1767.8px;width:55.4px;height:58.64px;background:#f2f8fc"><i>0.05</i></div>
<div class="c" style="left:1559.1px;top:1767.8px;width:56.2px;height:58.64px;background:#b2d4ec"><i>0.30</i></div>
<div class="c" style="left:1615px;top:1767.8px;width:54.9px;height:58.64px;background:#ffffff"><i>0.00</i></div>
<div class="c" style="left:1669.6px;top:1767.8px;width:56px;height:58.64px;background:#f2f8fc"><i>0.05</i></div>
<div class="c" style="left:1725.3px;top:1767.8px;width:55.2px;height:58.64px;background:#fdf7f7"><i>-0.03</i></div>
<div class="c" style="left:1780.2px;top:1767.8px;width:55.4px;height:58.64px;background:#2082c8"><i>0.88</i></div>
<div class="c" style="left:1835.3px;top:1767.8px;width:56.1px;height:58.64px;background:#0070c0"><i>1</i></div>
<div class="c" style="left:1891.1px;top:1767.8px;width:56px;height:58.64px;background:#60a6d8"><i>0.62</i></div>
<div class="c" style="left:1946.8px;top:1767.8px;width:56.2px;height:58.64px;background:#bfdbef"><i>0.25</i></div>
<div class="c" style="left:2002.7px;top:1767.8px;width:56.4px;height:58.64px;background:#bfdbef"><i>0.25</i></div>
<div class="c" style="left:451.3px;top:1826.14px;width:56.2px;height:58.64px;background:#b2d4ec"><i>0.30</i></div>
<div class="c" style="left:507.2px;top:1826.14px;width:55.9px;height:58.64px;background:#73b0dc"><i>0.55</i></div>
<div class="c" style="left:562.8px;top:1826.14px;width:55.9px;height:58.64px;background:#b2d4ec"><i>0.30</i></div>
<div class="c" style="left:618.4px;top:1826.14px;width:55.6px;height:58.64px;background:#fdf7f7"><i>-0.03</i></div>
<div class="c" style="left:673.7px;top:1826.14px;width:55.7px;height:58.64px;background:#ffffff"><i>0.00</i></div>
<div class="c" style="left:729.1px;top:1826.14px;width:55.9px;height:58.64px;background:#cce2f2"><i>0.20</i></div>
<div class="c" style="left:784.7px;top:1826.14px;width:55.9px;height:58.64px;background:#ffffff"><i>0.00</i></div>
<div class="c" style="left:840.3px;top:1826.14px;width:55.4px;height:58.64px;background:#f6d9d9"><i>-0.15</i></div>
<div class="c" style="left:895.4px;top:1826.14px;width:56.4px;height:58.64px;background:#e6f1f9"><i>0.10</i></div>
<div class="c" style="left:951.5px;top:1826.14px;width:54.9px;height:58.64px;background:#8cbfe3"><i>0.45</i></div>
<div class="c" style="left:1006.1px;top:1826.14px;width:55.8px;height:58.64px;background:#b2d4ec"><i>0.30</i></div>
<div class="c" style="left:1061.6px;top:1826.14px;width:54.7px;height:58.64px;background:#66a9d9"><i>0.60</i></div>
<div class="c" style="left:1116px;top:1826.14px;width:57.5px;height:58.64px;background:#d9eaf6"><i>0.15</i></div>
<div class="c" style="left:1173.2px;top:1826.14px;width:54.9px;height:58.64px;background:#f2f8fc"><i>0.05</i></div>
<div class="c" style="left:1227.8px;top:1826.14px;width:54.7px;height:58.64px;background:#efbfbf"><i>-0.25</i></div>
<div class="c" style="left:1282.2px;top:1826.14px;width:55.4px;height:58.64px;background:#fcf2f2"><i>-0.05</i></div>
<div class="c" style="left:1337.3px;top:1826.14px;width:56.2px;height:58.64px;background:#99c6e6"><i>0.40</i></div>
<div class="c" style="left:1393.2px;top:1826.14px;width:55.7px;height:58.64px;background:#ffffff"><i>0.00</i></div>
<div class="c" style="left:1448.6px;top:1826.14px;width:55.7px;height:58.64px;background:#bfdbef"><i>0.25</i></div>
<div class="c" style="left:1504px;top:1826.14px;width:55.4px;height:58.64px;background:#e69999"><i>-0.40</i></div>
<div class="c" style="left:1559.1px;top:1826.14px;width:56.2px;height:58.64px;background:#ffffff"><i>0.00</i></div>
<div class="c" style="left:1615px;top:1826.14px;width:54.9px;height:58.64px;background:#e6f1f9"><i>0.10</i></div>
<div class="c" style="left:1669.6px;top:1826.14px;width:56px;height:58.64px;background:#efbfbf"><i>-0.25</i></div>
<div class="c" style="left:1725.3px;top:1826.14px;width:55.2px;height:58.64px;background:#ecb2b2"><i>-0.30</i></div>
<div class="c" style="left:1780.2px;top:1826.14px;width:55.4px;height:58.64px;background:#66a9d9"><i>0.60</i></div>
<div class="c" style="left:1835.3px;top:1826.14px;width:56.1px;height:58.64px;background:#60a6d8"><i>0.62</i></div>
<div class="c" style="left:1891.1px;top:1826.14px;width:56px;height:58.64px;background:#0070c0"><i>1</i></div>
<div class="c" style="left:1946.8px;top:1826.14px;width:56.2px;height:58.64px;background:#66a9d9"><i>0.60</i></div>
<div class="c" style="left:2002.7px;top:1826.14px;width:56.4px;height:58.64px;background:#66a9d9"><i>0.60</i></div>
<div class="c" style="left:451.3px;top:1884.48px;width:56.2px;height:58.64px;background:#ffffff"><i>0.00</i></div>
<div class="c" style="left:507.2px;top:1884.48px;width:55.9px;height:58.64px;background:#4c9bd3"><i>0.70</i></div>
<div class="c" style="left:562.8px;top:1884.48px;width:55.9px;height:58.64px;background:#f7fbfd"><i>0.03</i></div>
<div class="c" style="left:618.4px;top:1884.48px;width:55.6px;height:58.64px;background:#efbfbf"><i>-0.25</i></div>
<div class="c" style="left:673.7px;top:1884.48px;width:55.7px;height:58.64px;background:#ffffff"><i>0.00</i></div>
<div class="c" style="left:729.1px;top:1884.48px;width:55.9px;height:58.64px;background:#ecb2b2"><i>-0.30</i></div>
<div class="c" style="left:784.7px;top:1884.48px;width:55.9px;height:58.64px;background:#e9a6a6"><i>-0.35</i></div>
<div class="c" style="left:840.3px;top:1884.48px;width:55.4px;height:58.64px;background:#e69999"><i>-0.40</i></div>
<div class="c" style="left:895.4px;top:1884.48px;width:56.4px;height:58.64px;background:#f6d9d9"><i>-0.15</i></div>
<div class="c" style="left:951.5px;top:1884.48px;width:54.9px;height:58.64px;background:#e6f1f9"><i>0.10</i></div>
<div class="c" style="left:1006.1px;top:1884.48px;width:55.8px;height:58.64px;background:#e6f1f9"><i>0.10</i></div>
<div class="c" style="left:1061.6px;top:1884.48px;width:54.7px;height:58.64px;background:#f2f8fc"><i>0.05</i></div>
<div class="c" style="left:1116px;top:1884.48px;width:57.5px;height:58.64px;background:#f9e6e6"><i>-0.10</i></div>
<div class="c" style="left:1173.2px;top:1884.48px;width:54.9px;height:58.64px;background:#f6d9d9"><i>-0.15</i></div>
<div class="c" style="left:1227.8px;top:1884.48px;width:54.7px;height:58.64px;background:#ecb2b2"><i>-0.30</i></div>
<div class="c" style="left:1282.2px;top:1884.48px;width:55.4px;height:58.64px;background:#f2f8fc"><i>0.05</i></div>
<div class="c" style="left:1337.3px;top:1884.48px;width:56.2px;height:58.64px;background:#a6cde9"><i>0.35</i></div>
<div class="c" style="left:1393.2px;top:1884.48px;width:55.7px;height:58.64px;background:#fcf2f2"><i>-0.05</i></div>
<div class="c" style="left:1448.6px;top:1884.48px;width:55.7px;height:58.64px;background:#d9eaf6"><i>0.15</i></div>
<div class="c" style="left:1504px;top:1884.48px;width:55.4px;height:58.64px;background:#ecb2b2"><i>-0.30</i></div>
<div class="c" style="left:1559.1px;top:1884.48px;width:56.2px;height:58.64px;background:#fcf2f2"><i>-0.05</i></div>
<div class="c" style="left:1615px;top:1884.48px;width:54.9px;height:58.64px;background:#ffffff"><i>0.00</i></div>
<div class="c" style="left:1669.6px;top:1884.48px;width:56px;height:58.64px;background:#efbfbf"><i>-0.25</i></div>
<div class="c" style="left:1725.3px;top:1884.48px;width:55.2px;height:58.64px;background:#f6d9d9"><i>-0.15</i></div>
<div class="c" style="left:1780.2px;top:1884.48px;width:55.4px;height:58.64px;background:#99c6e6"><i>0.40</i></div>
<div class="c" style="left:1835.3px;top:1884.48px;width:56.1px;height:58.64px;background:#bfdbef"><i>0.25</i></div>
<div class="c" style="left:1891.1px;top:1884.48px;width:56px;height:58.64px;background:#66a9d9"><i>0.60</i></div>
<div class="c" style="left:1946.8px;top:1884.48px;width:56.2px;height:58.64px;background:#0070c0"><i>1</i></div>
<div class="c" style="left:2002.7px;top:1884.48px;width:56.4px;height:58.64px;background:#4094d0"><i>0.75</i></div>
<div class="c" style="left:451.3px;top:1942.82px;width:56.2px;height:58.64px;background:#66a9d9"><i>0.60</i></div>
<div class="c" style="left:507.2px;top:1942.82px;width:55.9px;height:58.64px;background:#b2d4ec"><i>0.30</i></div>
<div class="c" style="left:562.8px;top:1942.82px;width:55.9px;height:58.64px;background:#59a2d6"><i>0.65</i></div>
<div class="c" style="left:618.4px;top:1942.82px;width:55.6px;height:58.64px;background:#99c6e6"><i>0.40</i></div>
<div class="c" style="left:673.7px;top:1942.82px;width:55.7px;height:58.64px;background:#ffffff"><i>0.00</i></div>
<div class="c" style="left:729.1px;top:1942.82px;width:55.9px;height:58.64px;background:#8cbfe3"><i>0.45</i></div>
<div class="c" style="left:784.7px;top:1942.82px;width:55.9px;height:58.64px;background:#99c6e6"><i>0.40</i></div>
<div class="c" style="left:840.3px;top:1942.82px;width:55.4px;height:58.64px;background:#b2d4ec"><i>0.30</i></div>
<div class="c" style="left:895.4px;top:1942.82px;width:56.4px;height:58.64px;background:#80b8e0"><i>0.50</i></div>
<div class="c" style="left:951.5px;top:1942.82px;width:54.9px;height:58.64px;background:#4094d0"><i>0.75</i></div>
<div class="c" style="left:1006.1px;top:1942.82px;width:55.8px;height:58.64px;background:#66a9d9"><i>0.60</i></div>
<div class="c" style="left:1061.6px;top:1942.82px;width:54.7px;height:58.64px;background:#66a9d9"><i>0.60</i></div>
<div class="c" style="left:1116px;top:1942.82px;width:57.5px;height:58.64px;background:#ffffff"><i>0.00</i></div>
<div class="c" style="left:1173.2px;top:1942.82px;width:54.9px;height:58.64px;background:#ffffff"><i>0.00</i></div>
<div class="c" style="left:1227.8px;top:1942.82px;width:54.7px;height:58.64px;background:#fcf2f2"><i>-0.05</i></div>
<div class="c" style="left:1282.2px;top:1942.82px;width:55.4px;height:58.64px;background:#bfdbef"><i>0.25</i></div>
<div class="c" style="left:1337.3px;top:1942.82px;width:56.2px;height:58.64px;background:#fdf7f7"><i>-0.03</i></div>
<div class="c" style="left:1393.2px;top:1942.82px;width:55.7px;height:58.64px;background:#e38c8c"><i>-0.45</i></div>
<div class="c" style="left:1448.6px;top:1942.82px;width:55.7px;height:58.64px;background:#efbfbf"><i>-0.25</i></div>
<div class="c" style="left:1504px;top:1942.82px;width:55.4px;height:58.64px;background:#e08080"><i>-0.50</i></div>
<div class="c" style="left:1559.1px;top:1942.82px;width:56.2px;height:58.64px;background:#f6d9d9"><i>-0.15</i></div>
<div class="c" style="left:1615px;top:1942.82px;width:54.9px;height:58.64px;background:#ecb2b2"><i>-0.30</i></div>
<div class="c" style="left:1669.6px;top:1942.82px;width:56px;height:58.64px;background:#e9a6a6"><i>-0.35</i></div>
<div class="c" style="left:1725.3px;top:1942.82px;width:55.2px;height:58.64px;background:#e9a6a6"><i>-0.35</i></div>
<div class="c" style="left:1780.2px;top:1942.82px;width:55.4px;height:58.64px;background:#93c2e4"><i>0.42</i></div>
<div class="c" style="left:1835.3px;top:1942.82px;width:56.1px;height:58.64px;background:#bfdbef"><i>0.25</i></div>
<div class="c" style="left:1891.1px;top:1942.82px;width:56px;height:58.64px;background:#66a9d9"><i>0.60</i></div>
<div class="c" style="left:1946.8px;top:1942.82px;width:56.2px;height:58.64px;background:#4094d0"><i>0.75</i></div>
<div class="c" style="left:2002.7px;top:1942.82px;width:56.4px;height:58.64px;background:#0070c0"><i>1</i></div>
<div class="big" style="left:78.5px;top:113.8px;transform:scaleX(0.91)">A</div>
<div class="vh" style="left:322.5px;top:303.3px;transform:rotate(-90deg) translateY(-50%) scaleX(0.990)">Variables</div>
<div class="ch" style="left:480.65px;top:301.8px;transform:rotate(-90deg) translateY(-50%) scaleX(0.976)">d18:1 (So)</div>
<div class="ch" style="left:536.4px;top:301.8px;transform:rotate(-90deg) translateY(-50%) scaleX(0.965)">d18:0 (Sa)</div>
<div class="ch" style="left:592px;top:301.8px;transform:rotate(-90deg) translateY(-50%) scaleX(0.994)">d18:0C16:0</div>
<div class="ch" style="left:647.45px;top:301.8px;transform:rotate(-90deg) translateY(-50%) scaleX(0.994)">d18:0C18:0</div>
<div class="ch" style="left:702.8px;top:301.8px;transform:rotate(-90deg) translateY(-50%) scaleX(0.994)">d18:0C22:0</div>
<div class="ch" style="left:758.3px;top:301.8px;transform:rotate(-90deg) translateY(-50%) scaleX(1.056)">18:1/14:0</div>
<div class="ch" style="left:813.9px;top:301.8px;transform:rotate(-90deg) translateY(-50%) scaleX(1.056)">18:1/16:0</div>
<div class="ch" style="left:869.25px;top:301.8px;transform:rotate(-90deg) translateY(-50%) scaleX(1.056)">18:1/18:0</div>
<div class="ch" style="left:924.85px;top:301.8px;transform:rotate(-90deg) translateY(-50%) scaleX(1.056)">18:1/20:0</div>
<div class="ch" style="left:980.2px;top:301.8px;transform:rotate(-90deg) translateY(-50%) scaleX(1.056)">18:1/22:0</div>
<div class="ch" style="left:1035.25px;top:301.8px;transform:rotate(-90deg) translateY(-50%) scaleX(1.056)">18:1/23:0</div>
<div class="ch" style="left:1090.2px;top:301.8px;transform:rotate(-90deg) translateY(-50%) scaleX(1.056)">18:1/24:0</div>
<div class="ch" style="left:1146px;top:301.8px;transform:rotate(-90deg) translateY(-50%) scaleX(1.032)">SM18:1/14:0</div>
<div class="ch" style="left:1201.9px;top:301.8px;transform:rotate(-90deg) translateY(-50%) scaleX(1.032)">SM18:1/16:0</div>
<div class="ch" style="left:1256.4px;top:301.8px;transform:rotate(-90deg) translateY(-50%) scaleX(1.032)">SM18:1/18:0</div>
<div class="ch" style="left:1311.15px;top:301.8px;transform:rotate(-90deg) translateY(-50%) scaleX(1.032)">SM18:1/20:0</div>
<div class="ch" style="left:1366.65px;top:301.8px;transform:rotate(-90deg) translateY(-50%) scaleX(1.032)">SM18:1/22:0</div>
<div class="ch" style="left:1422.3px;top:301.8px;transform:rotate(-90deg) translateY(-50%) scaleX(1.032)">SM18:1/23:0</div>
<div class="ch" style="left:1477.7px;top:301.8px;transform:rotate(-90deg) translateY(-50%) scaleX(1.032)">SM18:1/24:0</div>
<div class="ch" style="left:1532.95px;top:301.8px;transform:rotate(-90deg) translateY(-50%) scaleX(1.025)">Hex18:1/16:0</div>
<div class="ch" style="left:1588.45px;top:301.8px;transform:rotate(-90deg) translateY(-50%) scaleX(1.025)">Hex18:1/18:0</div>
<div class="ch" style="left:1643.7px;top:301.8px;transform:rotate(-90deg) translateY(-50%) scaleX(1.025)">Hex18:1/20:0</div>
<div class="ch" style="left:1698.85px;top:301.8px;transform:rotate(-90deg) translateY(-50%) scaleX(1.025)">Hex18:1/22:0</div>
<div class="ch" style="left:1754.15px;top:301.8px;transform:rotate(-90deg) translateY(-50%) scaleX(1.021)">Hex18:1/24:1</div>
<div class="ch" style="left:1809.15px;top:301.8px;transform:rotate(-90deg) translateY(-50%) scaleX(1.018)">Lac18:1/16:0</div>
<div class="ch" style="left:1864.6px;top:301.8px;transform:rotate(-90deg) translateY(-50%) scaleX(1.018)">Lac18:1/18:0</div>
<div class="ch" style="left:1920.35px;top:301.8px;transform:rotate(-90deg) translateY(-50%) scaleX(1.018)">Lac18:1/20:0</div>
<div class="ch" style="left:1976.15px;top:301.8px;transform:rotate(-90deg) translateY(-50%) scaleX(1.018)">Lac18:1/22:0</div>
<div class="ch" style="left:2032.15px;top:301.8px;transform:rotate(-90deg) translateY(-50%) scaleX(1.013)">Lac18:1/24:1</div>
<div class="rl" style="left:201.5px;top:323.3px;transform:scaleX(0.942)">d18:1 (So)</div>
<div class="rl" style="left:201.5px;top:381.64px;transform:scaleX(0.930)">d18:0 (Sa)</div>
<div class="rl" style="left:201.5px;top:439.98px;transform:scaleX(0.961)">d18:0C16:0</div>
<div class="rl" style="left:201.5px;top:498.32px;transform:scaleX(0.961)">d18:0C18:0</div>
<div class="rl" style="left:201.5px;top:556.66px;transform:scaleX(0.961)">d18:0C22:0</div>
<div class="rl" style="left:201.5px;top:615px;transform:scaleX(1.013)">18:1/14:0</div>
<div class="rl" style="left:201.5px;top:673.34px;transform:scaleX(1.013)">18:1/16:0</div>
<div class="rl" style="left:201.5px;top:731.68px;transform:scaleX(1.013)">18:1/18:0</div>
<div class="rl" style="left:201.5px;top:790.02px;transform:scaleX(1.013)">18:1/20:0</div>
<div class="rl" style="left:201.5px;top:848.36px;transform:scaleX(1.013)">18:1/22:0</div>
<div class="rl" style="left:201.5px;top:906.7px;transform:scaleX(1.013)">18:1/23:0</div>
<div class="rl" style="left:201.5px;top:965.04px;transform:scaleX(1.013)">18:1/24:0</div>
<div class="rl" style="left:201.5px;top:1023.38px;transform:scaleX(0.997)">SM18:1/14:0</div>
<div class="rl" style="left:201.5px;top:1081.72px;transform:scaleX(0.997)">SM18:1/16:0</div>
<div class="rl" style="left:201.5px;top:1140.06px;transform:scaleX(0.997)">SM18:1/18:0</div>
<div class="rl" style="left:201.5px;top:1198.4px;transform:scaleX(0.997)">SM18:1/20:0</div>
<div class="rl" style="left:201.5px;top:1256.74px;transform:scaleX(0.997)">SM18:1/22:0</div>
<div class="rl" style="left:201.5px;top:1315.08px;transform:scaleX(0.997)">SM18:1/23:0</div>
<div class="rl" style="left:201.5px;top:1373.42px;transform:scaleX(0.997)">SM18:1/24:0</div>
<div class="rl" style="left:201.5px;top:1431.76px;transform:scaleX(0.995)">Hex18:1/16:0</div>
<div class="rl" style="left:201.5px;top:1490.1px;transform:scaleX(0.995)">Hex18:1/18:0</div>
<div class="rl" style="left:201.5px;top:1548.44px;transform:scaleX(0.995)">Hex18:1/20:0</div>
<div class="rl" style="left:201.5px;top:1606.78px;transform:scaleX(0.995)">Hex18:1/22:0</div>
<div class="rl" style="left:201.5px;top:1665.12px;transform:scaleX(0.995)">Hex18:1/24:1</div>
<div class="rl" style="left:201.5px;top:1723.46px;transform:scaleX(0.984)">Lac18:1/16:0</div>
<div class="rl" style="left:201.5px;top:1781.8px;transform:scaleX(0.984)">Lac18:1/18:0</div>
<div class="rl" style="left:201.5px;top:1840.14px;transform:scaleX(0.984)">Lac18:1/20:0</div>
<div class="rl" style="left:201.5px;top:1898.48px;transform:scaleX(0.984)">Lac18:1/22:0</div>
<div class="rl" style="left:201.5px;top:1956.82px;transform:scaleX(0.983)">Lac18:1/24:1</div>
<div class="gl" style="left:37px;top:311.8px;width:156.7px;height:116.68px"><span style="transform:scaleX(0.826)">BS</span></div>
<div class="gl" style="left:37px;top:428.48px;width:156.7px;height:175.02px"><span style="transform:scaleX(0.961)">DHCer</span></div>
<div class="gl" style="left:37px;top:603.5px;width:156.7px;height:408.38px"><span style="transform:scaleX(0.951)">Cer</span></div>
<div class="gl" style="left:37px;top:1011.88px;width:156.7px;height:408.38px"><span style="transform:scaleX(0.963)">SM</span></div>
<div class="gl" style="left:37px;top:1420.26px;width:156.7px;height:291.7px"><span style="transform:scaleX(0.966)">HexCer</span></div>
<div class="gl" style="left:37px;top:1711.96px;width:156.7px;height:291.7px"><span style="transform:scaleX(0.940)">LacCer</span></div>
<div class="l" style="left:35.7px;top:2009.2px;width:2024.4px;height:2.6px"></div>
<div class="l" style="left:35.7px;top:2279.6px;width:2023.1px;height:2.6px"></div>
<div class="l" style="left:35.7px;top:3970.01px;width:2023.1px;height:2.6px"></div>
<div class="l" style="left:35.7px;top:2010.5px;width:2.6px;height:1962.11px"></div>
<div class="l" style="left:192.4px;top:2010.5px;width:2.6px;height:1960.81px"></div>
<div class="l" style="left:450px;top:2010.5px;width:2.6px;height:270.4px"></div>
<div class="l" style="left:505.9px;top:2010.5px;width:2.6px;height:270.4px"></div>
<div class="l" style="left:561.5px;top:2010.5px;width:2.6px;height:270.4px"></div>
<div class="l" style="left:617.1px;top:2010.5px;width:2.6px;height:270.4px"></div>
<div class="l" style="left:672.4px;top:2010.5px;width:2.6px;height:270.4px"></div>
<div class="l" style="left:727.8px;top:2010.5px;width:2.6px;height:270.4px"></div>
<div class="l" style="left:783.4px;top:2010.5px;width:2.6px;height:270.4px"></div>
<div class="l" style="left:839px;top:2010.5px;width:2.6px;height:270.4px"></div>
<div class="l" style="left:894.1px;top:2010.5px;width:2.6px;height:270.4px"></div>
<div class="l" style="left:950.2px;top:2010.5px;width:2.6px;height:270.4px"></div>
<div class="l" style="left:1004.8px;top:2010.5px;width:2.6px;height:270.4px"></div>
<div class="l" style="left:1060.3px;top:2010.5px;width:2.6px;height:270.4px"></div>
<div class="l" style="left:1114.7px;top:2010.5px;width:2.6px;height:270.4px"></div>
<div class="l" style="left:1171.9px;top:2010.5px;width:2.6px;height:270.4px"></div>
<div class="l" style="left:1226.5px;top:2010.5px;width:2.6px;height:270.4px"></div>
<div class="l" style="left:1280.9px;top:2010.5px;width:2.6px;height:270.4px"></div>
<div class="l" style="left:1336px;top:2010.5px;width:2.6px;height:270.4px"></div>
<div class="l" style="left:1391.9px;top:2010.5px;width:2.6px;height:270.4px"></div>
<div class="l" style="left:1447.3px;top:2010.5px;width:2.6px;height:270.4px"></div>
<div class="l" style="left:1502.7px;top:2010.5px;width:2.6px;height:270.4px"></div>
<div class="l" style="left:1557.8px;top:2010.5px;width:2.6px;height:270.4px"></div>
<div class="l" style="left:1613.7px;top:2010.5px;width:2.6px;height:270.4px"></div>
<div class="l" style="left:1668.3px;top:2010.5px;width:2.6px;height:270.4px"></div>
<div class="l" style="left:1724px;top:2010.5px;width:2.6px;height:270.4px"></div>
<div class="l" style="left:1778.9px;top:2010.5px;width:2.6px;height:270.4px"></div>
<div class="l" style="left:1834px;top:2010.5px;width:2.6px;height:270.4px"></div>
<div class="l" style="left:1889.8px;top:2010.5px;width:2.6px;height:270.4px"></div>
<div class="l" style="left:1945.5px;top:2010.5px;width:2.6px;height:270.4px"></div>
<div class="l" style="left:2001.4px;top:2010.5px;width:2.6px;height:270.4px"></div>
<div class="l" style="left:2057.5px;top:2010.5px;width:2.6px;height:270.4px"></div>
<div class="l" style="left:193.7px;top:2337.89px;width:257.6px;height:2.6px"></div>
<div class="l" style="left:193.7px;top:2396.18px;width:257.6px;height:2.6px"></div>
<div class="l" style="left:193.7px;top:2454.47px;width:257.6px;height:2.6px"></div>
<div class="l" style="left:193.7px;top:2512.76px;width:257.6px;height:2.6px"></div>
<div class="l" style="left:193.7px;top:2571.05px;width:257.6px;height:2.6px"></div>
<div class="l" style="left:193.7px;top:2629.34px;width:257.6px;height:2.6px"></div>
<div class="l" style="left:193.7px;top:2687.63px;width:257.6px;height:2.6px"></div>
<div class="l" style="left:193.7px;top:2745.92px;width:257.6px;height:2.6px"></div>
<div class="l" style="left:193.7px;top:2804.21px;width:257.6px;height:2.6px"></div>
<div class="l" style="left:193.7px;top:2862.5px;width:257.6px;height:2.6px"></div>
<div class="l" style="left:193.7px;top:2920.79px;width:257.6px;height:2.6px"></div>
<div class="l" style="left:193.7px;top:2979.08px;width:257.6px;height:2.6px"></div>
<div class="l" style="left:193.7px;top:3037.37px;width:257.6px;height:2.6px"></div>
<div class="l" style="left:193.7px;top:3095.66px;width:257.6px;height:2.6px"></div>
<div class="l" style="left:193.7px;top:3153.95px;width:257.6px;height:2.6px"></div>
<div class="l" style="left:193.7px;top:3212.24px;width:257.6px;height:2.6px"></div>
<div class="l" style="left:193.7px;top:3270.53px;width:257.6px;height:2.6px"></div>
<div class="l" style="left:193.7px;top:3328.82px;width:257.6px;height:2.6px"></div>
<div class="l" style="left:193.7px;top:3387.11px;width:257.6px;height:2.6px"></div>
<div class="l" style="left:193.7px;top:3445.4px;width:257.6px;height:2.6px"></div>
<div class="l" style="left:193.7px;top:3503.69px;width:257.6px;height:2.6px"></div>
<div class="l" style="left:193.7px;top:3561.98px;width:257.6px;height:2.6px"></div>
<div class="l" style="left:193.7px;top:3620.27px;width:257.6px;height:2.6px"></div>
<div class="l" style="left:193.7px;top:3678.56px;width:257.6px;height:2.6px"></div>
<div class="l" style="left:193.7px;top:3736.85px;width:257.6px;height:2.6px"></div>
<div class="l" style="left:193.7px;top:3795.14px;width:257.6px;height:2.6px"></div>
<div class="l" style="left:193.7px;top:3853.43px;width:257.6px;height:2.6px"></div>
<div class="l" style="left:193.7px;top:3911.72px;width:257.6px;height:2.6px"></div>
<div class="l" style="left:37px;top:2396.18px;width:156.7px;height:2.6px"></div>
<div class="l" style="left:37px;top:2571.05px;width:156.7px;height:2.6px"></div>
<div class="l" style="left:37px;top:2979.08px;width:156.7px;height:2.6px"></div>
<div class="l" style="left:37px;top:3387.11px;width:156.7px;height:2.6px"></div>
<div class="l" style="left:37px;top:3678.56px;width:156.7px;height:2.6px"></div>
<div class="c" style="left:451.3px;top:2280.9px;width:56.2px;height:58.59px;background:#0070c0"><i>1</i></div>
<div class="c" style="left:507.2px;top:2280.9px;width:55.9px;height:58.59px;background:#e79f9f"><i>-0.38</i></div>
<div class="c" style="left:562.8px;top:2280.9px;width:55.9px;height:58.59px;background:#a6cde9"><i>0.35</i></div>
<div class="c" style="left:618.4px;top:2280.9px;width:55.6px;height:58.59px;background:#fdf7f7"><i>-0.03</i></div>
<div class="c" style="left:673.7px;top:2280.9px;width:55.7px;height:58.59px;background:#fdf7f7"><i>-0.03</i></div>
<div class="c" style="left:729.1px;top:2280.9px;width:55.9px;height:58.59px;background:#539ed4"><i>0.68</i></div>
<div class="c" style="left:784.7px;top:2280.9px;width:55.9px;height:58.59px;background:#539ed4"><i>0.68</i></div>
<div class="c" style="left:840.3px;top:2280.9px;width:55.4px;height:58.59px;background:#d9eaf6"><i>0.15</i></div>
<div class="c" style="left:895.4px;top:2280.9px;width:56.4px;height:58.59px;background:#99c6e6"><i>0.40</i></div>
<div class="c" style="left:951.5px;top:2280.9px;width:54.9px;height:58.59px;background:#b2d4ec"><i>0.30</i></div>
<div class="c" style="left:1006.1px;top:2280.9px;width:55.8px;height:58.59px;background:#fcf2f2"><i>-0.05</i></div>
<div class="c" style="left:1061.6px;top:2280.9px;width:54.7px;height:58.59px;background:#ffffff"><i>0.00</i></div>
<div class="c" style="left:1116px;top:2280.9px;width:57.5px;height:58.59px;background:#b2d4ec"><i>0.30</i></div>
<div class="c" style="left:1173.2px;top:2280.9px;width:54.9px;height:58.59px;background:#bfdbef"><i>0.25</i></div>
<div class="c" style="left:1227.8px;top:2280.9px;width:54.7px;height:58.59px;background:#f6d9d9"><i>-0.15</i></div>
<div class="c" style="left:1282.2px;top:2280.9px;width:55.4px;height:58.59px;background:#f2f8fc"><i>0.05</i></div>
<div class="c" style="left:1337.3px;top:2280.9px;width:56.2px;height:58.59px;background:#e9a6a6"><i>-0.35</i></div>
<div class="c" style="left:1393.2px;top:2280.9px;width:55.7px;height:58.59px;background:#e69999"><i>-0.40</i></div>
<div class="c" style="left:1448.6px;top:2280.9px;width:55.7px;height:58.59px;background:#e9a6a6"><i>-0.35</i></div>
<div class="c" style="left:1504px;top:2280.9px;width:55.4px;height:58.59px;background:#99c6e6"><i>0.40</i></div>
<div class="c" style="left:1559.1px;top:2280.9px;width:56.2px;height:58.59px;background:#e6f1f9"><i>0.10</i></div>
<div class="c" style="left:1615px;top:2280.9px;width:54.9px;height:58.59px;background:#bfdbef"><i>0.25</i></div>
<div class="c" style="left:1669.6px;top:2280.9px;width:56px;height:58.59px;background:#8cbfe3"><i>0.45</i></div>
<div class="c" style="left:1725.3px;top:2280.9px;width:55.2px;height:58.59px;background:#a6cde9"><i>0.35</i></div>
<div class="c" style="left:1780.2px;top:2280.9px;width:55.4px;height:58.59px;background:#8cbfe3"><i>0.45</i></div>
<div class="c" style="left:1835.3px;top:2280.9px;width:56.1px;height:58.59px;background:#f9e6e6"><i>-0.10</i></div>
<div class="c" style="left:1891.1px;top:2280.9px;width:56px;height:58.59px;background:#86bbe1"><i>0.47</i></div>
<div class="c" style="left:1946.8px;top:2280.9px;width:56.2px;height:58.59px;background:#539ed4"><i>0.68</i></div>
<div class="c" style="left:2002.7px;top:2280.9px;width:56.4px;height:58.59px;background:#4094d0"><i>0.75</i></div>
<div class="c" style="left:451.3px;top:2339.19px;width:56.2px;height:58.59px;background:#e79f9f"><i>-0.38</i></div>
<div class="c" style="left:507.2px;top:2339.19px;width:55.9px;height:58.59px;background:#0070c0"><i>1</i></div>
<div class="c" style="left:562.8px;top:2339.19px;width:55.9px;height:58.59px;background:#f9e6e6"><i>-0.10</i></div>
<div class="c" style="left:618.4px;top:2339.19px;width:55.6px;height:58.59px;background:#d9eaf6"><i>0.15</i></div>
<div class="c" style="left:673.7px;top:2339.19px;width:55.7px;height:58.59px;background:#59a2d6"><i>0.65</i></div>
<div class="c" style="left:729.1px;top:2339.19px;width:55.9px;height:58.59px;background:#f2f8fc"><i>0.05</i></div>
<div class="c" style="left:784.7px;top:2339.19px;width:55.9px;height:58.59px;background:#ffffff"><i>0.00</i></div>
<div class="c" style="left:840.3px;top:2339.19px;width:55.4px;height:58.59px;background:#6caddb"><i>0.57</i></div>
<div class="c" style="left:895.4px;top:2339.19px;width:56.4px;height:58.59px;background:#ffffff"><i>0.00</i></div>
<div class="c" style="left:951.5px;top:2339.19px;width:54.9px;height:58.59px;background:#fdf7f7"><i>-0.03</i></div>
<div class="c" style="left:1006.1px;top:2339.19px;width:55.8px;height:58.59px;background:#80b8e0"><i>0.50</i></div>
<div class="c" style="left:1061.6px;top:2339.19px;width:54.7px;height:58.59px;background:#f9e6e6"><i>-0.10</i></div>
<div class="c" style="left:1116px;top:2339.19px;width:57.5px;height:58.59px;background:#bfdbef"><i>0.25</i></div>
<div class="c" style="left:1173.2px;top:2339.19px;width:54.9px;height:58.59px;background:#80b8e0"><i>0.50</i></div>
<div class="c" style="left:1227.8px;top:2339.19px;width:54.7px;height:58.59px;background:#66a9d9"><i>0.60</i></div>
<div class="c" style="left:1282.2px;top:2339.19px;width:55.4px;height:58.59px;background:#80b8e0"><i>0.50</i></div>
<div class="c" style="left:1337.3px;top:2339.19px;width:56.2px;height:58.59px;background:#4c9bd3"><i>0.70</i></div>
<div class="c" style="left:1393.2px;top:2339.19px;width:55.7px;height:58.59px;background:#66a9d9"><i>0.60</i></div>
<div class="c" style="left:1448.6px;top:2339.19px;width:55.7px;height:58.59px;background:#8cbfe3"><i>0.45</i></div>
<div class="c" style="left:1504px;top:2339.19px;width:55.4px;height:58.59px;background:#cce2f2"><i>0.20</i></div>
<div class="c" style="left:1559.1px;top:2339.19px;width:56.2px;height:58.59px;background:#80b8e0"><i>0.50</i></div>
<div class="c" style="left:1615px;top:2339.19px;width:54.9px;height:58.59px;background:#cce2f2"><i>0.20</i></div>
<div class="c" style="left:1669.6px;top:2339.19px;width:56px;height:58.59px;background:#d9eaf6"><i>0.15</i></div>
<div class="c" style="left:1725.3px;top:2339.19px;width:55.2px;height:58.59px;background:#a6cde9"><i>0.35</i></div>
<div class="c" style="left:1780.2px;top:2339.19px;width:55.4px;height:58.59px;background:#fcf5f5"><i>-0.04</i></div>
<div class="c" style="left:1835.3px;top:2339.19px;width:56.1px;height:58.59px;background:#b2d4ec"><i>0.30</i></div>
<div class="c" style="left:1891.1px;top:2339.19px;width:56px;height:58.59px;background:#ffffff"><i>0.00</i></div>
<div class="c" style="left:1946.8px;top:2339.19px;width:56.2px;height:58.59px;background:#d86060"><i>-0.62</i></div>
<div class="c" style="left:2002.7px;top:2339.19px;width:56.4px;height:58.59px;background:#dc7373"><i>-0.55</i></div>
<div class="c" style="left:451.3px;top:2397.48px;width:56.2px;height:58.59px;background:#a6cde9"><i>0.35</i></div>
<div class="c" style="left:507.2px;top:2397.48px;width:55.9px;height:58.59px;background:#f9e6e6"><i>-0.10</i></div>
<div class="c" style="left:562.8px;top:2397.48px;width:55.9px;height:58.59px;background:#0070c0"><i>1</i></div>
<div class="c" style="left:618.4px;top:2397.48px;width:55.6px;height:58.59px;background:#efbfbf"><i>-0.25</i></div>
<div class="c" style="left:673.7px;top:2397.48px;width:55.7px;height:58.59px;background:#d9eaf6"><i>0.15</i></div>
<div class="c" style="left:729.1px;top:2397.48px;width:55.9px;height:58.59px;background:#acd1eb"><i>0.33</i></div>
<div class="c" style="left:784.7px;top:2397.48px;width:55.9px;height:58.59px;background:#f2f8fc"><i>0.05</i></div>
<div class="c" style="left:840.3px;top:2397.48px;width:55.4px;height:58.59px;background:#f6d9d9"><i>-0.15</i></div>
<div class="c" style="left:895.4px;top:2397.48px;width:56.4px;height:58.59px;background:#e9a6a6"><i>-0.35</i></div>
<div class="c" style="left:951.5px;top:2397.48px;width:54.9px;height:58.59px;background:#ecb2b2"><i>-0.30</i></div>
<div class="c" style="left:1006.1px;top:2397.48px;width:55.8px;height:58.59px;background:#e08080"><i>-0.50</i></div>
<div class="c" style="left:1061.6px;top:2397.48px;width:54.7px;height:58.59px;background:#dc7373"><i>-0.55</i></div>
<div class="c" style="left:1116px;top:2397.48px;width:57.5px;height:58.59px;background:#b2d4ec"><i>0.30</i></div>
<div class="c" style="left:1173.2px;top:2397.48px;width:54.9px;height:58.59px;background:#e9a6a6"><i>-0.35</i></div>
<div class="c" style="left:1227.8px;top:2397.48px;width:54.7px;height:58.59px;background:#d96666"><i>-0.60</i></div>
<div class="c" style="left:1282.2px;top:2397.48px;width:55.4px;height:58.59px;background:#e08080"><i>-0.50</i></div>
<div class="c" style="left:1337.3px;top:2397.48px;width:56.2px;height:58.59px;background:#d34c4c"><i>-0.70</i></div>
<div class="c" style="left:1393.2px;top:2397.48px;width:55.7px;height:58.59px;background:#d96666"><i>-0.60</i></div>
<div class="c" style="left:1448.6px;top:2397.48px;width:55.7px;height:58.59px;background:#d04040"><i>-0.75</i></div>
<div class="c" style="left:1504px;top:2397.48px;width:55.4px;height:58.59px;background:#e6f1f9"><i>0.10</i></div>
<div class="c" style="left:1559.1px;top:2397.48px;width:56.2px;height:58.59px;background:#ecf4fa"><i>0.07</i></div>
<div class="c" style="left:1615px;top:2397.48px;width:54.9px;height:58.59px;background:#d9eaf6"><i>0.15</i></div>
<div class="c" style="left:1669.6px;top:2397.48px;width:56px;height:58.59px;background:#a6cde9"><i>0.35</i></div>
<div class="c" style="left:1725.3px;top:2397.48px;width:55.2px;height:58.59px;background:#ffffff"><i>0.00</i></div>
<div class="c" style="left:1780.2px;top:2397.48px;width:55.4px;height:58.59px;background:#f9e6e6"><i>-0.10</i></div>
<div class="c" style="left:1835.3px;top:2397.48px;width:56.1px;height:58.59px;background:#dc7373"><i>-0.55</i></div>
<div class="c" style="left:1891.1px;top:2397.48px;width:56px;height:58.59px;background:#99c6e6"><i>0.40</i></div>
<div class="c" style="left:1946.8px;top:2397.48px;width:56.2px;height:58.59px;background:#a6cde9"><i>0.35</i></div>
<div class="c" style="left:2002.7px;top:2397.48px;width:56.4px;height:58.59px;background:#d2e6f4"><i>0.17</i></div>
<div class="c" style="left:451.3px;top:2455.77px;width:56.2px;height:58.59px;background:#fdf7f7"><i>-0.03</i></div>
<div class="c" style="left:507.2px;top:2455.77px;width:55.9px;height:58.59px;background:#d9eaf6"><i>0.15</i></div>
<div class="c" style="left:562.8px;top:2455.77px;width:55.9px;height:58.59px;background:#efbfbf"><i>-0.25</i></div>
<div class="c" style="left:618.4px;top:2455.77px;width:55.6px;height:58.59px;background:#0070c0"><i>1</i></div>
<div class="c" style="left:673.7px;top:2455.77px;width:55.7px;height:58.59px;background:#ecb2b2"><i>-0.30</i></div>
<div class="c" style="left:729.1px;top:2455.77px;width:55.9px;height:58.59px;background:#80b8e0"><i>0.50</i></div>
<div class="c" style="left:784.7px;top:2455.77px;width:55.9px;height:58.59px;background:#79b4de"><i>0.53</i></div>
<div class="c" style="left:840.3px;top:2455.77px;width:55.4px;height:58.59px;background:#539ed4"><i>0.68</i></div>
<div class="c" style="left:895.4px;top:2455.77px;width:56.4px;height:58.59px;background:#93c2e4"><i>0.42</i></div>
<div class="c" style="left:951.5px;top:2455.77px;width:54.9px;height:58.59px;background:#4c9bd3"><i>0.70</i></div>
<div class="c" style="left:1006.1px;top:2455.77px;width:55.8px;height:58.59px;background:#338dcd"><i>0.80</i></div>
<div class="c" style="left:1061.6px;top:2455.77px;width:54.7px;height:58.59px;background:#338dcd"><i>0.80</i></div>
<div class="c" style="left:1116px;top:2455.77px;width:57.5px;height:58.59px;background:#8cbfe3"><i>0.45</i></div>
<div class="c" style="left:1173.2px;top:2455.77px;width:54.9px;height:58.59px;background:#b2d4ec"><i>0.30</i></div>
<div class="c" style="left:1227.8px;top:2455.77px;width:54.7px;height:58.59px;background:#73b0dc"><i>0.55</i></div>
<div class="c" style="left:1282.2px;top:2455.77px;width:55.4px;height:58.59px;background:#bfdbef"><i>0.25</i></div>
<div class="c" style="left:1337.3px;top:2455.77px;width:56.2px;height:58.59px;background:#d9eaf6"><i>0.15</i></div>
<div class="c" style="left:1393.2px;top:2455.77px;width:55.7px;height:58.59px;background:#cce2f2"><i>0.20</i></div>
<div class="c" style="left:1448.6px;top:2455.77px;width:55.7px;height:58.59px;background:#b2d4ec"><i>0.30</i></div>
<div class="c" style="left:1504px;top:2455.77px;width:55.4px;height:58.59px;background:#80b8e0"><i>0.50</i></div>
<div class="c" style="left:1559.1px;top:2455.77px;width:56.2px;height:58.59px;background:#bfdbef"><i>0.25</i></div>
<div class="c" style="left:1615px;top:2455.77px;width:54.9px;height:58.59px;background:#b2d4ec"><i>0.30</i></div>
<div class="c" style="left:1669.6px;top:2455.77px;width:56px;height:58.59px;background:#cce2f2"><i>0.20</i></div>
<div class="c" style="left:1725.3px;top:2455.77px;width:55.2px;height:58.59px;background:#8cbfe3"><i>0.45</i></div>
<div class="c" style="left:1780.2px;top:2455.77px;width:55.4px;height:58.59px;background:#d9eaf6"><i>0.15</i></div>
<div class="c" style="left:1835.3px;top:2455.77px;width:56.1px;height:58.59px;background:#bfdbef"><i>0.25</i></div>
<div class="c" style="left:1891.1px;top:2455.77px;width:56px;height:58.59px;background:#bfdbef"><i>0.25</i></div>
<div class="c" style="left:1946.8px;top:2455.77px;width:56.2px;height:58.59px;background:#93c2e4"><i>0.42</i></div>
<div class="c" style="left:2002.7px;top:2455.77px;width:56.4px;height:58.59px;background:#c6dff1"><i>0.23</i></div>
<div class="c" style="left:451.3px;top:2514.06px;width:56.2px;height:58.59px;background:#fdf7f7"><i>-0.03</i></div>
<div class="c" style="left:507.2px;top:2514.06px;width:55.9px;height:58.59px;background:#59a2d6"><i>0.65</i></div>
<div class="c" style="left:562.8px;top:2514.06px;width:55.9px;height:58.59px;background:#d9eaf6"><i>0.15</i></div>
<div class="c" style="left:618.4px;top:2514.06px;width:55.6px;height:58.59px;background:#ecb2b2"><i>-0.30</i></div>
<div class="c" style="left:673.7px;top:2514.06px;width:55.7px;height:58.59px;background:#0070c0"><i>1</i></div>
<div class="c" style="left:729.1px;top:2514.06px;width:55.9px;height:58.59px;background:#d9eaf6"><i>0.15</i></div>
<div class="c" style="left:784.7px;top:2514.06px;width:55.9px;height:58.59px;background:#fdf7f7"><i>-0.03</i></div>
<div class="c" style="left:840.3px;top:2514.06px;width:55.4px;height:58.59px;background:#f9fbfd"><i>0.03</i></div>
<div class="c" style="left:895.4px;top:2514.06px;width:56.4px;height:58.59px;background:#fefbfb"><i>-0.01</i></div>
<div class="c" style="left:951.5px;top:2514.06px;width:54.9px;height:58.59px;background:#ecb2b2"><i>-0.30</i></div>
<div class="c" style="left:1006.1px;top:2514.06px;width:55.8px;height:58.59px;background:#ecf4fa"><i>0.07</i></div>
<div class="c" style="left:1061.6px;top:2514.06px;width:54.7px;height:58.59px;background:#e79f9f"><i>-0.38</i></div>
<div class="c" style="left:1116px;top:2514.06px;width:57.5px;height:58.59px;background:#b2d4ec"><i>0.30</i></div>
<div class="c" style="left:1173.2px;top:2514.06px;width:54.9px;height:58.59px;background:#b2d4ec"><i>0.30</i></div>
<div class="c" style="left:1227.8px;top:2514.06px;width:54.7px;height:58.59px;background:#e6f1f9"><i>0.10</i></div>
<div class="c" style="left:1282.2px;top:2514.06px;width:55.4px;height:58.59px;background:#e6f1f9"><i>0.10</i></div>
<div class="c" style="left:1337.3px;top:2514.06px;width:56.2px;height:58.59px;background:#8cbfe3"><i>0.45</i></div>
<div class="c" style="left:1393.2px;top:2514.06px;width:55.7px;height:58.59px;background:#e6f1f9"><i>0.10</i></div>
<div class="c" style="left:1448.6px;top:2514.06px;width:55.7px;height:58.59px;background:#bfdbef"><i>0.25</i></div>
<div class="c" style="left:1504px;top:2514.06px;width:55.4px;height:58.59px;background:#ecb2b2"><i>-0.30</i></div>
<div class="c" style="left:1559.1px;top:2514.06px;width:56.2px;height:58.59px;background:#fcf5f5"><i>-0.04</i></div>
<div class="c" style="left:1615px;top:2514.06px;width:54.9px;height:58.59px;background:#e9a6a6"><i>-0.35</i></div>
<div class="c" style="left:1669.6px;top:2514.06px;width:56px;height:58.59px;background:#efbfbf"><i>-0.25</i></div>
<div class="c" style="left:1725.3px;top:2514.06px;width:55.2px;height:58.59px;background:#efbfbf"><i>-0.25</i></div>
<div class="c" style="left:1780.2px;top:2514.06px;width:55.4px;height:58.59px;background:#d9eaf6"><i>0.15</i></div>
<div class="c" style="left:1835.3px;top:2514.06px;width:56.1px;height:58.59px;background:#80b8e0"><i>0.50</i></div>
<div class="c" style="left:1891.1px;top:2514.06px;width:56px;height:58.59px;background:#fcf2f2"><i>-0.05</i></div>
<div class="c" style="left:1946.8px;top:2514.06px;width:56.2px;height:58.59px;background:#e08080"><i>-0.50</i></div>
<div class="c" style="left:2002.7px;top:2514.06px;width:56.4px;height:58.59px;background:#eeb9b9"><i>-0.28</i></div>
<div class="c" style="left:451.3px;top:2572.35px;width:56.2px;height:58.59px;background:#539ed4"><i>0.68</i></div>
<div class="c" style="left:507.2px;top:2572.35px;width:55.9px;height:58.59px;background:#f2f8fc"><i>0.05</i></div>
<div class="c" style="left:562.8px;top:2572.35px;width:55.9px;height:58.59px;background:#acd1eb"><i>0.33</i></div>
<div class="c" style="left:618.4px;top:2572.35px;width:55.6px;height:58.59px;background:#80b8e0"><i>0.50</i></div>
<div class="c" style="left:673.7px;top:2572.35px;width:55.7px;height:58.59px;background:#d9eaf6"><i>0.15</i></div>
<div class="c" style="left:729.1px;top:2572.35px;width:55.9px;height:58.59px;background:#0070c0"><i>1</i></div>
<div class="c" style="left:784.7px;top:2572.35px;width:55.9px;height:58.59px;background:#1a7ec6"><i>0.90</i></div>
<div class="c" style="left:840.3px;top:2572.35px;width:55.4px;height:58.59px;background:#66a9d9"><i>0.60</i></div>
<div class="c" style="left:895.4px;top:2572.35px;width:56.4px;height:58.59px;background:#539ed4"><i>0.68</i></div>
<div class="c" style="left:951.5px;top:2572.35px;width:54.9px;height:58.59px;background:#539ed4"><i>0.68</i></div>
<div class="c" style="left:1006.1px;top:2572.35px;width:55.8px;height:58.59px;background:#80b8e0"><i>0.50</i></div>
<div class="c" style="left:1061.6px;top:2572.35px;width:54.7px;height:58.59px;background:#80b8e0"><i>0.50</i></div>
<div class="c" style="left:1116px;top:2572.35px;width:57.5px;height:58.59px;background:#66a9d9"><i>0.60</i></div>
<div class="c" style="left:1173.2px;top:2572.35px;width:54.9px;height:58.59px;background:#a6cde9"><i>0.35</i></div>
<div class="c" style="left:1227.8px;top:2572.35px;width:54.7px;height:58.59px;background:#e6f1f9"><i>0.10</i></div>
<div class="c" style="left:1282.2px;top:2572.35px;width:55.4px;height:58.59px;background:#f2f8fc"><i>0.05</i></div>
<div class="c" style="left:1337.3px;top:2572.35px;width:56.2px;height:58.59px;background:#f6d9d9"><i>-0.15</i></div>
<div class="c" style="left:1393.2px;top:2572.35px;width:55.7px;height:58.59px;background:#e38c8c"><i>-0.45</i></div>
<div class="c" style="left:1448.6px;top:2572.35px;width:55.7px;height:58.59px;background:#ecb2b2"><i>-0.30</i></div>
<div class="c" style="left:1504px;top:2572.35px;width:55.4px;height:58.59px;background:#4094d0"><i>0.75</i></div>
<div class="c" style="left:1559.1px;top:2572.35px;width:56.2px;height:58.59px;background:#bfdbef"><i>0.25</i></div>
<div class="c" style="left:1615px;top:2572.35px;width:54.9px;height:58.59px;background:#e6f1f9"><i>0.10</i></div>
<div class="c" style="left:1669.6px;top:2572.35px;width:56px;height:58.59px;background:#9fc9e7"><i>0.38</i></div>
<div class="c" style="left:1725.3px;top:2572.35px;width:55.2px;height:58.59px;background:#93c2e4"><i>0.42</i></div>
<div class="c" style="left:1780.2px;top:2572.35px;width:55.4px;height:58.59px;background:#8cbfe3"><i>0.45</i></div>
<div class="c" style="left:1835.3px;top:2572.35px;width:56.1px;height:58.59px;background:#cce2f2"><i>0.20</i></div>
<div class="c" style="left:1891.1px;top:2572.35px;width:56px;height:58.59px;background:#93c2e4"><i>0.42</i></div>
<div class="c" style="left:1946.8px;top:2572.35px;width:56.2px;height:58.59px;background:#60a6d8"><i>0.62</i></div>
<div class="c" style="left:2002.7px;top:2572.35px;width:56.4px;height:58.59px;background:#4c9bd3"><i>0.70</i></div>
<div class="c" style="left:451.3px;top:2630.64px;width:56.2px;height:58.59px;background:#539ed4"><i>0.68</i></div>
<div class="c" style="left:507.2px;top:2630.64px;width:55.9px;height:58.59px;background:#ffffff"><i>0.00</i></div>
<div class="c" style="left:562.8px;top:2630.64px;width:55.9px;height:58.59px;background:#f2f8fc"><i>0.05</i></div>
<div class="c" style="left:618.4px;top:2630.64px;width:55.6px;height:58.59px;background:#79b4de"><i>0.53</i></div>
<div class="c" style="left:673.7px;top:2630.64px;width:55.7px;height:58.59px;background:#fdf7f7"><i>-0.03</i></div>
<div class="c" style="left:729.1px;top:2630.64px;width:55.9px;height:58.59px;background:#1a7ec6"><i>0.90</i></div>
<div class="c" style="left:784.7px;top:2630.64px;width:55.9px;height:58.59px;background:#0070c0"><i>1</i></div>
<div class="c" style="left:840.3px;top:2630.64px;width:55.4px;height:58.59px;background:#4c9bd3"><i>0.70</i></div>
<div class="c" style="left:895.4px;top:2630.64px;width:56.4px;height:58.59px;background:#4697d1"><i>0.72</i></div>
<div class="c" style="left:951.5px;top:2630.64px;width:54.9px;height:58.59px;background:#4697d1"><i>0.72</i></div>
<div class="c" style="left:1006.1px;top:2630.64px;width:55.8px;height:58.59px;background:#73b0dc"><i>0.55</i></div>
<div class="c" style="left:1061.6px;top:2630.64px;width:54.7px;height:58.59px;background:#66a9d9"><i>0.60</i></div>
<div class="c" style="left:1116px;top:2630.64px;width:57.5px;height:58.59px;background:#80b8e0"><i>0.50</i></div>
<div class="c" style="left:1173.2px;top:2630.64px;width:54.9px;height:58.59px;background:#99c6e6"><i>0.40</i></div>
<div class="c" style="left:1227.8px;top:2630.64px;width:54.7px;height:58.59px;background:#a6cde9"><i>0.35</i></div>
<div class="c" style="left:1282.2px;top:2630.64px;width:55.4px;height:58.59px;background:#b2d4ec"><i>0.30</i></div>
<div class="c" style="left:1337.3px;top:2630.64px;width:56.2px;height:58.59px;background:#ffffff"><i>0.00</i></div>
<div class="c" style="left:1393.2px;top:2630.64px;width:55.7px;height:58.59px;background:#ecb2b2"><i>-0.30</i></div>
<div class="c" style="left:1448.6px;top:2630.64px;width:55.7px;height:58.59px;background:#fcf2f2"><i>-0.05</i></div>
<div class="c" style="left:1504px;top:2630.64px;width:55.4px;height:58.59px;background:#338dcd"><i>0.80</i></div>
<div class="c" style="left:1559.1px;top:2630.64px;width:56.2px;height:58.59px;background:#bfdbef"><i>0.25</i></div>
<div class="c" style="left:1615px;top:2630.64px;width:54.9px;height:58.59px;background:#cce2f2"><i>0.20</i></div>
<div class="c" style="left:1669.6px;top:2630.64px;width:56px;height:58.59px;background:#a6cde9"><i>0.35</i></div>
<div class="c" style="left:1725.3px;top:2630.64px;width:55.2px;height:58.59px;background:#79b4de"><i>0.53</i></div>
<div class="c" style="left:1780.2px;top:2630.64px;width:55.4px;height:58.59px;background:#79b4de"><i>0.53</i></div>
<div class="c" style="left:1835.3px;top:2630.64px;width:56.1px;height:58.59px;background:#bfdbef"><i>0.25</i></div>
<div class="c" style="left:1891.1px;top:2630.64px;width:56px;height:58.59px;background:#93c2e4"><i>0.42</i></div>
<div class="c" style="left:1946.8px;top:2630.64px;width:56.2px;height:58.59px;background:#59a2d6"><i>0.65</i></div>
<div class="c" style="left:2002.7px;top:2630.64px;width:56.4px;height:58.59px;background:#4094d0"><i>0.75</i></div>
<div class="c" style="left:451.3px;top:2688.93px;width:56.2px;height:58.59px;background:#d9eaf6"><i>0.15</i></div>
<div class="c" style="left:507.2px;top:2688.93px;width:55.9px;height:58.59px;background:#6caddb"><i>0.57</i></div>
<div class="c" style="left:562.8px;top:2688.93px;width:55.9px;height:58.59px;background:#f6d9d9"><i>-0.15</i></div>
<div class="c" style="left:618.4px;top:2688.93px;width:55.6px;height:58.59px;background:#539ed4"><i>0.68</i></div>
<div class="c" style="left:673.7px;top:2688.93px;width:55.7px;height:58.59px;background:#f9fbfd"><i>0.03</i></div>
<div class="c" style="left:729.1px;top:2688.93px;width:55.9px;height:58.59px;background:#66a9d9"><i>0.60</i></div>
<div class="c" style="left:784.7px;top:2688.93px;width:55.9px;height:58.59px;background:#4c9bd3"><i>0.70</i></div>
<div class="c" style="left:840.3px;top:2688.93px;width:55.4px;height:58.59px;background:#0070c0"><i>1</i></div>
<div class="c" style="left:895.4px;top:2688.93px;width:56.4px;height:58.59px;background:#79b4de"><i>0.53</i></div>
<div class="c" style="left:951.5px;top:2688.93px;width:54.9px;height:58.59px;background:#4c9bd3"><i>0.70</i></div>
<div class="c" style="left:1006.1px;top:2688.93px;width:55.8px;height:58.59px;background:#338dcd"><i>0.80</i></div>
<div class="c" style="left:1061.6px;top:2688.93px;width:54.7px;height:58.59px;background:#80b8e0"><i>0.50</i></div>
<div class="c" style="left:1116px;top:2688.93px;width:57.5px;height:58.59px;background:#a6cde9"><i>0.35</i></div>
<div class="c" style="left:1173.2px;top:2688.93px;width:54.9px;height:58.59px;background:#80b8e0"><i>0.50</i></div>
<div class="c" style="left:1227.8px;top:2688.93px;width:54.7px;height:58.59px;background:#4c9bd3"><i>0.70</i></div>
<div class="c" style="left:1282.2px;top:2688.93px;width:55.4px;height:58.59px;background:#80b8e0"><i>0.50</i></div>
<div class="c" style="left:1337.3px;top:2688.93px;width:56.2px;height:58.59px;background:#99c6e6"><i>0.40</i></div>
<div class="c" style="left:1393.2px;top:2688.93px;width:55.7px;height:58.59px;background:#bfdbef"><i>0.25</i></div>
<div class="c" style="left:1448.6px;top:2688.93px;width:55.7px;height:58.59px;background:#bfdbef"><i>0.25</i></div>
<div class="c" style="left:1504px;top:2688.93px;width:55.4px;height:58.59px;background:#2685c9"><i>0.85</i></div>
<div class="c" style="left:1559.1px;top:2688.93px;width:56.2px;height:58.59px;background:#66a9d9"><i>0.60</i></div>
<div class="c" style="left:1615px;top:2688.93px;width:54.9px;height:58.59px;background:#99c6e6"><i>0.40</i></div>
<div class="c" style="left:1669.6px;top:2688.93px;width:56px;height:58.59px;background:#80b8e0"><i>0.50</i></div>
<div class="c" style="left:1725.3px;top:2688.93px;width:55.2px;height:58.59px;background:#338dcd"><i>0.80</i></div>
<div class="c" style="left:1780.2px;top:2688.93px;width:55.4px;height:58.59px;background:#dfedf7"><i>0.12</i></div>
<div class="c" style="left:1835.3px;top:2688.93px;width:56.1px;height:58.59px;background:#d9eaf6"><i>0.15</i></div>
<div class="c" style="left:1891.1px;top:2688.93px;width:56px;height:58.59px;background:#c6dff1"><i>0.23</i></div>
<div class="c" style="left:1946.8px;top:2688.93px;width:56.2px;height:58.59px;background:#f2f8fc"><i>0.05</i></div>
<div class="c" style="left:2002.7px;top:2688.93px;width:56.4px;height:58.59px;background:#f2f8fc"><i>0.05</i></div>
<div class="c" style="left:451.3px;top:2747.22px;width:56.2px;height:58.59px;background:#99c6e6"><i>0.40</i></div>
<div class="c" style="left:507.2px;top:2747.22px;width:55.9px;height:58.59px;background:#ffffff"><i>0.00</i></div>
<div class="c" style="left:562.8px;top:2747.22px;width:55.9px;height:58.59px;background:#e9a6a6"><i>-0.35</i></div>
<div class="c" style="left:618.4px;top:2747.22px;width:55.6px;height:58.59px;background:#93c2e4"><i>0.42</i></div>
<div class="c" style="left:673.7px;top:2747.22px;width:55.7px;height:58.59px;background:#fefbfb"><i>-0.01</i></div>
<div class="c" style="left:729.1px;top:2747.22px;width:55.9px;height:58.59px;background:#539ed4"><i>0.68</i></div>
<div class="c" style="left:784.7px;top:2747.22px;width:55.9px;height:58.59px;background:#4697d1"><i>0.72</i></div>
<div class="c" style="left:840.3px;top:2747.22px;width:55.4px;height:58.59px;background:#79b4de"><i>0.53</i></div>
<div class="c" style="left:895.4px;top:2747.22px;width:56.4px;height:58.59px;background:#0070c0"><i>1</i></div>
<div class="c" style="left:951.5px;top:2747.22px;width:54.9px;height:58.59px;background:#2685c9"><i>0.85</i></div>
<div class="c" style="left:1006.1px;top:2747.22px;width:55.8px;height:58.59px;background:#66a9d9"><i>0.60</i></div>
<div class="c" style="left:1061.6px;top:2747.22px;width:54.7px;height:58.59px;background:#66a9d9"><i>0.60</i></div>
<div class="c" style="left:1116px;top:2747.22px;width:57.5px;height:58.59px;background:#ffffff"><i>0.00</i></div>
<div class="c" style="left:1173.2px;top:2747.22px;width:54.9px;height:58.59px;background:#cce2f2"><i>0.20</i></div>
<div class="c" style="left:1227.8px;top:2747.22px;width:54.7px;height:58.59px;background:#cce2f2"><i>0.20</i></div>
<div class="c" style="left:1282.2px;top:2747.22px;width:55.4px;height:58.59px;background:#d9eaf6"><i>0.15</i></div>
<div class="c" style="left:1337.3px;top:2747.22px;width:56.2px;height:58.59px;background:#a6cde9"><i>0.35</i></div>
<div class="c" style="left:1393.2px;top:2747.22px;width:55.7px;height:58.59px;background:#f2cccc"><i>-0.20</i></div>
<div class="c" style="left:1448.6px;top:2747.22px;width:55.7px;height:58.59px;background:#e6f1f9"><i>0.10</i></div>
<div class="c" style="left:1504px;top:2747.22px;width:55.4px;height:58.59px;background:#99c6e6"><i>0.40</i></div>
<div class="c" style="left:1559.1px;top:2747.22px;width:56.2px;height:58.59px;background:#d2e6f4"><i>0.17</i></div>
<div class="c" style="left:1615px;top:2747.22px;width:54.9px;height:58.59px;background:#ffffff"><i>0.00</i></div>
<div class="c" style="left:1669.6px;top:2747.22px;width:56px;height:58.59px;background:#e6f1f9"><i>0.10</i></div>
<div class="c" style="left:1725.3px;top:2747.22px;width:55.2px;height:58.59px;background:#93c2e4"><i>0.42</i></div>
<div class="c" style="left:1780.2px;top:2747.22px;width:55.4px;height:58.59px;background:#d9eaf6"><i>0.15</i></div>
<div class="c" style="left:1835.3px;top:2747.22px;width:56.1px;height:58.59px;background:#99c6e6"><i>0.40</i></div>
<div class="c" style="left:1891.1px;top:2747.22px;width:56px;height:58.59px;background:#f2f8fc"><i>0.05</i></div>
<div class="c" style="left:1946.8px;top:2747.22px;width:56.2px;height:58.59px;background:#f2f8fc"><i>0.05</i></div>
<div class="c" style="left:2002.7px;top:2747.22px;width:56.4px;height:58.59px;background:#bfdbef"><i>0.25</i></div>
<div class="c" style="left:451.3px;top:2805.51px;width:56.2px;height:58.59px;background:#b2d4ec"><i>0.30</i></div>
<div class="c" style="left:507.2px;top:2805.51px;width:55.9px;height:58.59px;background:#fdf7f7"><i>-0.03</i></div>
<div class="c" style="left:562.8px;top:2805.51px;width:55.9px;height:58.59px;background:#ecb2b2"><i>-0.30</i></div>
<div class="c" style="left:618.4px;top:2805.51px;width:55.6px;height:58.59px;background:#4c9bd3"><i>0.70</i></div>
<div class="c" style="left:673.7px;top:2805.51px;width:55.7px;height:58.59px;background:#ecb2b2"><i>-0.30</i></div>
<div class="c" style="left:729.1px;top:2805.51px;width:55.9px;height:58.59px;background:#539ed4"><i>0.68</i></div>
<div class="c" style="left:784.7px;top:2805.51px;width:55.9px;height:58.59px;background:#4697d1"><i>0.72</i></div>
<div class="c" style="left:840.3px;top:2805.51px;width:55.4px;height:58.59px;background:#4c9bd3"><i>0.70</i></div>
<div class="c" style="left:895.4px;top:2805.51px;width:56.4px;height:58.59px;background:#2685c9"><i>0.85</i></div>
<div class="c" style="left:951.5px;top:2805.51px;width:54.9px;height:58.59px;background:#0070c0"><i>1</i></div>
<div class="c" style="left:1006.1px;top:2805.51px;width:55.8px;height:58.59px;background:#4094d0"><i>0.75</i></div>
<div class="c" style="left:1061.6px;top:2805.51px;width:54.7px;height:58.59px;background:#338dcd"><i>0.80</i></div>
<div class="c" style="left:1116px;top:2805.51px;width:57.5px;height:58.59px;background:#e6f1f9"><i>0.10</i></div>
<div class="c" style="left:1173.2px;top:2805.51px;width:54.9px;height:58.59px;background:#cce2f2"><i>0.20</i></div>
<div class="c" style="left:1227.8px;top:2805.51px;width:54.7px;height:58.59px;background:#a6cde9"><i>0.35</i></div>
<div class="c" style="left:1282.2px;top:2805.51px;width:55.4px;height:58.59px;background:#d9eaf6"><i>0.15</i></div>
<div class="c" style="left:1337.3px;top:2805.51px;width:56.2px;height:58.59px;background:#d9eaf6"><i>0.15</i></div>
<div class="c" style="left:1393.2px;top:2805.51px;width:55.7px;height:58.59px;background:#f6d9d9"><i>-0.15</i></div>
<div class="c" style="left:1448.6px;top:2805.51px;width:55.7px;height:58.59px;background:#d9eaf6"><i>0.15</i></div>
<div class="c" style="left:1504px;top:2805.51px;width:55.4px;height:58.59px;background:#73b0dc"><i>0.55</i></div>
<div class="c" style="left:1559.1px;top:2805.51px;width:56.2px;height:58.59px;background:#b9d8ee"><i>0.28</i></div>
<div class="c" style="left:1615px;top:2805.51px;width:54.9px;height:58.59px;background:#cce2f2"><i>0.20</i></div>
<div class="c" style="left:1669.6px;top:2805.51px;width:56px;height:58.59px;background:#bfdbef"><i>0.25</i></div>
<div class="c" style="left:1725.3px;top:2805.51px;width:55.2px;height:58.59px;background:#80b8e0"><i>0.50</i></div>
<div class="c" style="left:1780.2px;top:2805.51px;width:55.4px;height:58.59px;background:#cce2f2"><i>0.20</i></div>
<div class="c" style="left:1835.3px;top:2805.51px;width:56.1px;height:58.59px;background:#a6cde9"><i>0.35</i></div>
<div class="c" style="left:1891.1px;top:2805.51px;width:56px;height:58.59px;background:#d9eaf6"><i>0.15</i></div>
<div class="c" style="left:1946.8px;top:2805.51px;width:56.2px;height:58.59px;background:#a6cde9"><i>0.35</i></div>
<div class="c" style="left:2002.7px;top:2805.51px;width:56.4px;height:58.59px;background:#b2d4ec"><i>0.30</i></div>
<div class="c" style="left:451.3px;top:2863.8px;width:56.2px;height:58.59px;background:#fcf2f2"><i>-0.05</i></div>
<div class="c" style="left:507.2px;top:2863.8px;width:55.9px;height:58.59px;background:#80b8e0"><i>0.50</i></div>
<div class="c" style="left:562.8px;top:2863.8px;width:55.9px;height:58.59px;background:#e08080"><i>-0.50</i></div>
<div class="c" style="left:618.4px;top:2863.8px;width:55.6px;height:58.59px;background:#338dcd"><i>0.80</i></div>
<div class="c" style="left:673.7px;top:2863.8px;width:55.7px;height:58.59px;background:#ecf4fa"><i>0.07</i></div>
<div class="c" style="left:729.1px;top:2863.8px;width:55.9px;height:58.59px;background:#80b8e0"><i>0.50</i></div>
<div class="c" style="left:784.7px;top:2863.8px;width:55.9px;height:58.59px;background:#73b0dc"><i>0.55</i></div>
<div class="c" style="left:840.3px;top:2863.8px;width:55.4px;height:58.59px;background:#338dcd"><i>0.80</i></div>
<div class="c" style="left:895.4px;top:2863.8px;width:56.4px;height:58.59px;background:#66a9d9"><i>0.60</i></div>
<div class="c" style="left:951.5px;top:2863.8px;width:54.9px;height:58.59px;background:#4094d0"><i>0.75</i></div>
<div class="c" style="left:1006.1px;top:2863.8px;width:55.8px;height:58.59px;background:#0070c0"><i>1</i></div>
<div class="c" style="left:1061.6px;top:2863.8px;width:54.7px;height:58.59px;background:#4c9bd3"><i>0.70</i></div>
<div class="c" style="left:1116px;top:2863.8px;width:57.5px;height:58.59px;background:#acd1eb"><i>0.33</i></div>
<div class="c" style="left:1173.2px;top:2863.8px;width:54.9px;height:58.59px;background:#73b0dc"><i>0.55</i></div>
<div class="c" style="left:1227.8px;top:2863.8px;width:54.7px;height:58.59px;background:#4094d0"><i>0.75</i></div>
<div class="c" style="left:1282.2px;top:2863.8px;width:55.4px;height:58.59px;background:#80b8e0"><i>0.50</i></div>
<div class="c" style="left:1337.3px;top:2863.8px;width:56.2px;height:58.59px;background:#73b0dc"><i>0.55</i></div>
<div class="c" style="left:1393.2px;top:2863.8px;width:55.7px;height:58.59px;background:#99c6e6"><i>0.40</i></div>
<div class="c" style="left:1448.6px;top:2863.8px;width:55.7px;height:58.59px;background:#66a9d9"><i>0.60</i></div>
<div class="c" style="left:1504px;top:2863.8px;width:55.4px;height:58.59px;background:#80b8e0"><i>0.50</i></div>
<div class="c" style="left:1559.1px;top:2863.8px;width:56.2px;height:58.59px;background:#8cbfe3"><i>0.45</i></div>
<div class="c" style="left:1615px;top:2863.8px;width:54.9px;height:58.59px;background:#bfdbef"><i>0.25</i></div>
<div class="c" style="left:1669.6px;top:2863.8px;width:56px;height:58.59px;background:#bfdbef"><i>0.25</i></div>
<div class="c" style="left:1725.3px;top:2863.8px;width:55.2px;height:58.59px;background:#73b0dc"><i>0.55</i></div>
<div class="c" style="left:1780.2px;top:2863.8px;width:55.4px;height:58.59px;background:#bfdbef"><i>0.25</i></div>
<div class="c" style="left:1835.3px;top:2863.8px;width:56.1px;height:58.59px;background:#80b8e0"><i>0.50</i></div>
<div class="c" style="left:1891.1px;top:2863.8px;width:56px;height:58.59px;background:#cce2f2"><i>0.20</i></div>
<div class="c" style="left:1946.8px;top:2863.8px;width:56.2px;height:58.59px;background:#f2f8fc"><i>0.05</i></div>
<div class="c" style="left:2002.7px;top:2863.8px;width:56.4px;height:58.59px;background:#e6f1f9"><i>0.10</i></div>
<div class="c" style="left:451.3px;top:2922.09px;width:56.2px;height:58.59px;background:#ffffff"><i>0.00</i></div>
<div class="c" style="left:507.2px;top:2922.09px;width:55.9px;height:58.59px;background:#f9e6e6"><i>-0.10</i></div>
<div class="c" style="left:562.8px;top:2922.09px;width:55.9px;height:58.59px;background:#dc7373"><i>-0.55</i></div>
<div class="c" style="left:618.4px;top:2922.09px;width:55.6px;height:58.59px;background:#338dcd"><i>0.80</i></div>
<div class="c" style="left:673.7px;top:2922.09px;width:55.7px;height:58.59px;background:#e79f9f"><i>-0.38</i></div>
<div class="c" style="left:729.1px;top:2922.09px;width:55.9px;height:58.59px;background:#80b8e0"><i>0.50</i></div>
<div class="c" style="left:784.7px;top:2922.09px;width:55.9px;height:58.59px;background:#66a9d9"><i>0.60</i></div>
<div class="c" style="left:840.3px;top:2922.09px;width:55.4px;height:58.59px;background:#80b8e0"><i>0.50</i></div>
<div class="c" style="left:895.4px;top:2922.09px;width:56.4px;height:58.59px;background:#66a9d9"><i>0.60</i></div>
<div class="c" style="left:951.5px;top:2922.09px;width:54.9px;height:58.59px;background:#338dcd"><i>0.80</i></div>
<div class="c" style="left:1006.1px;top:2922.09px;width:55.8px;height:58.59px;background:#4c9bd3"><i>0.70</i></div>
<div class="c" style="left:1061.6px;top:2922.09px;width:54.7px;height:58.59px;background:#0070c0"><i>1</i></div>
<div class="c" style="left:1116px;top:2922.09px;width:57.5px;height:58.59px;background:#d2e6f4"><i>0.17</i></div>
<div class="c" style="left:1173.2px;top:2922.09px;width:54.9px;height:58.59px;background:#cce2f2"><i>0.20</i></div>
<div class="c" style="left:1227.8px;top:2922.09px;width:54.7px;height:58.59px;background:#99c6e6"><i>0.40</i></div>
<div class="c" style="left:1282.2px;top:2922.09px;width:55.4px;height:58.59px;background:#d2e6f4"><i>0.17</i></div>
<div class="c" style="left:1337.3px;top:2922.09px;width:56.2px;height:58.59px;background:#d2e6f4"><i>0.17</i></div>
<div class="c" style="left:1393.2px;top:2922.09px;width:55.7px;height:58.59px;background:#ffffff"><i>0.00</i></div>
<div class="c" style="left:1448.6px;top:2922.09px;width:55.7px;height:58.59px;background:#b9d8ee"><i>0.28</i></div>
<div class="c" style="left:1504px;top:2922.09px;width:55.4px;height:58.59px;background:#8cbfe3"><i>0.45</i></div>
<div class="c" style="left:1559.1px;top:2922.09px;width:56.2px;height:58.59px;background:#ffffff"><i>0.00</i></div>
<div class="c" style="left:1615px;top:2922.09px;width:54.9px;height:58.59px;background:#ffffff"><i>0.00</i></div>
<div class="c" style="left:1669.6px;top:2922.09px;width:56px;height:58.59px;background:#fcf2f2"><i>-0.05</i></div>
<div class="c" style="left:1725.3px;top:2922.09px;width:55.2px;height:58.59px;background:#bfdbef"><i>0.25</i></div>
<div class="c" style="left:1780.2px;top:2922.09px;width:55.4px;height:58.59px;background:#bfdbef"><i>0.25</i></div>
<div class="c" style="left:1835.3px;top:2922.09px;width:56.1px;height:58.59px;background:#8cbfe3"><i>0.45</i></div>
<div class="c" style="left:1891.1px;top:2922.09px;width:56px;height:58.59px;background:#f2f8fc"><i>0.05</i></div>
<div class="c" style="left:1946.8px;top:2922.09px;width:56.2px;height:58.59px;background:#8cbfe3"><i>0.45</i></div>
<div class="c" style="left:2002.7px;top:2922.09px;width:56.4px;height:58.59px;background:#99c6e6"><i>0.40</i></div>
<div class="c" style="left:451.3px;top:2980.38px;width:56.2px;height:58.59px;background:#b2d4ec"><i>0.30</i></div>
<div class="c" style="left:507.2px;top:2980.38px;width:55.9px;height:58.59px;background:#bfdbef"><i>0.25</i></div>
<div class="c" style="left:562.8px;top:2980.38px;width:55.9px;height:58.59px;background:#b2d4ec"><i>0.30</i></div>
<div class="c" style="left:618.4px;top:2980.38px;width:55.6px;height:58.59px;background:#8cbfe3"><i>0.45</i></div>
<div class="c" style="left:673.7px;top:2980.38px;width:55.7px;height:58.59px;background:#b2d4ec"><i>0.30</i></div>
<div class="c" style="left:729.1px;top:2980.38px;width:55.9px;height:58.59px;background:#66a9d9"><i>0.60</i></div>
<div class="c" style="left:784.7px;top:2980.38px;width:55.9px;height:58.59px;background:#80b8e0"><i>0.50</i></div>
<div class="c" style="left:840.3px;top:2980.38px;width:55.4px;height:58.59px;background:#a6cde9"><i>0.35</i></div>
<div class="c" style="left:895.4px;top:2980.38px;width:56.4px;height:58.59px;background:#ffffff"><i>0.00</i></div>
<div class="c" style="left:951.5px;top:2980.38px;width:54.9px;height:58.59px;background:#e6f1f9"><i>0.10</i></div>
<div class="c" style="left:1006.1px;top:2980.38px;width:55.8px;height:58.59px;background:#acd1eb"><i>0.33</i></div>
<div class="c" style="left:1061.6px;top:2980.38px;width:54.7px;height:58.59px;background:#d2e6f4"><i>0.17</i></div>
<div class="c" style="left:1116px;top:2980.38px;width:57.5px;height:58.59px;background:#0070c0"><i>1</i></div>
<div class="c" style="left:1173.2px;top:2980.38px;width:54.9px;height:58.59px;background:#73b0dc"><i>0.55</i></div>
<div class="c" style="left:1227.8px;top:2980.38px;width:54.7px;height:58.59px;background:#cce2f2"><i>0.20</i></div>
<div class="c" style="left:1282.2px;top:2980.38px;width:55.4px;height:58.59px;background:#a6cde9"><i>0.35</i></div>
<div class="c" style="left:1337.3px;top:2980.38px;width:56.2px;height:58.59px;background:#f9fbfd"><i>0.03</i></div>
<div class="c" style="left:1393.2px;top:2980.38px;width:55.7px;height:58.59px;background:#f2f8fc"><i>0.05</i></div>
<div class="c" style="left:1448.6px;top:2980.38px;width:55.7px;height:58.59px;background:#ffffff"><i>0.00</i></div>
<div class="c" style="left:1504px;top:2980.38px;width:55.4px;height:58.59px;background:#99c6e6"><i>0.40</i></div>
<div class="c" style="left:1559.1px;top:2980.38px;width:56.2px;height:58.59px;background:#a6cde9"><i>0.35</i></div>
<div class="c" style="left:1615px;top:2980.38px;width:54.9px;height:58.59px;background:#e6f1f9"><i>0.10</i></div>
<div class="c" style="left:1669.6px;top:2980.38px;width:56px;height:58.59px;background:#a6cde9"><i>0.35</i></div>
<div class="c" style="left:1725.3px;top:2980.38px;width:55.2px;height:58.59px;background:#b2d4ec"><i>0.30</i></div>
<div class="c" style="left:1780.2px;top:2980.38px;width:55.4px;height:58.59px;background:#b2d4ec"><i>0.30</i></div>
<div class="c" style="left:1835.3px;top:2980.38px;width:56.1px;height:58.59px;background:#f2f8fc"><i>0.05</i></div>
<div class="c" style="left:1891.1px;top:2980.38px;width:56px;height:58.59px;background:#73b0dc"><i>0.55</i></div>
<div class="c" style="left:1946.8px;top:2980.38px;width:56.2px;height:58.59px;background:#80b8e0"><i>0.50</i></div>
<div class="c" style="left:2002.7px;top:2980.38px;width:56.4px;height:58.59px;background:#99c6e6"><i>0.40</i></div>
<div class="c" style="left:451.3px;top:3038.67px;width:56.2px;height:58.59px;background:#bfdbef"><i>0.25</i></div>
<div class="c" style="left:507.2px;top:3038.67px;width:55.9px;height:58.59px;background:#80b8e0"><i>0.50</i></div>
<div class="c" style="left:562.8px;top:3038.67px;width:55.9px;height:58.59px;background:#e9a6a6"><i>-0.35</i></div>
<div class="c" style="left:618.4px;top:3038.67px;width:55.6px;height:58.59px;background:#b2d4ec"><i>0.30</i></div>
<div class="c" style="left:673.7px;top:3038.67px;width:55.7px;height:58.59px;background:#b2d4ec"><i>0.30</i></div>
<div class="c" style="left:729.1px;top:3038.67px;width:55.9px;height:58.59px;background:#a6cde9"><i>0.35</i></div>
<div class="c" style="left:784.7px;top:3038.67px;width:55.9px;height:58.59px;background:#99c6e6"><i>0.40</i></div>
<div class="c" style="left:840.3px;top:3038.67px;width:55.4px;height:58.59px;background:#80b8e0"><i>0.50</i></div>
<div class="c" style="left:895.4px;top:3038.67px;width:56.4px;height:58.59px;background:#cce2f2"><i>0.20</i></div>
<div class="c" style="left:951.5px;top:3038.67px;width:54.9px;height:58.59px;background:#cce2f2"><i>0.20</i></div>
<div class="c" style="left:1006.1px;top:3038.67px;width:55.8px;height:58.59px;background:#73b0dc"><i>0.55</i></div>
<div class="c" style="left:1061.6px;top:3038.67px;width:54.7px;height:58.59px;background:#cce2f2"><i>0.20</i></div>
<div class="c" style="left:1116px;top:3038.67px;width:57.5px;height:58.59px;background:#73b0dc"><i>0.55</i></div>
<div class="c" style="left:1173.2px;top:3038.67px;width:54.9px;height:58.59px;background:#0070c0"><i>1</i></div>
<div class="c" style="left:1227.8px;top:3038.67px;width:54.7px;height:58.59px;background:#4094d0"><i>0.75</i></div>
<div class="c" style="left:1282.2px;top:3038.67px;width:55.4px;height:58.59px;background:#2685c9"><i>0.85</i></div>
<div class="c" style="left:1337.3px;top:3038.67px;width:56.2px;height:58.59px;background:#59a2d6"><i>0.65</i></div>
<div class="c" style="left:1393.2px;top:3038.67px;width:55.7px;height:58.59px;background:#73b0dc"><i>0.55</i></div>
<div class="c" style="left:1448.6px;top:3038.67px;width:55.7px;height:58.59px;background:#60a6d8"><i>0.62</i></div>
<div class="c" style="left:1504px;top:3038.67px;width:55.4px;height:58.59px;background:#8cbfe3"><i>0.45</i></div>
<div class="c" style="left:1559.1px;top:3038.67px;width:56.2px;height:58.59px;background:#80b8e0"><i>0.50</i></div>
<div class="c" style="left:1615px;top:3038.67px;width:54.9px;height:58.59px;background:#9fc9e7"><i>0.38</i></div>
<div class="c" style="left:1669.6px;top:3038.67px;width:56px;height:58.59px;background:#99c6e6"><i>0.40</i></div>
<div class="c" style="left:1725.3px;top:3038.67px;width:55.2px;height:58.59px;background:#80b8e0"><i>0.50</i></div>
<div class="c" style="left:1780.2px;top:3038.67px;width:55.4px;height:58.59px;background:#8cbfe3"><i>0.45</i></div>
<div class="c" style="left:1835.3px;top:3038.67px;width:56.1px;height:58.59px;background:#8cbfe3"><i>0.45</i></div>
<div class="c" style="left:1891.1px;top:3038.67px;width:56px;height:58.59px;background:#8cbfe3"><i>0.45</i></div>
<div class="c" style="left:1946.8px;top:3038.67px;width:56.2px;height:58.59px;background:#f2f8fc"><i>0.05</i></div>
<div class="c" style="left:2002.7px;top:3038.67px;width:56.4px;height:58.59px;background:#d9eaf6"><i>0.15</i></div>
<div class="c" style="left:451.3px;top:3096.96px;width:56.2px;height:58.59px;background:#f6d9d9"><i>-0.15</i></div>
<div class="c" style="left:507.2px;top:3096.96px;width:55.9px;height:58.59px;background:#66a9d9"><i>0.60</i></div>
<div class="c" style="left:562.8px;top:3096.96px;width:55.9px;height:58.59px;background:#d96666"><i>-0.60</i></div>
<div class="c" style="left:618.4px;top:3096.96px;width:55.6px;height:58.59px;background:#73b0dc"><i>0.55</i></div>
<div class="c" style="left:673.7px;top:3096.96px;width:55.7px;height:58.59px;background:#e6f1f9"><i>0.10</i></div>
<div class="c" style="left:729.1px;top:3096.96px;width:55.9px;height:58.59px;background:#e6f1f9"><i>0.10</i></div>
<div class="c" style="left:784.7px;top:3096.96px;width:55.9px;height:58.59px;background:#a6cde9"><i>0.35</i></div>
<div class="c" style="left:840.3px;top:3096.96px;width:55.4px;height:58.59px;background:#4c9bd3"><i>0.70</i></div>
<div class="c" style="left:895.4px;top:3096.96px;width:56.4px;height:58.59px;background:#cce2f2"><i>0.20</i></div>
<div class="c" style="left:951.5px;top:3096.96px;width:54.9px;height:58.59px;background:#a6cde9"><i>0.35</i></div>
<div class="c" style="left:1006.1px;top:3096.96px;width:55.8px;height:58.59px;background:#4094d0"><i>0.75</i></div>
<div class="c" style="left:1061.6px;top:3096.96px;width:54.7px;height:58.59px;background:#99c6e6"><i>0.40</i></div>
<div class="c" style="left:1116px;top:3096.96px;width:57.5px;height:58.59px;background:#cce2f2"><i>0.20</i></div>
<div class="c" style="left:1173.2px;top:3096.96px;width:54.9px;height:58.59px;background:#4094d0"><i>0.75</i></div>
<div class="c" style="left:1227.8px;top:3096.96px;width:54.7px;height:58.59px;background:#0070c0"><i>1</i></div>
<div class="c" style="left:1282.2px;top:3096.96px;width:55.4px;height:58.59px;background:#4697d1"><i>0.72</i></div>
<div class="c" style="left:1337.3px;top:3096.96px;width:56.2px;height:58.59px;background:#4c9bd3"><i>0.70</i></div>
<div class="c" style="left:1393.2px;top:3096.96px;width:55.7px;height:58.59px;background:#4c9bd3"><i>0.70</i></div>
<div class="c" style="left:1448.6px;top:3096.96px;width:55.7px;height:58.59px;background:#59a2d6"><i>0.65</i></div>
<div class="c" style="left:1504px;top:3096.96px;width:55.4px;height:58.59px;background:#93c2e4"><i>0.42</i></div>
<div class="c" style="left:1559.1px;top:3096.96px;width:56.2px;height:58.59px;background:#93c2e4"><i>0.42</i></div>
<div class="c" style="left:1615px;top:3096.96px;width:54.9px;height:58.59px;background:#b2d4ec"><i>0.30</i></div>
<div class="c" style="left:1669.6px;top:3096.96px;width:56px;height:58.59px;background:#d9eaf6"><i>0.15</i></div>
<div class="c" style="left:1725.3px;top:3096.96px;width:55.2px;height:58.59px;background:#73b0dc"><i>0.55</i></div>
<div class="c" style="left:1780.2px;top:3096.96px;width:55.4px;height:58.59px;background:#d9eaf6"><i>0.15</i></div>
<div class="c" style="left:1835.3px;top:3096.96px;width:56.1px;height:58.59px;background:#acd1eb"><i>0.33</i></div>
<div class="c" style="left:1891.1px;top:3096.96px;width:56px;height:58.59px;background:#f9fbfd"><i>0.03</i></div>
<div class="c" style="left:1946.8px;top:3096.96px;width:56.2px;height:58.59px;background:#f6d9d9"><i>-0.15</i></div>
<div class="c" style="left:2002.7px;top:3096.96px;width:56.4px;height:58.59px;background:#f9e6e6"><i>-0.10</i></div>
<div class="c" style="left:451.3px;top:3155.25px;width:56.2px;height:58.59px;background:#f2f8fc"><i>0.05</i></div>
<div class="c" style="left:507.2px;top:3155.25px;width:55.9px;height:58.59px;background:#80b8e0"><i>0.50</i></div>
<div class="c" style="left:562.8px;top:3155.25px;width:55.9px;height:58.59px;background:#e08080"><i>-0.50</i></div>
<div class="c" style="left:618.4px;top:3155.25px;width:55.6px;height:58.59px;background:#bfdbef"><i>0.25</i></div>
<div class="c" style="left:673.7px;top:3155.25px;width:55.7px;height:58.59px;background:#e6f1f9"><i>0.10</i></div>
<div class="c" style="left:729.1px;top:3155.25px;width:55.9px;height:58.59px;background:#f2f8fc"><i>0.05</i></div>
<div class="c" style="left:784.7px;top:3155.25px;width:55.9px;height:58.59px;background:#b2d4ec"><i>0.30</i></div>
<div class="c" style="left:840.3px;top:3155.25px;width:55.4px;height:58.59px;background:#80b8e0"><i>0.50</i></div>
<div class="c" style="left:895.4px;top:3155.25px;width:56.4px;height:58.59px;background:#d9eaf6"><i>0.15</i></div>
<div class="c" style="left:951.5px;top:3155.25px;width:54.9px;height:58.59px;background:#d9eaf6"><i>0.15</i></div>
<div class="c" style="left:1006.1px;top:3155.25px;width:55.8px;height:58.59px;background:#80b8e0"><i>0.50</i></div>
<div class="c" style="left:1061.6px;top:3155.25px;width:54.7px;height:58.59px;background:#d2e6f4"><i>0.17</i></div>
<div class="c" style="left:1116px;top:3155.25px;width:57.5px;height:58.59px;background:#a6cde9"><i>0.35</i></div>
<div class="c" style="left:1173.2px;top:3155.25px;width:54.9px;height:58.59px;background:#2685c9"><i>0.85</i></div>
<div class="c" style="left:1227.8px;top:3155.25px;width:54.7px;height:58.59px;background:#4697d1"><i>0.72</i></div>
<div class="c" style="left:1282.2px;top:3155.25px;width:55.4px;height:58.59px;background:#0070c0"><i>1</i></div>
<div class="c" style="left:1337.3px;top:3155.25px;width:56.2px;height:58.59px;background:#4c9bd3"><i>0.70</i></div>
<div class="c" style="left:1393.2px;top:3155.25px;width:55.7px;height:58.59px;background:#66a9d9"><i>0.60</i></div>
<div class="c" style="left:1448.6px;top:3155.25px;width:55.7px;height:58.59px;background:#73b0dc"><i>0.55</i></div>
<div class="c" style="left:1504px;top:3155.25px;width:55.4px;height:58.59px;background:#8cbfe3"><i>0.45</i></div>
<div class="c" style="left:1559.1px;top:3155.25px;width:56.2px;height:58.59px;background:#66a9d9"><i>0.60</i></div>
<div class="c" style="left:1615px;top:3155.25px;width:54.9px;height:58.59px;background:#a6cde9"><i>0.35</i></div>
<div class="c" style="left:1669.6px;top:3155.25px;width:56px;height:58.59px;background:#8cbfe3"><i>0.45</i></div>
<div class="c" style="left:1725.3px;top:3155.25px;width:55.2px;height:58.59px;background:#66a9d9"><i>0.60</i></div>
<div class="c" style="left:1780.2px;top:3155.25px;width:55.4px;height:58.59px;background:#cce2f2"><i>0.20</i></div>
<div class="c" style="left:1835.3px;top:3155.25px;width:56.1px;height:58.59px;background:#b9d8ee"><i>0.28</i></div>
<div class="c" style="left:1891.1px;top:3155.25px;width:56px;height:58.59px;background:#b2d4ec"><i>0.30</i></div>
<div class="c" style="left:1946.8px;top:3155.25px;width:56.2px;height:58.59px;background:#f9e6e6"><i>-0.10</i></div>
<div class="c" style="left:2002.7px;top:3155.25px;width:56.4px;height:58.59px;background:#fcf2f2"><i>-0.05</i></div>
<div class="c" style="left:451.3px;top:3213.54px;width:56.2px;height:58.59px;background:#e9a6a6"><i>-0.35</i></div>
<div class="c" style="left:507.2px;top:3213.54px;width:55.9px;height:58.59px;background:#4c9bd3"><i>0.70</i></div>
<div class="c" style="left:562.8px;top:3213.54px;width:55.9px;height:58.59px;background:#d34c4c"><i>-0.70</i></div>
<div class="c" style="left:618.4px;top:3213.54px;width:55.6px;height:58.59px;background:#d9eaf6"><i>0.15</i></div>
<div class="c" style="left:673.7px;top:3213.54px;width:55.7px;height:58.59px;background:#8cbfe3"><i>0.45</i></div>
<div class="c" style="left:729.1px;top:3213.54px;width:55.9px;height:58.59px;background:#f6d9d9"><i>-0.15</i></div>
<div class="c" style="left:784.7px;top:3213.54px;width:55.9px;height:58.59px;background:#ffffff"><i>0.00</i></div>
<div class="c" style="left:840.3px;top:3213.54px;width:55.4px;height:58.59px;background:#99c6e6"><i>0.40</i></div>
<div class="c" style="left:895.4px;top:3213.54px;width:56.4px;height:58.59px;background:#a6cde9"><i>0.35</i></div>
<div class="c" style="left:951.5px;top:3213.54px;width:54.9px;height:58.59px;background:#d9eaf6"><i>0.15</i></div>
<div class="c" style="left:1006.1px;top:3213.54px;width:55.8px;height:58.59px;background:#73b0dc"><i>0.55</i></div>
<div class="c" style="left:1061.6px;top:3213.54px;width:54.7px;height:58.59px;background:#d2e6f4"><i>0.17</i></div>
<div class="c" style="left:1116px;top:3213.54px;width:57.5px;height:58.59px;background:#f9fbfd"><i>0.03</i></div>
<div class="c" style="left:1173.2px;top:3213.54px;width:54.9px;height:58.59px;background:#59a2d6"><i>0.65</i></div>
<div class="c" style="left:1227.8px;top:3213.54px;width:54.7px;height:58.59px;background:#4c9bd3"><i>0.70</i></div>
<div class="c" style="left:1282.2px;top:3213.54px;width:55.4px;height:58.59px;background:#4c9bd3"><i>0.70</i></div>
<div class="c" style="left:1337.3px;top:3213.54px;width:56.2px;height:58.59px;background:#0070c0"><i>1</i></div>
<div class="c" style="left:1393.2px;top:3213.54px;width:55.7px;height:58.59px;background:#59a2d6"><i>0.65</i></div>
<div class="c" style="left:1448.6px;top:3213.54px;width:55.7px;height:58.59px;background:#4094d0"><i>0.75</i></div>
<div class="c" style="left:1504px;top:3213.54px;width:55.4px;height:58.59px;background:#dfedf7"><i>0.12</i></div>
<div class="c" style="left:1559.1px;top:3213.54px;width:56.2px;height:58.59px;background:#8cbfe3"><i>0.45</i></div>
<div class="c" style="left:1615px;top:3213.54px;width:54.9px;height:58.59px;background:#d9eaf6"><i>0.15</i></div>
<div class="c" style="left:1669.6px;top:3213.54px;width:56px;height:58.59px;background:#e6f1f9"><i>0.10</i></div>
<div class="c" style="left:1725.3px;top:3213.54px;width:55.2px;height:58.59px;background:#a6cde9"><i>0.35</i></div>
<div class="c" style="left:1780.2px;top:3213.54px;width:55.4px;height:58.59px;background:#e6f1f9"><i>0.10</i></div>
<div class="c" style="left:1835.3px;top:3213.54px;width:56.1px;height:58.59px;background:#66a9d9"><i>0.60</i></div>
<div class="c" style="left:1891.1px;top:3213.54px;width:56px;height:58.59px;background:#ffffff"><i>0.00</i></div>
<div class="c" style="left:1946.8px;top:3213.54px;width:56.2px;height:58.59px;background:#d96666"><i>-0.60</i></div>
<div class="c" style="left:2002.7px;top:3213.54px;width:56.4px;height:58.59px;background:#e38c8c"><i>-0.45</i></div>
<div class="c" style="left:451.3px;top:3271.83px;width:56.2px;height:58.59px;background:#e69999"><i>-0.40</i></div>
<div class="c" style="left:507.2px;top:3271.83px;width:55.9px;height:58.59px;background:#66a9d9"><i>0.60</i></div>
<div class="c" style="left:562.8px;top:3271.83px;width:55.9px;height:58.59px;background:#d96666"><i>-0.60</i></div>
<div class="c" style="left:618.4px;top:3271.83px;width:55.6px;height:58.59px;background:#cce2f2"><i>0.20</i></div>
<div class="c" style="left:673.7px;top:3271.83px;width:55.7px;height:58.59px;background:#e6f1f9"><i>0.10</i></div>
<div class="c" style="left:729.1px;top:3271.83px;width:55.9px;height:58.59px;background:#e38c8c"><i>-0.45</i></div>
<div class="c" style="left:784.7px;top:3271.83px;width:55.9px;height:58.59px;background:#ecb2b2"><i>-0.30</i></div>
<div class="c" style="left:840.3px;top:3271.83px;width:55.4px;height:58.59px;background:#bfdbef"><i>0.25</i></div>
<div class="c" style="left:895.4px;top:3271.83px;width:56.4px;height:58.59px;background:#f2cccc"><i>-0.20</i></div>
<div class="c" style="left:951.5px;top:3271.83px;width:54.9px;height:58.59px;background:#f6d9d9"><i>-0.15</i></div>
<div class="c" style="left:1006.1px;top:3271.83px;width:55.8px;height:58.59px;background:#99c6e6"><i>0.40</i></div>
<div class="c" style="left:1061.6px;top:3271.83px;width:54.7px;height:58.59px;background:#ffffff"><i>0.00</i></div>
<div class="c" style="left:1116px;top:3271.83px;width:57.5px;height:58.59px;background:#f2f8fc"><i>0.05</i></div>
<div class="c" style="left:1173.2px;top:3271.83px;width:54.9px;height:58.59px;background:#73b0dc"><i>0.55</i></div>
<div class="c" style="left:1227.8px;top:3271.83px;width:54.7px;height:58.59px;background:#4c9bd3"><i>0.70</i></div>
<div class="c" style="left:1282.2px;top:3271.83px;width:55.4px;height:58.59px;background:#66a9d9"><i>0.60</i></div>
<div class="c" style="left:1337.3px;top:3271.83px;width:56.2px;height:58.59px;background:#59a2d6"><i>0.65</i></div>
<div class="c" style="left:1393.2px;top:3271.83px;width:55.7px;height:58.59px;background:#0070c0"><i>1</i></div>
<div class="c" style="left:1448.6px;top:3271.83px;width:55.7px;height:58.59px;background:#4c9bd3"><i>0.70</i></div>
<div class="c" style="left:1504px;top:3271.83px;width:55.4px;height:58.59px;background:#f2f8fc"><i>0.05</i></div>
<div class="c" style="left:1559.1px;top:3271.83px;width:56.2px;height:58.59px;background:#a6cde9"><i>0.35</i></div>
<div class="c" style="left:1615px;top:3271.83px;width:54.9px;height:58.59px;background:#9fc9e7"><i>0.38</i></div>
<div class="c" style="left:1669.6px;top:3271.83px;width:56px;height:58.59px;background:#d9eaf6"><i>0.15</i></div>
<div class="c" style="left:1725.3px;top:3271.83px;width:55.2px;height:58.59px;background:#9fc9e7"><i>0.38</i></div>
<div class="c" style="left:1780.2px;top:3271.83px;width:55.4px;height:58.59px;background:#fcf2f2"><i>-0.05</i></div>
<div class="c" style="left:1835.3px;top:3271.83px;width:56.1px;height:58.59px;background:#d9eaf6"><i>0.15</i></div>
<div class="c" style="left:1891.1px;top:3271.83px;width:56px;height:58.59px;background:#ffffff"><i>0.00</i></div>
<div class="c" style="left:1946.8px;top:3271.83px;width:56.2px;height:58.59px;background:#e38c8c"><i>-0.45</i></div>
<div class="c" style="left:2002.7px;top:3271.83px;width:56.4px;height:58.59px;background:#e38c8c"><i>-0.45</i></div>
<div class="c" style="left:451.3px;top:3330.12px;width:56.2px;height:58.59px;background:#e9a6a6"><i>-0.35</i></div>
<div class="c" style="left:507.2px;top:3330.12px;width:55.9px;height:58.59px;background:#8cbfe3"><i>0.45</i></div>
<div class="c" style="left:562.8px;top:3330.12px;width:55.9px;height:58.59px;background:#d04040"><i>-0.75</i></div>
<div class="c" style="left:618.4px;top:3330.12px;width:55.6px;height:58.59px;background:#b2d4ec"><i>0.30</i></div>
<div class="c" style="left:673.7px;top:3330.12px;width:55.7px;height:58.59px;background:#bfdbef"><i>0.25</i></div>
<div class="c" style="left:729.1px;top:3330.12px;width:55.9px;height:58.59px;background:#ecb2b2"><i>-0.30</i></div>
<div class="c" style="left:784.7px;top:3330.12px;width:55.9px;height:58.59px;background:#fcf2f2"><i>-0.05</i></div>
<div class="c" style="left:840.3px;top:3330.12px;width:55.4px;height:58.59px;background:#bfdbef"><i>0.25</i></div>
<div class="c" style="left:895.4px;top:3330.12px;width:56.4px;height:58.59px;background:#e6f1f9"><i>0.10</i></div>
<div class="c" style="left:951.5px;top:3330.12px;width:54.9px;height:58.59px;background:#d9eaf6"><i>0.15</i></div>
<div class="c" style="left:1006.1px;top:3330.12px;width:55.8px;height:58.59px;background:#66a9d9"><i>0.60</i></div>
<div class="c" style="left:1061.6px;top:3330.12px;width:54.7px;height:58.59px;background:#b9d8ee"><i>0.28</i></div>
<div class="c" style="left:1116px;top:3330.12px;width:57.5px;height:58.59px;background:#ffffff"><i>0.00</i></div>
<div class="c" style="left:1173.2px;top:3330.12px;width:54.9px;height:58.59px;background:#60a6d8"><i>0.62</i></div>
<div class="c" style="left:1227.8px;top:3330.12px;width:54.7px;height:58.59px;background:#59a2d6"><i>0.65</i></div>
<div class="c" style="left:1282.2px;top:3330.12px;width:55.4px;height:58.59px;background:#73b0dc"><i>0.55</i></div>
<div class="c" style="left:1337.3px;top:3330.12px;width:56.2px;height:58.59px;background:#4094d0"><i>0.75</i></div>
<div class="c" style="left:1393.2px;top:3330.12px;width:55.7px;height:58.59px;background:#4c9bd3"><i>0.70</i></div>
<div class="c" style="left:1448.6px;top:3330.12px;width:55.7px;height:58.59px;background:#0070c0"><i>1</i></div>
<div class="c" style="left:1504px;top:3330.12px;width:55.4px;height:58.59px;background:#f2f8fc"><i>0.05</i></div>
<div class="c" style="left:1559.1px;top:3330.12px;width:56.2px;height:58.59px;background:#d9eaf6"><i>0.15</i></div>
<div class="c" style="left:1615px;top:3330.12px;width:54.9px;height:58.59px;background:#cce2f2"><i>0.20</i></div>
<div class="c" style="left:1669.6px;top:3330.12px;width:56px;height:58.59px;background:#ffffff"><i>0.00</i></div>
<div class="c" style="left:1725.3px;top:3330.12px;width:55.2px;height:58.59px;background:#e6f1f9"><i>0.10</i></div>
<div class="c" style="left:1780.2px;top:3330.12px;width:55.4px;height:58.59px;background:#99c6e6"><i>0.40</i></div>
<div class="c" style="left:1835.3px;top:3330.12px;width:56.1px;height:58.59px;background:#59a2d6"><i>0.65</i></div>
<div class="c" style="left:1891.1px;top:3330.12px;width:56px;height:58.59px;background:#e6f1f9"><i>0.10</i></div>
<div class="c" style="left:1946.8px;top:3330.12px;width:56.2px;height:58.59px;background:#e9a6a6"><i>-0.35</i></div>
<div class="c" style="left:2002.7px;top:3330.12px;width:56.4px;height:58.59px;background:#f2cccc"><i>-0.20</i></div>
<div class="c" style="left:451.3px;top:3388.41px;width:56.2px;height:58.59px;background:#99c6e6"><i>0.40</i></div>
<div class="c" style="left:507.2px;top:3388.41px;width:55.9px;height:58.59px;background:#cce2f2"><i>0.20</i></div>
<div class="c" style="left:562.8px;top:3388.41px;width:55.9px;height:58.59px;background:#e6f1f9"><i>0.10</i></div>
<div class="c" style="left:618.4px;top:3388.41px;width:55.6px;height:58.59px;background:#80b8e0"><i>0.50</i></div>
<div class="c" style="left:673.7px;top:3388.41px;width:55.7px;height:58.59px;background:#ecb2b2"><i>-0.30</i></div>
<div class="c" style="left:729.1px;top:3388.41px;width:55.9px;height:58.59px;background:#4094d0"><i>0.75</i></div>
<div class="c" style="left:784.7px;top:3388.41px;width:55.9px;height:58.59px;background:#338dcd"><i>0.80</i></div>
<div class="c" style="left:840.3px;top:3388.41px;width:55.4px;height:58.59px;background:#2685c9"><i>0.85</i></div>
<div class="c" style="left:895.4px;top:3388.41px;width:56.4px;height:58.59px;background:#99c6e6"><i>0.40</i></div>
<div class="c" style="left:951.5px;top:3388.41px;width:54.9px;height:58.59px;background:#73b0dc"><i>0.55</i></div>
<div class="c" style="left:1006.1px;top:3388.41px;width:55.8px;height:58.59px;background:#80b8e0"><i>0.50</i></div>
<div class="c" style="left:1061.6px;top:3388.41px;width:54.7px;height:58.59px;background:#8cbfe3"><i>0.45</i></div>
<div class="c" style="left:1116px;top:3388.41px;width:57.5px;height:58.59px;background:#99c6e6"><i>0.40</i></div>
<div class="c" style="left:1173.2px;top:3388.41px;width:54.9px;height:58.59px;background:#8cbfe3"><i>0.45</i></div>
<div class="c" style="left:1227.8px;top:3388.41px;width:54.7px;height:58.59px;background:#93c2e4"><i>0.42</i></div>
<div class="c" style="left:1282.2px;top:3388.41px;width:55.4px;height:58.59px;background:#8cbfe3"><i>0.45</i></div>
<div class="c" style="left:1337.3px;top:3388.41px;width:56.2px;height:58.59px;background:#dfedf7"><i>0.12</i></div>
<div class="c" style="left:1393.2px;top:3388.41px;width:55.7px;height:58.59px;background:#f2f8fc"><i>0.05</i></div>
<div class="c" style="left:1448.6px;top:3388.41px;width:55.7px;height:58.59px;background:#f2f8fc"><i>0.05</i></div>
<div class="c" style="left:1504px;top:3388.41px;width:55.4px;height:58.59px;background:#0070c0"><i>1</i></div>
<div class="c" style="left:1559.1px;top:3388.41px;width:56.2px;height:58.59px;background:#4094d0"><i>0.75</i></div>
<div class="c" style="left:1615px;top:3388.41px;width:54.9px;height:58.59px;background:#4c9bd3"><i>0.70</i></div>
<div class="c" style="left:1669.6px;top:3388.41px;width:56px;height:58.59px;background:#4094d0"><i>0.75</i></div>
<div class="c" style="left:1725.3px;top:3388.41px;width:55.2px;height:58.59px;background:#338dcd"><i>0.80</i></div>
<div class="c" style="left:1780.2px;top:3388.41px;width:55.4px;height:58.59px;background:#b2d4ec"><i>0.30</i></div>
<div class="c" style="left:1835.3px;top:3388.41px;width:56.1px;height:58.59px;background:#f2f8fc"><i>0.05</i></div>
<div class="c" style="left:1891.1px;top:3388.41px;width:56px;height:58.59px;background:#73b0dc"><i>0.55</i></div>
<div class="c" style="left:1946.8px;top:3388.41px;width:56.2px;height:58.59px;background:#a6cde9"><i>0.35</i></div>
<div class="c" style="left:2002.7px;top:3388.41px;width:56.4px;height:58.59px;background:#a6cde9"><i>0.35</i></div>
<div class="c" style="left:451.3px;top:3446.7px;width:56.2px;height:58.59px;background:#e6f1f9"><i>0.10</i></div>
<div class="c" style="left:507.2px;top:3446.7px;width:55.9px;height:58.59px;background:#80b8e0"><i>0.50</i></div>
<div class="c" style="left:562.8px;top:3446.7px;width:55.9px;height:58.59px;background:#ecf4fa"><i>0.07</i></div>
<div class="c" style="left:618.4px;top:3446.7px;width:55.6px;height:58.59px;background:#bfdbef"><i>0.25</i></div>
<div class="c" style="left:673.7px;top:3446.7px;width:55.7px;height:58.59px;background:#fcf5f5"><i>-0.04</i></div>
<div class="c" style="left:729.1px;top:3446.7px;width:55.9px;height:58.59px;background:#bfdbef"><i>0.25</i></div>
<div class="c" style="left:784.7px;top:3446.7px;width:55.9px;height:58.59px;background:#bfdbef"><i>0.25</i></div>
<div class="c" style="left:840.3px;top:3446.7px;width:55.4px;height:58.59px;background:#66a9d9"><i>0.60</i></div>
<div class="c" style="left:895.4px;top:3446.7px;width:56.4px;height:58.59px;background:#d2e6f4"><i>0.17</i></div>
<div class="c" style="left:951.5px;top:3446.7px;width:54.9px;height:58.59px;background:#b9d8ee"><i>0.28</i></div>
<div class="c" style="left:1006.1px;top:3446.7px;width:55.8px;height:58.59px;background:#8cbfe3"><i>0.45</i></div>
<div class="c" style="left:1061.6px;top:3446.7px;width:54.7px;height:58.59px;background:#ffffff"><i>0.00</i></div>
<div class="c" style="left:1116px;top:3446.7px;width:57.5px;height:58.59px;background:#a6cde9"><i>0.35</i></div>
<div class="c" style="left:1173.2px;top:3446.7px;width:54.9px;height:58.59px;background:#80b8e0"><i>0.50</i></div>
<div class="c" style="left:1227.8px;top:3446.7px;width:54.7px;height:58.59px;background:#93c2e4"><i>0.42</i></div>
<div class="c" style="left:1282.2px;top:3446.7px;width:55.4px;height:58.59px;background:#66a9d9"><i>0.60</i></div>
<div class="c" style="left:1337.3px;top:3446.7px;width:56.2px;height:58.59px;background:#8cbfe3"><i>0.45</i></div>
<div class="c" style="left:1393.2px;top:3446.7px;width:55.7px;height:58.59px;background:#a6cde9"><i>0.35</i></div>
<div class="c" style="left:1448.6px;top:3446.7px;width:55.7px;height:58.59px;background:#d9eaf6"><i>0.15</i></div>
<div class="c" style="left:1504px;top:3446.7px;width:55.4px;height:58.59px;background:#4094d0"><i>0.75</i></div>
<div class="c" style="left:1559.1px;top:3446.7px;width:56.2px;height:58.59px;background:#0070c0"><i>1</i></div>
<div class="c" style="left:1615px;top:3446.7px;width:54.9px;height:58.59px;background:#4697d1"><i>0.72</i></div>
<div class="c" style="left:1669.6px;top:3446.7px;width:56px;height:58.59px;background:#2685c9"><i>0.85</i></div>
<div class="c" style="left:1725.3px;top:3446.7px;width:55.2px;height:58.59px;background:#2685c9"><i>0.85</i></div>
<div class="c" style="left:1780.2px;top:3446.7px;width:55.4px;height:58.59px;background:#ffffff"><i>0.00</i></div>
<div class="c" style="left:1835.3px;top:3446.7px;width:56.1px;height:58.59px;background:#fdf7f7"><i>-0.03</i></div>
<div class="c" style="left:1891.1px;top:3446.7px;width:56px;height:58.59px;background:#66a9d9"><i>0.60</i></div>
<div class="c" style="left:1946.8px;top:3446.7px;width:56.2px;height:58.59px;background:#f9e6e6"><i>-0.10</i></div>
<div class="c" style="left:2002.7px;top:3446.7px;width:56.4px;height:58.59px;background:#efbfbf"><i>-0.25</i></div>
<div class="c" style="left:451.3px;top:3504.99px;width:56.2px;height:58.59px;background:#bfdbef"><i>0.25</i></div>
<div class="c" style="left:507.2px;top:3504.99px;width:55.9px;height:58.59px;background:#cce2f2"><i>0.20</i></div>
<div class="c" style="left:562.8px;top:3504.99px;width:55.9px;height:58.59px;background:#d9eaf6"><i>0.15</i></div>
<div class="c" style="left:618.4px;top:3504.99px;width:55.6px;height:58.59px;background:#b2d4ec"><i>0.30</i></div>
<div class="c" style="left:673.7px;top:3504.99px;width:55.7px;height:58.59px;background:#e9a6a6"><i>-0.35</i></div>
<div class="c" style="left:729.1px;top:3504.99px;width:55.9px;height:58.59px;background:#e6f1f9"><i>0.10</i></div>
<div class="c" style="left:784.7px;top:3504.99px;width:55.9px;height:58.59px;background:#cce2f2"><i>0.20</i></div>
<div class="c" style="left:840.3px;top:3504.99px;width:55.4px;height:58.59px;background:#99c6e6"><i>0.40</i></div>
<div class="c" style="left:895.4px;top:3504.99px;width:56.4px;height:58.59px;background:#ffffff"><i>0.00</i></div>
<div class="c" style="left:951.5px;top:3504.99px;width:54.9px;height:58.59px;background:#cce2f2"><i>0.20</i></div>
<div class="c" style="left:1006.1px;top:3504.99px;width:55.8px;height:58.59px;background:#bfdbef"><i>0.25</i></div>
<div class="c" style="left:1061.6px;top:3504.99px;width:54.7px;height:58.59px;background:#ffffff"><i>0.00</i></div>
<div class="c" style="left:1116px;top:3504.99px;width:57.5px;height:58.59px;background:#e6f1f9"><i>0.10</i></div>
<div class="c" style="left:1173.2px;top:3504.99px;width:54.9px;height:58.59px;background:#9fc9e7"><i>0.38</i></div>
<div class="c" style="left:1227.8px;top:3504.99px;width:54.7px;height:58.59px;background:#b2d4ec"><i>0.30</i></div>
<div class="c" style="left:1282.2px;top:3504.99px;width:55.4px;height:58.59px;background:#a6cde9"><i>0.35</i></div>
<div class="c" style="left:1337.3px;top:3504.99px;width:56.2px;height:58.59px;background:#d9eaf6"><i>0.15</i></div>
<div class="c" style="left:1393.2px;top:3504.99px;width:55.7px;height:58.59px;background:#9fc9e7"><i>0.38</i></div>
<div class="c" style="left:1448.6px;top:3504.99px;width:55.7px;height:58.59px;background:#cce2f2"><i>0.20</i></div>
<div class="c" style="left:1504px;top:3504.99px;width:55.4px;height:58.59px;background:#4c9bd3"><i>0.70</i></div>
<div class="c" style="left:1559.1px;top:3504.99px;width:56.2px;height:58.59px;background:#4697d1"><i>0.72</i></div>
<div class="c" style="left:1615px;top:3504.99px;width:54.9px;height:58.59px;background:#0070c0"><i>1</i></div>
<div class="c" style="left:1669.6px;top:3504.99px;width:56px;height:58.59px;background:#2685c9"><i>0.85</i></div>
<div class="c" style="left:1725.3px;top:3504.99px;width:55.2px;height:58.59px;background:#4697d1"><i>0.72</i></div>
<div class="c" style="left:1780.2px;top:3504.99px;width:55.4px;height:58.59px;background:#b2d4ec"><i>0.30</i></div>
<div class="c" style="left:1835.3px;top:3504.99px;width:56.1px;height:58.59px;background:#fdf7f7"><i>-0.03</i></div>
<div class="c" style="left:1891.1px;top:3504.99px;width:56px;height:58.59px;background:#4094d0"><i>0.75</i></div>
<div class="c" style="left:1946.8px;top:3504.99px;width:56.2px;height:58.59px;background:#c6dff1"><i>0.23</i></div>
<div class="c" style="left:2002.7px;top:3504.99px;width:56.4px;height:58.59px;background:#e6f1f9"><i>0.10</i></div>
<div class="c" style="left:451.3px;top:3563.28px;width:56.2px;height:58.59px;background:#8cbfe3"><i>0.45</i></div>
<div class="c" style="left:507.2px;top:3563.28px;width:55.9px;height:58.59px;background:#d9eaf6"><i>0.15</i></div>
<div class="c" style="left:562.8px;top:3563.28px;width:55.9px;height:58.59px;background:#a6cde9"><i>0.35</i></div>
<div class="c" style="left:618.4px;top:3563.28px;width:55.6px;height:58.59px;background:#cce2f2"><i>0.20</i></div>
<div class="c" style="left:673.7px;top:3563.28px;width:55.7px;height:58.59px;background:#efbfbf"><i>-0.25</i></div>
<div class="c" style="left:729.1px;top:3563.28px;width:55.9px;height:58.59px;background:#9fc9e7"><i>0.38</i></div>
<div class="c" style="left:784.7px;top:3563.28px;width:55.9px;height:58.59px;background:#a6cde9"><i>0.35</i></div>
<div class="c" style="left:840.3px;top:3563.28px;width:55.4px;height:58.59px;background:#80b8e0"><i>0.50</i></div>
<div class="c" style="left:895.4px;top:3563.28px;width:56.4px;height:58.59px;background:#e6f1f9"><i>0.10</i></div>
<div class="c" style="left:951.5px;top:3563.28px;width:54.9px;height:58.59px;background:#bfdbef"><i>0.25</i></div>
<div class="c" style="left:1006.1px;top:3563.28px;width:55.8px;height:58.59px;background:#bfdbef"><i>0.25</i></div>
<div class="c" style="left:1061.6px;top:3563.28px;width:54.7px;height:58.59px;background:#fcf2f2"><i>-0.05</i></div>
<div class="c" style="left:1116px;top:3563.28px;width:57.5px;height:58.59px;background:#a6cde9"><i>0.35</i></div>
<div class="c" style="left:1173.2px;top:3563.28px;width:54.9px;height:58.59px;background:#99c6e6"><i>0.40</i></div>
<div class="c" style="left:1227.8px;top:3563.28px;width:54.7px;height:58.59px;background:#d9eaf6"><i>0.15</i></div>
<div class="c" style="left:1282.2px;top:3563.28px;width:55.4px;height:58.59px;background:#8cbfe3"><i>0.45</i></div>
<div class="c" style="left:1337.3px;top:3563.28px;width:56.2px;height:58.59px;background:#e6f1f9"><i>0.10</i></div>
<div class="c" style="left:1393.2px;top:3563.28px;width:55.7px;height:58.59px;background:#d9eaf6"><i>0.15</i></div>
<div class="c" style="left:1448.6px;top:3563.28px;width:55.7px;height:58.59px;background:#ffffff"><i>0.00</i></div>
<div class="c" style="left:1504px;top:3563.28px;width:55.4px;height:58.59px;background:#4094d0"><i>0.75</i></div>
<div class="c" style="left:1559.1px;top:3563.28px;width:56.2px;height:58.59px;background:#2685c9"><i>0.85</i></div>
<div class="c" style="left:1615px;top:3563.28px;width:54.9px;height:58.59px;background:#2685c9"><i>0.85</i></div>
<div class="c" style="left:1669.6px;top:3563.28px;width:56px;height:58.59px;background:#0070c0"><i>1</i></div>
<div class="c" style="left:1725.3px;top:3563.28px;width:55.2px;height:58.59px;background:#338dcd"><i>0.80</i></div>
<div class="c" style="left:1780.2px;top:3563.28px;width:55.4px;height:58.59px;background:#cce2f2"><i>0.20</i></div>
<div class="c" style="left:1835.3px;top:3563.28px;width:56.1px;height:58.59px;background:#f6d9d9"><i>-0.15</i></div>
<div class="c" style="left:1891.1px;top:3563.28px;width:56px;height:58.59px;background:#338dcd"><i>0.80</i></div>
<div class="c" style="left:1946.8px;top:3563.28px;width:56.2px;height:58.59px;background:#b9d8ee"><i>0.28</i></div>
<div class="c" style="left:2002.7px;top:3563.28px;width:56.4px;height:58.59px;background:#dfedf7"><i>0.12</i></div>
<div class="c" style="left:451.3px;top:3621.57px;width:56.2px;height:58.59px;background:#a6cde9"><i>0.35</i></div>
<div class="c" style="left:507.2px;top:3621.57px;width:55.9px;height:58.59px;background:#a6cde9"><i>0.35</i></div>
<div class="c" style="left:562.8px;top:3621.57px;width:55.9px;height:58.59px;background:#ffffff"><i>0.00</i></div>
<div class="c" style="left:618.4px;top:3621.57px;width:55.6px;height:58.59px;background:#8cbfe3"><i>0.45</i></div>
<div class="c" style="left:673.7px;top:3621.57px;width:55.7px;height:58.59px;background:#efbfbf"><i>-0.25</i></div>
<div class="c" style="left:729.1px;top:3621.57px;width:55.9px;height:58.59px;background:#93c2e4"><i>0.42</i></div>
<div class="c" style="left:784.7px;top:3621.57px;width:55.9px;height:58.59px;background:#79b4de"><i>0.53</i></div>
<div class="c" style="left:840.3px;top:3621.57px;width:55.4px;height:58.59px;background:#338dcd"><i>0.80</i></div>
<div class="c" style="left:895.4px;top:3621.57px;width:56.4px;height:58.59px;background:#93c2e4"><i>0.42</i></div>
<div class="c" style="left:951.5px;top:3621.57px;width:54.9px;height:58.59px;background:#80b8e0"><i>0.50</i></div>
<div class="c" style="left:1006.1px;top:3621.57px;width:55.8px;height:58.59px;background:#73b0dc"><i>0.55</i></div>
<div class="c" style="left:1061.6px;top:3621.57px;width:54.7px;height:58.59px;background:#bfdbef"><i>0.25</i></div>
<div class="c" style="left:1116px;top:3621.57px;width:57.5px;height:58.59px;background:#b2d4ec"><i>0.30</i></div>
<div class="c" style="left:1173.2px;top:3621.57px;width:54.9px;height:58.59px;background:#80b8e0"><i>0.50</i></div>
<div class="c" style="left:1227.8px;top:3621.57px;width:54.7px;height:58.59px;background:#73b0dc"><i>0.55</i></div>
<div class="c" style="left:1282.2px;top:3621.57px;width:55.4px;height:58.59px;background:#66a9d9"><i>0.60</i></div>
<div class="c" style="left:1337.3px;top:3621.57px;width:56.2px;height:58.59px;background:#a6cde9"><i>0.35</i></div>
<div class="c" style="left:1393.2px;top:3621.57px;width:55.7px;height:58.59px;background:#9fc9e7"><i>0.38</i></div>
<div class="c" style="left:1448.6px;top:3621.57px;width:55.7px;height:58.59px;background:#e6f1f9"><i>0.10</i></div>
<div class="c" style="left:1504px;top:3621.57px;width:55.4px;height:58.59px;background:#338dcd"><i>0.80</i></div>
<div class="c" style="left:1559.1px;top:3621.57px;width:56.2px;height:58.59px;background:#2685c9"><i>0.85</i></div>
<div class="c" style="left:1615px;top:3621.57px;width:54.9px;height:58.59px;background:#4697d1"><i>0.72</i></div>
<div class="c" style="left:1669.6px;top:3621.57px;width:56px;height:58.59px;background:#338dcd"><i>0.80</i></div>
<div class="c" style="left:1725.3px;top:3621.57px;width:55.2px;height:58.59px;background:#0070c0"><i>1</i></div>
<div class="c" style="left:1780.2px;top:3621.57px;width:55.4px;height:58.59px;background:#fbfdfe"><i>0.01</i></div>
<div class="c" style="left:1835.3px;top:3621.57px;width:56.1px;height:58.59px;background:#f6d9d9"><i>-0.15</i></div>
<div class="c" style="left:1891.1px;top:3621.57px;width:56px;height:58.59px;background:#86bbe1"><i>0.47</i></div>
<div class="c" style="left:1946.8px;top:3621.57px;width:56.2px;height:58.59px;background:#e6f1f9"><i>0.10</i></div>
<div class="c" style="left:2002.7px;top:3621.57px;width:56.4px;height:58.59px;background:#f2f8fc"><i>0.05</i></div>
<div class="c" style="left:451.3px;top:3679.86px;width:56.2px;height:58.59px;background:#8cbfe3"><i>0.45</i></div>
<div class="c" style="left:507.2px;top:3679.86px;width:55.9px;height:58.59px;background:#fcf5f5"><i>-0.04</i></div>
<div class="c" style="left:562.8px;top:3679.86px;width:55.9px;height:58.59px;background:#f9e6e6"><i>-0.10</i></div>
<div class="c" style="left:618.4px;top:3679.86px;width:55.6px;height:58.59px;background:#d9eaf6"><i>0.15</i></div>
<div class="c" style="left:673.7px;top:3679.86px;width:55.7px;height:58.59px;background:#d9eaf6"><i>0.15</i></div>
<div class="c" style="left:729.1px;top:3679.86px;width:55.9px;height:58.59px;background:#8cbfe3"><i>0.45</i></div>
<div class="c" style="left:784.7px;top:3679.86px;width:55.9px;height:58.59px;background:#79b4de"><i>0.53</i></div>
<div class="c" style="left:840.3px;top:3679.86px;width:55.4px;height:58.59px;background:#dfedf7"><i>0.12</i></div>
<div class="c" style="left:895.4px;top:3679.86px;width:56.4px;height:58.59px;background:#d9eaf6"><i>0.15</i></div>
<div class="c" style="left:951.5px;top:3679.86px;width:54.9px;height:58.59px;background:#cce2f2"><i>0.20</i></div>
<div class="c" style="left:1006.1px;top:3679.86px;width:55.8px;height:58.59px;background:#bfdbef"><i>0.25</i></div>
<div class="c" style="left:1061.6px;top:3679.86px;width:54.7px;height:58.59px;background:#bfdbef"><i>0.25</i></div>
<div class="c" style="left:1116px;top:3679.86px;width:57.5px;height:58.59px;background:#b2d4ec"><i>0.30</i></div>
<div class="c" style="left:1173.2px;top:3679.86px;width:54.9px;height:58.59px;background:#8cbfe3"><i>0.45</i></div>
<div class="c" style="left:1227.8px;top:3679.86px;width:54.7px;height:58.59px;background:#d9eaf6"><i>0.15</i></div>
<div class="c" style="left:1282.2px;top:3679.86px;width:55.4px;height:58.59px;background:#cce2f2"><i>0.20</i></div>
<div class="c" style="left:1337.3px;top:3679.86px;width:56.2px;height:58.59px;background:#e6f1f9"><i>0.10</i></div>
<div class="c" style="left:1393.2px;top:3679.86px;width:55.7px;height:58.59px;background:#fcf2f2"><i>-0.05</i></div>
<div class="c" style="left:1448.6px;top:3679.86px;width:55.7px;height:58.59px;background:#99c6e6"><i>0.40</i></div>
<div class="c" style="left:1504px;top:3679.86px;width:55.4px;height:58.59px;background:#b2d4ec"><i>0.30</i></div>
<div class="c" style="left:1559.1px;top:3679.86px;width:56.2px;height:58.59px;background:#ffffff"><i>0.00</i></div>
<div class="c" style="left:1615px;top:3679.86px;width:54.9px;height:58.59px;background:#b2d4ec"><i>0.30</i></div>
<div class="c" style="left:1669.6px;top:3679.86px;width:56px;height:58.59px;background:#cce2f2"><i>0.20</i></div>
<div class="c" style="left:1725.3px;top:3679.86px;width:55.2px;height:58.59px;background:#fbfdfe"><i>0.01</i></div>
<div class="c" style="left:1780.2px;top:3679.86px;width:55.4px;height:58.59px;background:#0070c0"><i>1</i></div>
<div class="c" style="left:1835.3px;top:3679.86px;width:56.1px;height:58.59px;background:#4697d1"><i>0.72</i></div>
<div class="c" style="left:1891.1px;top:3679.86px;width:56px;height:58.59px;background:#66a9d9"><i>0.60</i></div>
<div class="c" style="left:1946.8px;top:3679.86px;width:56.2px;height:58.59px;background:#8cbfe3"><i>0.45</i></div>
<div class="c" style="left:2002.7px;top:3679.86px;width:56.4px;height:58.59px;background:#539ed4"><i>0.68</i></div>
<div class="c" style="left:451.3px;top:3738.15px;width:56.2px;height:58.59px;background:#f9e6e6"><i>-0.10</i></div>
<div class="c" style="left:507.2px;top:3738.15px;width:55.9px;height:58.59px;background:#b2d4ec"><i>0.30</i></div>
<div class="c" style="left:562.8px;top:3738.15px;width:55.9px;height:58.59px;background:#dc7373"><i>-0.55</i></div>
<div class="c" style="left:618.4px;top:3738.15px;width:55.6px;height:58.59px;background:#bfdbef"><i>0.25</i></div>
<div class="c" style="left:673.7px;top:3738.15px;width:55.7px;height:58.59px;background:#80b8e0"><i>0.50</i></div>
<div class="c" style="left:729.1px;top:3738.15px;width:55.9px;height:58.59px;background:#cce2f2"><i>0.20</i></div>
<div class="c" style="left:784.7px;top:3738.15px;width:55.9px;height:58.59px;background:#bfdbef"><i>0.25</i></div>
<div class="c" style="left:840.3px;top:3738.15px;width:55.4px;height:58.59px;background:#d9eaf6"><i>0.15</i></div>
<div class="c" style="left:895.4px;top:3738.15px;width:56.4px;height:58.59px;background:#99c6e6"><i>0.40</i></div>
<div class="c" style="left:951.5px;top:3738.15px;width:54.9px;height:58.59px;background:#a6cde9"><i>0.35</i></div>
<div class="c" style="left:1006.1px;top:3738.15px;width:55.8px;height:58.59px;background:#80b8e0"><i>0.50</i></div>
<div class="c" style="left:1061.6px;top:3738.15px;width:54.7px;height:58.59px;background:#8cbfe3"><i>0.45</i></div>
<div class="c" style="left:1116px;top:3738.15px;width:57.5px;height:58.59px;background:#f2f8fc"><i>0.05</i></div>
<div class="c" style="left:1173.2px;top:3738.15px;width:54.9px;height:58.59px;background:#8cbfe3"><i>0.45</i></div>
<div class="c" style="left:1227.8px;top:3738.15px;width:54.7px;height:58.59px;background:#acd1eb"><i>0.33</i></div>
<div class="c" style="left:1282.2px;top:3738.15px;width:55.4px;height:58.59px;background:#b9d8ee"><i>0.28</i></div>
<div class="c" style="left:1337.3px;top:3738.15px;width:56.2px;height:58.59px;background:#66a9d9"><i>0.60</i></div>
<div class="c" style="left:1393.2px;top:3738.15px;width:55.7px;height:58.59px;background:#d9eaf6"><i>0.15</i></div>
<div class="c" style="left:1448.6px;top:3738.15px;width:55.7px;height:58.59px;background:#59a2d6"><i>0.65</i></div>
<div class="c" style="left:1504px;top:3738.15px;width:55.4px;height:58.59px;background:#f2f8fc"><i>0.05</i></div>
<div class="c" style="left:1559.1px;top:3738.15px;width:56.2px;height:58.59px;background:#fdf7f7"><i>-0.03</i></div>
<div class="c" style="left:1615px;top:3738.15px;width:54.9px;height:58.59px;background:#fdf7f7"><i>-0.03</i></div>
<div class="c" style="left:1669.6px;top:3738.15px;width:56px;height:58.59px;background:#f6d9d9"><i>-0.15</i></div>
<div class="c" style="left:1725.3px;top:3738.15px;width:55.2px;height:58.59px;background:#f6d9d9"><i>-0.15</i></div>
<div class="c" style="left:1780.2px;top:3738.15px;width:55.4px;height:58.59px;background:#4697d1"><i>0.72</i></div>
<div class="c" style="left:1835.3px;top:3738.15px;width:56.1px;height:58.59px;background:#0070c0"><i>1</i></div>
<div class="c" style="left:1891.1px;top:3738.15px;width:56px;height:58.59px;background:#c6dff1"><i>0.23</i></div>
<div class="c" style="left:1946.8px;top:3738.15px;width:56.2px;height:58.59px;background:#f2cccc"><i>-0.20</i></div>
<div class="c" style="left:2002.7px;top:3738.15px;width:56.4px;height:58.59px;background:#e6f1f9"><i>0.10</i></div>
<div class="c" style="left:451.3px;top:3796.44px;width:56.2px;height:58.59px;background:#86bbe1"><i>0.47</i></div>
<div class="c" style="left:507.2px;top:3796.44px;width:55.9px;height:58.59px;background:#ffffff"><i>0.00</i></div>
<div class="c" style="left:562.8px;top:3796.44px;width:55.9px;height:58.59px;background:#99c6e6"><i>0.40</i></div>
<div class="c" style="left:618.4px;top:3796.44px;width:55.6px;height:58.59px;background:#bfdbef"><i>0.25</i></div>
<div class="c" style="left:673.7px;top:3796.44px;width:55.7px;height:58.59px;background:#fcf2f2"><i>-0.05</i></div>
<div class="c" style="left:729.1px;top:3796.44px;width:55.9px;height:58.59px;background:#93c2e4"><i>0.42</i></div>
<div class="c" style="left:784.7px;top:3796.44px;width:55.9px;height:58.59px;background:#93c2e4"><i>0.42</i></div>
<div class="c" style="left:840.3px;top:3796.44px;width:55.4px;height:58.59px;background:#c6dff1"><i>0.23</i></div>
<div class="c" style="left:895.4px;top:3796.44px;width:56.4px;height:58.59px;background:#f2f8fc"><i>0.05</i></div>
<div class="c" style="left:951.5px;top:3796.44px;width:54.9px;height:58.59px;background:#d9eaf6"><i>0.15</i></div>
<div class="c" style="left:1006.1px;top:3796.44px;width:55.8px;height:58.59px;background:#cce2f2"><i>0.20</i></div>
<div class="c" style="left:1061.6px;top:3796.44px;width:54.7px;height:58.59px;background:#f2f8fc"><i>0.05</i></div>
<div class="c" style="left:1116px;top:3796.44px;width:57.5px;height:58.59px;background:#73b0dc"><i>0.55</i></div>
<div class="c" style="left:1173.2px;top:3796.44px;width:54.9px;height:58.59px;background:#8cbfe3"><i>0.45</i></div>
<div class="c" style="left:1227.8px;top:3796.44px;width:54.7px;height:58.59px;background:#f9fbfd"><i>0.03</i></div>
<div class="c" style="left:1282.2px;top:3796.44px;width:55.4px;height:58.59px;background:#b2d4ec"><i>0.30</i></div>
<div class="c" style="left:1337.3px;top:3796.44px;width:56.2px;height:58.59px;background:#ffffff"><i>0.00</i></div>
<div class="c" style="left:1393.2px;top:3796.44px;width:55.7px;height:58.59px;background:#ffffff"><i>0.00</i></div>
<div class="c" style="left:1448.6px;top:3796.44px;width:55.7px;height:58.59px;background:#e6f1f9"><i>0.10</i></div>
<div class="c" style="left:1504px;top:3796.44px;width:55.4px;height:58.59px;background:#73b0dc"><i>0.55</i></div>
<div class="c" style="left:1559.1px;top:3796.44px;width:56.2px;height:58.59px;background:#66a9d9"><i>0.60</i></div>
<div class="c" style="left:1615px;top:3796.44px;width:54.9px;height:58.59px;background:#4094d0"><i>0.75</i></div>
<div class="c" style="left:1669.6px;top:3796.44px;width:56px;height:58.59px;background:#338dcd"><i>0.80</i></div>
<div class="c" style="left:1725.3px;top:3796.44px;width:55.2px;height:58.59px;background:#86bbe1"><i>0.47</i></div>
<div class="c" style="left:1780.2px;top:3796.44px;width:55.4px;height:58.59px;background:#66a9d9"><i>0.60</i></div>
<div class="c" style="left:1835.3px;top:3796.44px;width:56.1px;height:58.59px;background:#c6dff1"><i>0.23</i></div>
<div class="c" style="left:1891.1px;top:3796.44px;width:56px;height:58.59px;background:#0070c0"><i>1</i></div>
<div class="c" style="left:1946.8px;top:3796.44px;width:56.2px;height:58.59px;background:#86bbe1"><i>0.47</i></div>
<div class="c" style="left:2002.7px;top:3796.44px;width:56.4px;height:58.59px;background:#99c6e6"><i>0.40</i></div>
<div class="c" style="left:451.3px;top:3854.73px;width:56.2px;height:58.59px;background:#539ed4"><i>0.68</i></div>
<div class="c" style="left:507.2px;top:3854.73px;width:55.9px;height:58.59px;background:#d86060"><i>-0.62</i></div>
<div class="c" style="left:562.8px;top:3854.73px;width:55.9px;height:58.59px;background:#a6cde9"><i>0.35</i></div>
<div class="c" style="left:618.4px;top:3854.73px;width:55.6px;height:58.59px;background:#93c2e4"><i>0.42</i></div>
<div class="c" style="left:673.7px;top:3854.73px;width:55.7px;height:58.59px;background:#e08080"><i>-0.50</i></div>
<div class="c" style="left:729.1px;top:3854.73px;width:55.9px;height:58.59px;background:#60a6d8"><i>0.62</i></div>
<div class="c" style="left:784.7px;top:3854.73px;width:55.9px;height:58.59px;background:#59a2d6"><i>0.65</i></div>
<div class="c" style="left:840.3px;top:3854.73px;width:55.4px;height:58.59px;background:#f2f8fc"><i>0.05</i></div>
<div class="c" style="left:895.4px;top:3854.73px;width:56.4px;height:58.59px;background:#f2f8fc"><i>0.05</i></div>
<div class="c" style="left:951.5px;top:3854.73px;width:54.9px;height:58.59px;background:#a6cde9"><i>0.35</i></div>
<div class="c" style="left:1006.1px;top:3854.73px;width:55.8px;height:58.59px;background:#f2f8fc"><i>0.05</i></div>
<div class="c" style="left:1061.6px;top:3854.73px;width:54.7px;height:58.59px;background:#8cbfe3"><i>0.45</i></div>
<div class="c" style="left:1116px;top:3854.73px;width:57.5px;height:58.59px;background:#80b8e0"><i>0.50</i></div>
<div class="c" style="left:1173.2px;top:3854.73px;width:54.9px;height:58.59px;background:#f2f8fc"><i>0.05</i></div>
<div class="c" style="left:1227.8px;top:3854.73px;width:54.7px;height:58.59px;background:#f6d9d9"><i>-0.15</i></div>
<div class="c" style="left:1282.2px;top:3854.73px;width:55.4px;height:58.59px;background:#f9e6e6"><i>-0.10</i></div>
<div class="c" style="left:1337.3px;top:3854.73px;width:56.2px;height:58.59px;background:#d96666"><i>-0.60</i></div>
<div class="c" style="left:1393.2px;top:3854.73px;width:55.7px;height:58.59px;background:#e38c8c"><i>-0.45</i></div>
<div class="c" style="left:1448.6px;top:3854.73px;width:55.7px;height:58.59px;background:#e9a6a6"><i>-0.35</i></div>
<div class="c" style="left:1504px;top:3854.73px;width:55.4px;height:58.59px;background:#a6cde9"><i>0.35</i></div>
<div class="c" style="left:1559.1px;top:3854.73px;width:56.2px;height:58.59px;background:#f9e6e6"><i>-0.10</i></div>
<div class="c" style="left:1615px;top:3854.73px;width:54.9px;height:58.59px;background:#c6dff1"><i>0.23</i></div>
<div class="c" style="left:1669.6px;top:3854.73px;width:56px;height:58.59px;background:#b9d8ee"><i>0.28</i></div>
<div class="c" style="left:1725.3px;top:3854.73px;width:55.2px;height:58.59px;background:#e6f1f9"><i>0.10</i></div>
<div class="c" style="left:1780.2px;top:3854.73px;width:55.4px;height:58.59px;background:#8cbfe3"><i>0.45</i></div>
<div class="c" style="left:1835.3px;top:3854.73px;width:56.1px;height:58.59px;background:#f2cccc"><i>-0.20</i></div>
<div class="c" style="left:1891.1px;top:3854.73px;width:56px;height:58.59px;background:#86bbe1"><i>0.47</i></div>
<div class="c" style="left:1946.8px;top:3854.73px;width:56.2px;height:58.59px;background:#0070c0"><i>1</i></div>
<div class="c" style="left:2002.7px;top:3854.73px;width:56.4px;height:58.59px;background:#2685c9"><i>0.85</i></div>
<div class="c" style="left:451.3px;top:3913.02px;width:56.2px;height:58.59px;background:#4094d0"><i>0.75</i></div>
<div class="c" style="left:507.2px;top:3913.02px;width:55.9px;height:58.59px;background:#dc7373"><i>-0.55</i></div>
<div class="c" style="left:562.8px;top:3913.02px;width:55.9px;height:58.59px;background:#d2e6f4"><i>0.17</i></div>
<div class="c" style="left:618.4px;top:3913.02px;width:55.6px;height:58.59px;background:#c6dff1"><i>0.23</i></div>
<div class="c" style="left:673.7px;top:3913.02px;width:55.7px;height:58.59px;background:#eeb9b9"><i>-0.28</i></div>
<div class="c" style="left:729.1px;top:3913.02px;width:55.9px;height:58.59px;background:#4c9bd3"><i>0.70</i></div>
<div class="c" style="left:784.7px;top:3913.02px;width:55.9px;height:58.59px;background:#4094d0"><i>0.75</i></div>
<div class="c" style="left:840.3px;top:3913.02px;width:55.4px;height:58.59px;background:#f2f8fc"><i>0.05</i></div>
<div class="c" style="left:895.4px;top:3913.02px;width:56.4px;height:58.59px;background:#bfdbef"><i>0.25</i></div>
<div class="c" style="left:951.5px;top:3913.02px;width:54.9px;height:58.59px;background:#b2d4ec"><i>0.30</i></div>
<div class="c" style="left:1006.1px;top:3913.02px;width:55.8px;height:58.59px;background:#e6f1f9"><i>0.10</i></div>
<div class="c" style="left:1061.6px;top:3913.02px;width:54.7px;height:58.59px;background:#99c6e6"><i>0.40</i></div>
<div class="c" style="left:1116px;top:3913.02px;width:57.5px;height:58.59px;background:#99c6e6"><i>0.40</i></div>
<div class="c" style="left:1173.2px;top:3913.02px;width:54.9px;height:58.59px;background:#d9eaf6"><i>0.15</i></div>
<div class="c" style="left:1227.8px;top:3913.02px;width:54.7px;height:58.59px;background:#f9e6e6"><i>-0.10</i></div>
<div class="c" style="left:1282.2px;top:3913.02px;width:55.4px;height:58.59px;background:#fcf2f2"><i>-0.05</i></div>
<div class="c" style="left:1337.3px;top:3913.02px;width:56.2px;height:58.59px;background:#e38c8c"><i>-0.45</i></div>
<div class="c" style="left:1393.2px;top:3913.02px;width:55.7px;height:58.59px;background:#e38c8c"><i>-0.45</i></div>
<div class="c" style="left:1448.6px;top:3913.02px;width:55.7px;height:58.59px;background:#f2cccc"><i>-0.20</i></div>
<div class="c" style="left:1504px;top:3913.02px;width:55.4px;height:58.59px;background:#a6cde9"><i>0.35</i></div>
<div class="c" style="left:1559.1px;top:3913.02px;width:56.2px;height:58.59px;background:#efbfbf"><i>-0.25</i></div>
<div class="c" style="left:1615px;top:3913.02px;width:54.9px;height:58.59px;background:#e6f1f9"><i>0.10</i></div>
<div class="c" style="left:1669.6px;top:3913.02px;width:56px;height:58.59px;background:#dfedf7"><i>0.12</i></div>
<div class="c" style="left:1725.3px;top:3913.02px;width:55.2px;height:58.59px;background:#f2f8fc"><i>0.05</i></div>
<div class="c" style="left:1780.2px;top:3913.02px;width:55.4px;height:58.59px;background:#539ed4"><i>0.68</i></div>
<div class="c" style="left:1835.3px;top:3913.02px;width:56.1px;height:58.59px;background:#e6f1f9"><i>0.10</i></div>
<div class="c" style="left:1891.1px;top:3913.02px;width:56px;height:58.59px;background:#99c6e6"><i>0.40</i></div>
<div class="c" style="left:1946.8px;top:3913.02px;width:56.2px;height:58.59px;background:#2685c9"><i>0.85</i></div>
<div class="c" style="left:2002.7px;top:3913.02px;width:56.4px;height:58.59px;background:#0070c0"><i>1</i></div>
<div class="big" style="left:81.6px;top:2086.2px;transform:scaleX(0.889)">B</div>
<div class="vh" style="left:322.5px;top:2274.9px;transform:rotate(-90deg) translateY(-50%) scaleX(0.990)">Variables</div>
<div class="ch" style="left:480.65px;top:2275.4px;transform:rotate(-90deg) translateY(-50%) scaleX(0.976)">d18:1 (So)</div>
<div class="ch" style="left:536.4px;top:2275.4px;transform:rotate(-90deg) translateY(-50%) scaleX(0.965)">d18:0 (Sa)</div>
<div class="ch" style="left:592px;top:2275.4px;transform:rotate(-90deg) translateY(-50%) scaleX(0.994)">d18:0C16:0</div>
<div class="ch" style="left:647.45px;top:2275.4px;transform:rotate(-90deg) translateY(-50%) scaleX(0.994)">d18:0C18:0</div>
<div class="ch" style="left:702.8px;top:2275.4px;transform:rotate(-90deg) translateY(-50%) scaleX(0.994)">d18:0C22:0</div>
<div class="ch" style="left:758.3px;top:2275.4px;transform:rotate(-90deg) translateY(-50%) scaleX(1.056)">18:1/14:0</div>
<div class="ch" style="left:813.9px;top:2275.4px;transform:rotate(-90deg) translateY(-50%) scaleX(1.056)">18:1/16:0</div>
<div class="ch" style="left:869.25px;top:2275.4px;transform:rotate(-90deg) translateY(-50%) scaleX(1.056)">18:1/18:0</div>
<div class="ch" style="left:924.85px;top:2275.4px;transform:rotate(-90deg) translateY(-50%) scaleX(1.056)">18:1/20:0</div>
<div class="ch" style="left:980.2px;top:2275.4px;transform:rotate(-90deg) translateY(-50%) scaleX(1.056)">18:1/22:0</div>
<div class="ch" style="left:1035.25px;top:2275.4px;transform:rotate(-90deg) translateY(-50%) scaleX(1.056)">18:1/23:0</div>
<div class="ch" style="left:1090.2px;top:2275.4px;transform:rotate(-90deg) translateY(-50%) scaleX(1.056)">18:1/24:0</div>
<div class="ch" style="left:1146px;top:2275.4px;transform:rotate(-90deg) translateY(-50%) scaleX(1.032)">SM18:1/14:0</div>
<div class="ch" style="left:1201.9px;top:2275.4px;transform:rotate(-90deg) translateY(-50%) scaleX(1.032)">SM18:1/16:0</div>
<div class="ch" style="left:1256.4px;top:2275.4px;transform:rotate(-90deg) translateY(-50%) scaleX(1.032)">SM18:1/18:0</div>
<div class="ch" style="left:1311.15px;top:2275.4px;transform:rotate(-90deg) translateY(-50%) scaleX(1.032)">SM18:1/20:0</div>
<div class="ch" style="left:1366.65px;top:2275.4px;transform:rotate(-90deg) translateY(-50%) scaleX(1.032)">SM18:1/22:0</div>
<div class="ch" style="left:1422.3px;top:2275.4px;transform:rotate(-90deg) translateY(-50%) scaleX(1.032)">SM18:1/23:0</div>
<div class="ch" style="left:1477.7px;top:2275.4px;transform:rotate(-90deg) translateY(-50%) scaleX(1.032)">SM18:1/24:0</div>
<div class="ch" style="left:1532.95px;top:2275.4px;transform:rotate(-90deg) translateY(-50%) scaleX(1.025)">Hex18:1/16:0</div>
<div class="ch" style="left:1588.45px;top:2275.4px;transform:rotate(-90deg) translateY(-50%) scaleX(1.025)">Hex18:1/18:0</div>
<div class="ch" style="left:1643.7px;top:2275.4px;transform:rotate(-90deg) translateY(-50%) scaleX(1.025)">Hex18:1/20:0</div>
<div class="ch" style="left:1698.85px;top:2275.4px;transform:rotate(-90deg) translateY(-50%) scaleX(1.025)">Hex18:1/22:0</div>
<div class="ch" style="left:1754.15px;top:2275.4px;transform:rotate(-90deg) translateY(-50%) scaleX(1.021)">Hex18:1/24:1</div>
<div class="ch" style="left:1809.15px;top:2275.4px;transform:rotate(-90deg) translateY(-50%) scaleX(1.018)">Lac18:1/16:0</div>
<div class="ch" style="left:1864.6px;top:2275.4px;transform:rotate(-90deg) translateY(-50%) scaleX(1.018)">Lac18:1/18:0</div>
<div class="ch" style="left:1920.35px;top:2275.4px;transform:rotate(-90deg) translateY(-50%) scaleX(1.018)">Lac18:1/20:0</div>
<div class="ch" style="left:1976.15px;top:2275.4px;transform:rotate(-90deg) translateY(-50%) scaleX(1.018)">Lac18:1/22:0</div>
<div class="ch" style="left:2032.15px;top:2275.4px;transform:rotate(-90deg) translateY(-50%) scaleX(1.013)">Lac18:1/24:1</div>
<div class="rl" style="left:201.5px;top:2294.9px;transform:scaleX(0.942)">d18:1 (So)</div>
<div class="rl" style="left:201.5px;top:2353.19px;transform:scaleX(0.930)">d18:0 (Sa)</div>
<div class="rl" style="left:201.5px;top:2411.48px;transform:scaleX(0.961)">d18:0C16:0</div>
<div class="rl" style="left:201.5px;top:2469.77px;transform:scaleX(0.961)">d18:0C18:0</div>
<div class="rl" style="left:201.5px;top:2528.06px;transform:scaleX(0.961)">d18:0C22:0</div>
<div class="rl" style="left:201.5px;top:2586.35px;transform:scaleX(1.013)">18:1/14:0</div>
<div class="rl" style="left:201.5px;top:2644.64px;transform:scaleX(1.013)">18:1/16:0</div>
<div class="rl" style="left:201.5px;top:2702.93px;transform:scaleX(1.013)">18:1/18:0</div>
<div class="rl" style="left:201.5px;top:2761.22px;transform:scaleX(1.013)">18:1/20:0</div>
<div class="rl" style="left:201.5px;top:2819.51px;transform:scaleX(1.013)">18:1/22:0</div>
<div class="rl" style="left:201.5px;top:2877.8px;transform:scaleX(1.013)">18:1/23:0</div>
<div class="rl" style="left:201.5px;top:2936.09px;transform:scaleX(1.013)">18:1/24:0</div>
<div class="rl" style="left:201.5px;top:2994.38px;transform:scaleX(0.997)">SM18:1/14:0</div>
<div class="rl" style="left:201.5px;top:3052.67px;transform:scaleX(0.997)">SM18:1/16:0</div>
<div class="rl" style="left:201.5px;top:3110.96px;transform:scaleX(0.997)">SM18:1/18:0</div>
<div class="rl" style="left:201.5px;top:3169.25px;transform:scaleX(0.997)">SM18:1/20:0</div>
<div class="rl" style="left:201.5px;top:3227.54px;transform:scaleX(0.997)">SM18:1/22:0</div>
<div class="rl" style="left:201.5px;top:3285.83px;transform:scaleX(0.997)">SM18:1/23:0</div>
<div class="rl" style="left:201.5px;top:3344.12px;transform:scaleX(0.997)">SM18:1/24:0</div>
<div class="rl" style="left:201.5px;top:3402.41px;transform:scaleX(0.995)">Hex18:1/16:0</div>
<div class="rl" style="left:201.5px;top:3460.7px;transform:scaleX(0.995)">Hex18:1/18:0</div>
<div class="rl" style="left:201.5px;top:3518.99px;transform:scaleX(0.995)">Hex18:1/20:0</div>
<div class="rl" style="left:201.5px;top:3577.28px;transform:scaleX(0.995)">Hex18:1/22:0</div>
<div class="rl" style="left:201.5px;top:3635.57px;transform:scaleX(0.995)">Hex18:1/24:1</div>
<div class="rl" style="left:201.5px;top:3693.86px;transform:scaleX(0.984)">Lac18:1/16:0</div>
<div class="rl" style="left:201.5px;top:3752.15px;transform:scaleX(0.984)">Lac18:1/18:0</div>
<div class="rl" style="left:201.5px;top:3810.44px;transform:scaleX(0.984)">Lac18:1/20:0</div>
<div class="rl" style="left:201.5px;top:3868.73px;transform:scaleX(0.984)">Lac18:1/22:0</div>
<div class="rl" style="left:201.5px;top:3927.02px;transform:scaleX(0.983)">Lac18:1/24:1</div>
<div class="gl" style="left:37px;top:2283.4px;width:156.7px;height:116.58px"><span style="transform:scaleX(0.826)">BS</span></div>
<div class="gl" style="left:37px;top:2399.98px;width:156.7px;height:174.87px"><span style="transform:scaleX(0.961)">DHCer</span></div>
<div class="gl" style="left:37px;top:2574.85px;width:156.7px;height:408.03px"><span style="transform:scaleX(0.951)">Cer</span></div>
<div class="gl" style="left:37px;top:2982.88px;width:156.7px;height:408.03px"><span style="transform:scaleX(0.963)">SM</span></div>
<div class="gl" style="left:37px;top:3390.91px;width:156.7px;height:291.45px"><span style="transform:scaleX(0.966)">HexCer</span></div>
<div class="gl" style="left:37px;top:3682.36px;width:156.7px;height:291.45px"><span style="transform:scaleX(0.940)">LacCer</span></div>
<div class="cb" style="left:2088.6px;top:1551px;width:78px;height:889.5px;box-sizing:border-box;border:3px solid #8c8c8c;border-right-color:#5c5c5c;border-bottom-color:#7a7a7a;background:linear-gradient(to bottom,#fbeaea 0%,#fdf8f8 45%,#f7fbfe 55%,#e4f2fb 100%)"></div>
<div class="cb" style="left:2098px;top:1556px;width:59px;height:877.7px;background:linear-gradient(to bottom,#c00000 0%,#ffffff 50%,#0070c0 100%);box-shadow:inset 4px 0 5px rgba(0,0,0,.13),inset -4px 0 5px rgba(0,0,0,.2),inset 0 3px 3px rgba(0,0,0,.15),inset 0 -3px 3px rgba(0,0,0,.12)"></div>
</body></html>
